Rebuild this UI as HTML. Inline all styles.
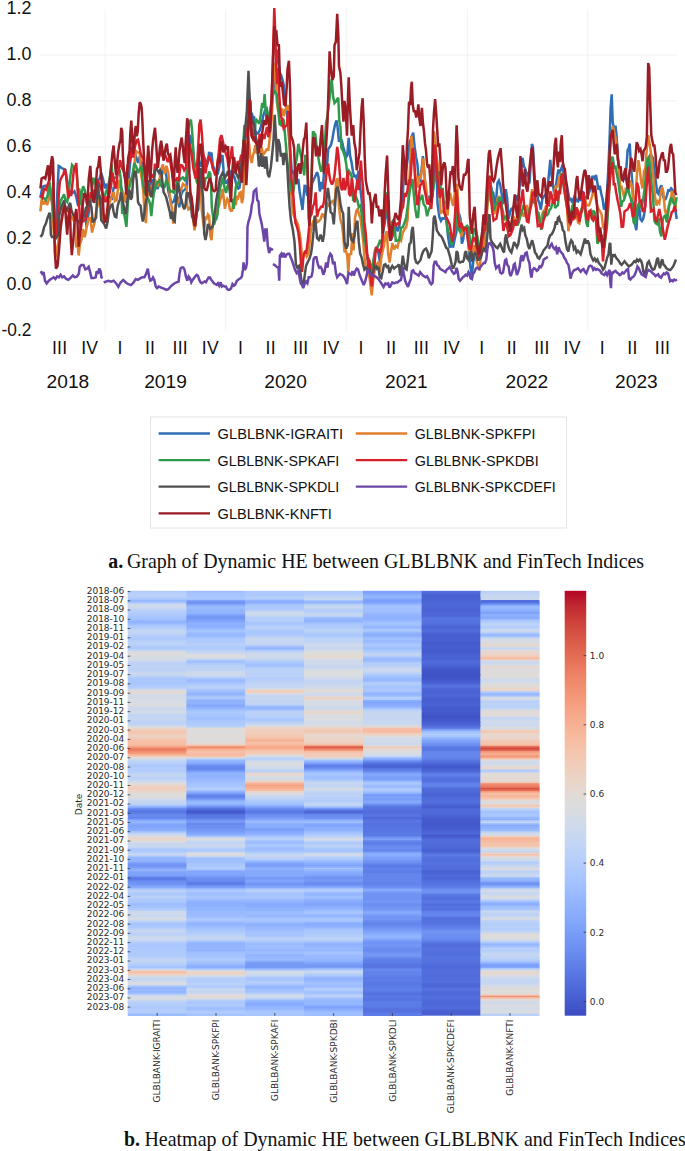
<!DOCTYPE html><html><head><meta charset="utf-8"><title>Dynamic HE</title>
<style>html,body{margin:0;padding:0;background:#fff}svg{display:block}.ax{font-family:"Liberation Sans",sans-serif;font-size:18px;fill:#111}.lg{font-family:"Liberation Sans",sans-serif;font-size:15.3px;fill:#111}.dv{font-family:"DejaVu Sans","Liberation Sans",sans-serif;font-size:9px;fill:#2a2a2a}.cap{font-family:"Liberation Serif",serif;font-size:19.9px;fill:#111}</style></head><body>
<svg width="685" height="1151" viewBox="0 0 685 1151">
<rect width="685" height="1151" fill="#fff"/>
<g stroke="#f1f1f1" stroke-width="0.9" fill="none">
<path d="M40.2 55.1H677.5"/>
<path d="M40.2 101.0H677.5"/>
<path d="M40.2 146.9H677.5"/>
<path d="M40.2 192.8H677.5"/>
<path d="M40.2 238.7H677.5"/>
<path d="M40.2 284.6H677.5"/>
<path d="M105.2 9.2V330.5"/>
<path d="M225.8 9.2V330.5"/>
<path d="M346.4 9.2V330.5"/>
<path d="M467.4 9.2V330.5"/>
<path d="M587.8 9.2V330.5"/>
</g>
<text class="ax" x="31.4" y="14.2" text-anchor="end" style="font-size:18.6px" textLength="24.9" lengthAdjust="spacingAndGlyphs">1.2</text>
<text class="ax" x="31.4" y="60.1" text-anchor="end" style="font-size:18.6px" textLength="24.9" lengthAdjust="spacingAndGlyphs">1.0</text>
<text class="ax" x="31.4" y="106.0" text-anchor="end" style="font-size:18.6px" textLength="24.9" lengthAdjust="spacingAndGlyphs">0.8</text>
<text class="ax" x="31.4" y="151.9" text-anchor="end" style="font-size:18.6px" textLength="24.9" lengthAdjust="spacingAndGlyphs">0.6</text>
<text class="ax" x="31.4" y="197.8" text-anchor="end" style="font-size:18.6px" textLength="24.9" lengthAdjust="spacingAndGlyphs">0.4</text>
<text class="ax" x="31.4" y="243.7" text-anchor="end" style="font-size:18.6px" textLength="24.9" lengthAdjust="spacingAndGlyphs">0.2</text>
<text class="ax" x="31.4" y="289.6" text-anchor="end" style="font-size:18.6px" textLength="24.9" lengthAdjust="spacingAndGlyphs">0.0</text>
<text class="ax" x="31.4" y="335.5" text-anchor="end" style="font-size:18.6px" textLength="29.8" lengthAdjust="spacingAndGlyphs">-0.2</text>
<text class="ax" x="59.7" y="354.2" text-anchor="middle" style="font-size:17.6px;letter-spacing:0.25px">III</text>
<text class="ax" x="89.8" y="354.2" text-anchor="middle" style="font-size:17.6px;letter-spacing:0.25px">IV</text>
<text class="ax" x="120.0" y="354.2" text-anchor="middle" style="font-size:17.6px;letter-spacing:0.25px">I</text>
<text class="ax" x="150.1" y="354.2" text-anchor="middle" style="font-size:17.6px;letter-spacing:0.25px">II</text>
<text class="ax" x="180.3" y="354.2" text-anchor="middle" style="font-size:17.6px;letter-spacing:0.25px">III</text>
<text class="ax" x="210.4" y="354.2" text-anchor="middle" style="font-size:17.6px;letter-spacing:0.25px">IV</text>
<text class="ax" x="240.5" y="354.2" text-anchor="middle" style="font-size:17.6px;letter-spacing:0.25px">I</text>
<text class="ax" x="270.7" y="354.2" text-anchor="middle" style="font-size:17.6px;letter-spacing:0.25px">II</text>
<text class="ax" x="300.8" y="354.2" text-anchor="middle" style="font-size:17.6px;letter-spacing:0.25px">III</text>
<text class="ax" x="331.0" y="354.2" text-anchor="middle" style="font-size:17.6px;letter-spacing:0.25px">IV</text>
<text class="ax" x="361.1" y="354.2" text-anchor="middle" style="font-size:17.6px;letter-spacing:0.25px">I</text>
<text class="ax" x="391.2" y="354.2" text-anchor="middle" style="font-size:17.6px;letter-spacing:0.25px">II</text>
<text class="ax" x="421.4" y="354.2" text-anchor="middle" style="font-size:17.6px;letter-spacing:0.25px">III</text>
<text class="ax" x="451.5" y="354.2" text-anchor="middle" style="font-size:17.6px;letter-spacing:0.25px">IV</text>
<text class="ax" x="481.7" y="354.2" text-anchor="middle" style="font-size:17.6px;letter-spacing:0.25px">I</text>
<text class="ax" x="511.8" y="354.2" text-anchor="middle" style="font-size:17.6px;letter-spacing:0.25px">II</text>
<text class="ax" x="541.9" y="354.2" text-anchor="middle" style="font-size:17.6px;letter-spacing:0.25px">III</text>
<text class="ax" x="572.1" y="354.2" text-anchor="middle" style="font-size:17.6px;letter-spacing:0.25px">IV</text>
<text class="ax" x="602.2" y="354.2" text-anchor="middle" style="font-size:17.6px;letter-spacing:0.25px">I</text>
<text class="ax" x="632.4" y="354.2" text-anchor="middle" style="font-size:17.6px;letter-spacing:0.25px">II</text>
<text class="ax" x="662.5" y="354.2" text-anchor="middle" style="font-size:17.6px;letter-spacing:0.25px">III</text>
<text class="ax" x="67.9" y="388.2" text-anchor="middle" style="font-size:18.6px" textLength="42.6" lengthAdjust="spacingAndGlyphs">2018</text>
<text class="ax" x="165.5" y="388.2" text-anchor="middle" style="font-size:18.6px" textLength="42.6" lengthAdjust="spacingAndGlyphs">2019</text>
<text class="ax" x="285.6" y="388.2" text-anchor="middle" style="font-size:18.6px" textLength="42.6" lengthAdjust="spacingAndGlyphs">2020</text>
<text class="ax" x="406.3" y="388.2" text-anchor="middle" style="font-size:18.6px" textLength="42.6" lengthAdjust="spacingAndGlyphs">2021</text>
<text class="ax" x="526.9" y="388.2" text-anchor="middle" style="font-size:18.6px" textLength="42.6" lengthAdjust="spacingAndGlyphs">2022</text>
<text class="ax" x="636.4" y="388.2" text-anchor="middle" style="font-size:18.6px" textLength="42.6" lengthAdjust="spacingAndGlyphs">2023</text>
<path d="M40.4 197.9 42.3 187.1 44.1 186.0 45.9 185.8 47.7 186.2 49.6 190.8 51.4 198.1 53.2 210.3 55.0 225.2 56.2 221.6 57.5 189.1 58.7 166.0 59.9 166.6 61.7 168.2 63.5 168.8 65.4 169.8 66.6 177.7 67.8 183.8 69.0 194.0 70.8 191.4 72.7 192.9 74.5 191.2 76.3 197.0 78.1 206.1 79.9 202.8 81.8 203.8 83.6 214.0 85.4 216.1 86.6 227.7 88.5 214.0 90.3 200.9 92.1 201.0 93.9 191.1 95.8 192.3 97.6 180.2 99.4 179.2 101.2 172.9 103.0 179.0 104.9 188.4 106.7 183.8 108.5 195.5 110.3 197.6 112.0 198.5 113.6 187.8 115.5 187.6 117.3 182.4 119.1 183.6 120.9 186.3 122.8 193.0 124.6 198.1 126.4 202.4 128.2 183.2 130.1 163.4 131.9 149.2 133.1 144.3 134.3 151.4 136.1 156.6 138.0 162.9 139.8 156.6 141.6 166.5 142.8 162.1 144.7 167.6 146.5 179.8 148.3 189.7 150.1 186.3 151.9 180.1 153.8 181.7 155.6 184.5 157.4 189.0 159.2 184.2 161.1 179.4 162.9 169.6 164.7 169.5 166.5 176.8 168.4 191.5 170.2 199.0 172.0 202.9 173.8 201.6 175.7 194.2 177.5 197.1 179.3 207.4 181.1 194.7 182.9 191.0 184.8 189.7 186.6 186.9 187.2 171.3 188.4 157.3 189.6 145.4 190.9 137.0 192.1 138.2 193.3 153.0 194.5 165.1 195.7 164.4 196.9 167.9 198.2 163.8 199.4 163.1 200.6 167.0 201.8 160.8 203.0 155.0 204.2 157.1 205.5 160.8 206.7 166.7 207.9 161.9 209.1 152.0 210.3 154.8 211.5 152.5 212.7 164.7 214.0 168.5 215.2 175.2 216.4 171.7 217.6 174.6 218.8 168.9 220.0 163.7 221.3 157.5 222.5 155.0 223.7 173.5 224.9 182.7 226.1 182.7 227.3 180.9 228.6 185.1 229.8 176.7 231.0 170.6 232.2 174.7 233.4 175.7 234.6 177.6 235.8 182.4 237.1 186.5 238.3 188.5 239.5 187.8 240.7 178.6 241.9 168.8 243.1 157.4 244.4 144.8 245.6 141.9 246.8 133.5 248.0 126.6 249.2 127.0 250.4 118.2 251.7 112.9 252.9 118.0 254.1 117.5 255.3 130.5 256.5 133.8 257.7 133.4 258.9 131.8 259.7 130.7 261.5 124.4 263.2 115.9 265.0 110.5 266.7 108.7 268.4 121.7 270.2 113.2 271.9 103.7 273.6 88.8 275.4 72.5 276.4 56.9 277.5 49.6 278.5 62.9 279.9 72.8 281.3 75.7 282.3 79.1 283.7 84.6 285.1 102.4 286.5 107.1 287.9 123.0 289.3 142.1 290.7 156.3 291.9 173.7 293.2 170.5 294.5 183.8 295.8 177.7 297.1 183.1 298.3 178.8 299.7 192.1 301.1 200.8 302.5 210.0 303.5 197.4 304.6 185.8 305.6 185.9 307.0 194.8 308.7 195.2 310.5 194.1 312.2 183.4 314.0 179.0 315.4 175.9 317.1 172.2 318.5 177.1 319.9 191.5 321.3 181.9 322.7 189.2 324.0 172.9 325.8 161.4 327.0 166.1 328.2 149.1 329.6 147.3 331.0 144.7 332.4 139.0 333.8 130.4 335.2 124.2 336.6 120.3 337.6 127.4 339.0 141.8 340.4 138.5 341.8 140.5 343.2 146.7 344.5 151.6 345.9 157.2 347.3 155.2 348.7 137.8 350.1 155.9 351.5 162.1 352.9 171.3 354.3 177.2 355.7 174.9 357.1 180.4 358.5 170.6 359.5 175.7 360.5 189.6 361.9 202.9 363.3 219.0 364.7 231.7 366.1 249.9 367.8 258.4 369.7 268.0 371.5 269.2 373.2 261.7 375.0 253.1 376.7 247.5 378.4 252.8 380.2 263.6 381.9 243.9 383.6 228.9 385.4 219.1 387.1 209.8 388.9 224.5 390.6 240.5 392.3 237.0 394.1 229.4 395.8 225.4 397.5 231.2 399.3 226.5 401.0 207.8 402.8 195.6 404.1 166.1 405.5 173.3 406.9 164.6 408.3 154.0 409.7 141.9 411.4 138.0 413.2 132.7 414.6 146.5 416.0 156.7 417.4 163.8 418.7 179.4 420.1 181.9 421.5 170.5 422.9 156.1 424.3 172.0 425.7 192.1 427.1 200.8 428.5 195.6 429.9 204.8 431.3 201.2 432.7 193.2 434.0 176.1 435.4 150.0 436.5 165.1 437.5 203.2 439.3 216.8 441.0 220.8 442.4 218.2 443.8 218.6 445.2 217.8 446.6 221.4 447.9 235.5 449.7 246.9 451.4 246.2 453.2 246.6 454.9 237.9 456.3 232.9 457.7 214.8 459.1 214.1 460.5 218.5 461.8 243.7 463.2 239.4 464.6 226.7 466.0 231.7 467.4 234.3 468.8 247.5 470.5 267.6 471.9 275.2 473.3 261.6 474.7 254.8 476.1 245.1 477.5 243.1 479.4 248.4 480.8 247.1 482.2 235.2 483.6 232.8 485.0 226.5 486.3 215.2 487.7 196.4 489.1 178.6 490.5 183.7 491.9 190.8 493.3 193.0 494.7 203.7 496.1 200.7 497.5 183.0 498.9 180.6 500.2 184.7 501.6 193.6 503.0 204.1 504.4 194.3 505.8 189.3 507.2 198.7 508.6 218.7 510.0 212.6 511.4 208.7 512.8 208.2 514.1 205.6 515.5 201.0 516.9 195.3 518.3 200.7 519.7 184.6 521.1 168.9 522.5 157.8 523.9 166.2 525.3 169.1 526.7 174.7 528.1 173.1 529.4 183.5 530.8 163.8 531.9 144.0 532.9 146.5 534.0 165.1 535.4 187.5 536.7 189.5 538.1 200.1 539.5 203.5 540.9 209.6 542.3 199.2 543.7 196.5 545.1 195.1 546.5 197.3 547.9 184.8 549.3 170.2 550.3 159.9 551.3 173.7 552.7 182.7 554.1 193.7 555.5 188.5 556.9 179.0 558.3 169.7 559.7 172.3 561.1 169.3 562.5 164.5 563.9 176.2 565.2 182.4 566.6 186.0 568.0 191.7 569.4 199.7 570.8 199.0 572.2 202.7 573.6 198.6 575.0 194.7 575.2 197.9 576.6 200.9 578.0 201.4 579.3 195.1 580.7 201.1 582.1 191.6 583.5 192.8 584.9 199.1 586.3 197.7 587.7 196.2 589.1 192.0 590.5 188.8 591.9 176.8 593.2 176.6 594.6 178.6 596.0 175.0 597.1 181.2 598.5 189.9 599.8 185.8 601.2 193.5 602.6 199.3 604.0 209.4 605.4 207.5 606.8 195.6 608.2 172.1 609.6 139.1 610.6 108.4 611.7 94.4 612.7 122.0 614.1 129.1 615.5 125.7 616.5 134.8 617.9 158.5 619.3 171.2 620.7 175.0 622.1 180.8 623.5 178.1 624.9 179.8 626.3 168.6 627.7 149.8 628.7 148.4 629.7 143.6 630.8 163.1 632.2 180.9 633.6 205.7 635.0 223.9 636.3 230.2 637.7 212.6 639.1 206.1 640.5 219.2 641.9 221.0 643.3 218.6 644.7 211.2 646.1 181.4 647.5 169.8 648.9 157.4 650.2 155.1 651.6 155.7 653.0 158.2 654.4 170.7 655.8 181.5 657.2 192.5 658.6 194.1 660.0 188.0 661.4 185.3 662.8 195.0 664.2 199.2 665.5 199.2 666.9 195.6 668.3 190.3 669.7 190.6 671.1 188.3 672.5 189.9 673.9 198.4 675.3 208.7 676.7 219.0" fill="none" stroke="#2f6db5" stroke-width="2.5" stroke-linejoin="miter" stroke-miterlimit="2.5" stroke-linecap="butt"/>
<path d="M40.4 211.4 41.6 199.4 43.5 204.4 45.3 200.7 47.1 205.1 48.9 199.3 50.2 191.3 51.4 190.4 53.2 225.6 55.0 246.4 56.2 257.4 57.5 247.2 58.9 237.7 60.5 224.3 62.3 217.9 64.1 202.5 66.0 214.3 67.8 222.0 69.6 215.1 71.4 216.6 72.7 218.7 74.5 222.2 76.3 247.5 77.5 242.4 78.7 255.5 79.9 244.4 81.5 239.7 83.0 229.0 84.8 237.3 86.6 227.6 88.5 218.3 90.3 218.1 92.1 232.5 93.3 227.1 94.5 223.2 96.4 209.4 98.2 204.1 100.0 195.4 101.8 208.3 103.7 222.5 105.5 216.9 107.3 213.0 109.1 204.2 110.9 198.7 112.4 195.6 113.6 191.9 114.9 201.1 116.7 200.0 118.5 183.3 119.7 179.8 120.9 190.2 122.2 193.3 123.4 193.2 125.2 201.6 127.0 193.0 128.8 179.7 130.7 179.0 132.5 178.4 134.3 167.3 135.5 150.6 137.0 152.2 138.2 152.5 139.7 153.4 141.0 174.2 142.2 181.4 143.4 193.1 144.7 215.3 145.9 223.1 147.1 202.0 148.3 187.4 149.5 196.0 151.3 187.2 153.2 189.4 155.0 179.4 156.8 184.5 158.0 186.3 159.8 177.2 161.1 169.5 162.9 164.4 164.7 173.8 166.5 165.9 168.4 173.1 169.6 193.1 170.8 203.6 172.0 208.1 173.2 223.7 174.4 217.3 175.7 204.8 177.5 203.5 179.3 200.3 181.1 189.7 182.9 183.9 184.8 185.5 186.6 186.6 187.2 205.9 188.4 209.5 189.6 209.0 190.9 206.1 192.1 208.0 193.3 221.2 194.5 230.3 195.7 222.5 196.9 204.3 198.2 198.2 199.4 187.0 200.6 185.6 201.8 210.6 203.0 221.1 204.2 228.6 205.5 216.7 206.7 218.1 207.9 214.4 209.1 216.0 210.3 235.4 211.5 240.2 212.7 226.0 214.0 218.5 215.2 217.5 216.4 217.2 217.6 207.6 218.8 206.5 220.0 200.7 221.3 196.9 222.5 188.8 223.7 197.3 224.9 208.8 226.1 202.3 227.3 198.9 228.6 201.2 229.8 209.0 231.0 210.9 232.2 210.6 233.4 202.5 234.6 198.2 235.8 205.2 237.1 195.9 238.3 197.7 239.5 192.9 240.7 192.1 241.9 203.2 243.1 197.6 244.4 170.6 245.6 152.1 246.8 144.6 248.0 137.4 249.2 144.6 250.4 158.1 251.7 163.0 252.9 155.9 254.1 151.6 255.3 145.2 256.5 153.2 257.7 151.5 258.9 148.4 259.7 152.8 261.5 146.9 263.2 154.7 265.0 152.2 266.7 149.5 268.4 149.8 270.2 133.9 271.9 116.7 273.6 73.6 275.4 62.7 276.8 101.5 278.2 111.7 279.6 103.5 280.9 115.8 282.3 108.4 283.7 116.1 285.1 110.6 286.5 106.9 287.9 105.2 289.3 123.4 290.3 170.9 291.4 196.1 292.8 212.1 294.5 217.8 296.2 220.6 298.0 224.5 299.0 230.0 300.4 237.8 301.8 253.6 303.2 257.4 304.9 251.7 306.7 256.6 308.4 253.6 309.4 245.6 310.8 230.6 312.2 224.1 313.6 220.6 315.4 216.9 317.1 222.4 318.8 221.4 320.6 219.2 322.3 213.5 324.0 216.8 325.8 213.2 327.5 204.0 329.3 205.9 331.0 202.3 332.7 201.0 334.5 205.6 336.2 180.7 337.6 178.3 339.0 206.9 340.4 219.0 341.8 223.9 343.2 234.6 344.5 252.2 345.9 250.5 347.3 256.1 348.4 272.2 349.4 254.1 351.2 254.0 352.2 233.0 353.6 250.5 355.0 218.1 356.4 210.7 357.8 209.2 359.1 214.8 360.5 218.3 361.9 230.5 363.3 241.6 364.7 260.0 366.1 268.0 367.8 274.5 369.4 276.7 370.8 288.2 371.8 295.3 373.2 279.9 375.0 268.8 376.7 264.7 378.4 262.0 379.8 272.2 381.2 258.8 382.6 251.3 384.0 245.6 385.4 235.5 386.8 231.0 388.2 254.0 389.6 262.6 390.9 252.9 392.3 243.0 394.1 249.4 395.8 246.0 397.5 247.4 399.3 238.9 401.0 240.8 402.8 232.6 404.5 229.2 406.2 227.1 407.6 219.6 409.0 189.6 410.4 158.1 411.4 135.7 412.5 146.2 413.9 156.0 415.3 174.1 416.7 186.6 418.1 186.6 419.4 177.0 420.8 177.5 422.2 165.9 423.3 158.3 424.7 178.6 426.0 185.7 427.4 199.2 428.8 200.9 430.2 201.9 431.6 195.5 433.0 163.3 434.0 131.3 435.4 142.5 436.5 156.1 437.9 165.9 439.3 182.8 440.6 213.6 442.0 211.3 443.4 211.6 444.8 200.8 446.2 209.8 447.6 215.4 449.0 195.7 450.4 194.5 451.8 201.0 453.2 205.8 454.5 195.7 455.9 185.0 457.3 184.9 458.4 211.6 459.8 224.8 461.2 236.7 462.5 232.8 463.9 226.8 465.3 228.9 466.7 234.3 468.1 237.7 469.5 252.0 470.9 250.2 472.3 253.7 473.7 245.3 475.1 248.5 476.4 260.0 477.8 264.6 479.4 270.5 480.8 256.7 482.2 245.4 483.6 247.9 485.0 239.0 486.3 224.0 487.7 200.9 489.1 187.2 490.5 201.0 491.9 203.1 493.3 209.3 494.7 212.9 496.1 211.6 497.5 198.7 498.9 196.9 500.2 197.6 501.6 208.0 503.0 211.9 504.4 219.6 505.8 218.7 507.2 221.1 508.6 222.2 510.0 224.6 511.4 225.2 512.8 220.5 514.1 217.5 515.5 219.5 516.9 218.9 518.3 223.4 519.7 214.9 521.1 210.6 522.5 213.2 523.9 216.8 525.3 210.9 526.7 205.0 528.1 217.5 529.4 209.6 530.8 198.4 532.2 189.1 533.6 196.9 535.0 201.0 536.4 209.4 537.8 219.0 539.2 221.3 540.6 220.5 542.0 215.1 543.3 211.4 544.7 209.9 546.1 205.9 547.5 205.6 548.9 200.4 550.3 195.8 551.7 195.7 553.1 195.4 554.5 192.1 555.9 185.8 557.2 187.7 558.6 180.2 560.0 176.2 561.4 173.1 562.8 177.2 564.2 187.6 565.6 197.5 567.0 207.0 568.4 231.3 569.8 219.9 571.2 215.2 572.5 218.4 573.9 217.4 575.1 219.1 576.2 208.6 578.0 222.6 579.3 223.4 580.7 216.3 582.1 206.7 583.5 208.5 584.9 197.1 586.3 205.3 587.7 205.5 589.1 205.3 590.5 201.2 591.9 196.8 593.2 192.1 594.6 192.2 596.0 199.8 597.4 206.6 598.8 209.3 600.2 211.5 601.6 214.5 603.0 226.5 604.4 229.5 605.8 223.9 607.1 210.9 608.5 183.6 609.9 153.0 611.3 135.2 612.7 126.1 614.1 131.7 615.5 137.7 616.5 145.6 617.6 153.0 619.0 173.6 620.4 189.2 621.7 187.5 623.1 193.2 624.5 198.4 625.9 187.7 627.3 192.0 628.7 188.9 630.1 180.3 631.5 184.8 632.9 195.5 634.3 202.0 635.7 194.8 637.0 173.5 638.4 160.2 639.8 169.4 641.2 182.6 642.6 188.4 644.0 171.2 645.4 168.4 646.8 148.6 648.2 135.1 649.6 143.8 650.9 152.5 652.3 166.2 653.7 180.5 655.1 196.9 656.5 205.5 657.9 201.6 659.3 203.3 660.7 193.4 662.1 186.8 663.5 192.6 664.8 209.7 666.2 214.6 667.6 210.7 669.0 204.9 670.4 203.8 671.8 190.9 673.2 195.7 674.6 198.1 676.0 207.8" fill="none" stroke="#e07f2c" stroke-width="2.5" stroke-linejoin="miter" stroke-miterlimit="2.5" stroke-linecap="butt"/>
<path d="M40.4 197.0 42.3 197.5 44.1 198.4 45.9 200.0 47.7 195.3 49.6 182.0 50.8 191.8 52.0 200.1 53.8 218.9 55.6 236.8 56.8 226.3 58.7 211.2 60.5 200.9 62.3 197.7 64.1 194.2 65.4 200.2 67.2 202.0 69.0 190.0 70.6 174.5 72.0 164.8 73.9 167.0 75.7 166.4 76.9 175.7 78.1 190.6 79.3 188.5 80.6 205.2 81.8 192.3 83.2 186.3 84.8 190.0 86.0 197.6 87.8 207.5 89.7 203.3 91.5 194.4 93.3 177.8 95.1 181.5 97.0 196.3 98.8 197.8 100.6 198.2 102.4 204.1 104.3 198.6 106.1 191.3 107.9 188.8 109.7 178.3 111.6 164.4 112.4 175.1 114.3 178.1 116.1 177.6 117.9 172.8 119.7 171.2 120.9 180.2 122.2 212.8 124.0 213.3 125.2 219.5 126.4 226.9 127.6 207.5 128.8 189.4 130.7 181.4 132.5 174.9 134.3 163.1 136.1 166.4 138.0 172.9 139.8 168.9 141.6 166.2 142.8 182.9 144.7 192.5 146.5 195.8 148.3 199.0 150.1 203.7 151.3 216.2 152.6 202.9 153.8 193.6 155.6 186.0 157.4 182.2 159.2 180.8 161.1 185.6 162.9 187.9 164.7 186.9 166.5 179.4 168.4 186.7 170.2 191.7 172.0 191.2 173.8 192.6 175.7 187.2 177.5 179.2 179.3 181.0 181.1 178.5 182.9 177.5 184.8 180.2 186.6 175.8 187.2 133.3 188.4 127.1 189.6 121.5 190.9 119.7 192.1 130.5 193.3 150.3 194.5 169.7 195.7 176.8 196.9 182.2 198.2 184.0 199.4 173.4 200.6 172.4 201.8 169.3 203.0 178.8 204.2 187.3 205.5 178.4 206.7 177.9 207.9 176.9 209.1 171.6 210.3 173.6 211.0 183.2 211.8 207.0 212.7 214.2 214.0 224.7 215.2 220.6 216.4 218.8 217.6 213.7 218.8 197.9 220.0 187.7 221.3 183.8 222.5 177.4 223.7 183.1 224.9 189.7 226.1 192.8 227.3 186.5 228.6 184.1 229.8 191.6 231.0 201.0 232.2 199.2 233.7 208.8 234.6 199.7 235.8 187.0 237.1 183.5 238.3 183.8 239.5 176.7 240.7 173.3 241.9 168.0 243.1 147.6 244.4 126.0 245.1 125.6 246.1 136.5 247.3 134.0 248.5 129.0 249.7 120.1 250.9 123.7 252.1 133.3 253.4 130.9 254.6 132.8 255.8 118.9 257.0 120.4 258.2 122.2 259.4 123.9 260.8 114.5 262.2 102.9 263.6 107.9 264.6 94.1 265.6 108.8 267.0 121.4 268.8 116.5 270.5 107.8 272.3 98.5 274.0 90.0 275.4 92.1 276.8 94.6 278.2 109.9 279.6 124.2 280.9 125.3 282.3 118.3 283.7 120.3 284.8 132.4 285.8 143.3 286.8 155.8 287.9 167.1 288.9 180.2 290.0 179.5 291.0 188.4 292.4 194.4 293.8 189.3 295.2 165.4 296.9 158.3 298.3 143.9 299.4 148.5 300.4 153.6 301.4 157.7 302.8 165.3 304.2 175.4 305.3 154.8 306.7 158.7 308.4 189.7 309.8 188.6 310.8 200.7 311.9 168.9 312.9 132.3 313.6 132.1 315.4 134.6 316.7 147.8 318.1 156.3 319.5 164.2 320.6 169.7 321.6 171.6 322.7 166.1 324.0 148.7 325.1 139.4 326.1 123.4 327.5 115.4 329.3 101.1 330.6 88.1 331.7 79.1 333.1 96.6 334.5 103.1 335.9 101.6 337.2 99.0 338.3 97.8 339.3 121.0 340.4 126.6 341.4 148.0 343.2 151.4 344.9 156.6 346.3 164.7 347.7 177.4 349.1 171.3 350.5 173.2 351.8 177.1 353.2 200.9 354.6 197.7 356.0 196.8 357.4 200.4 358.8 207.1 360.5 205.4 361.6 213.5 363.0 226.3 364.4 240.7 365.8 245.1 367.5 258.6 368.6 258.5 369.7 262.6 371.5 269.5 373.2 262.8 375.0 250.0 376.7 248.4 378.4 245.2 380.2 239.9 381.9 243.5 383.6 225.5 385.4 210.2 386.4 192.3 387.8 214.3 389.2 230.1 390.6 233.7 392.3 221.7 394.1 219.2 395.8 240.8 397.5 240.5 399.3 240.0 401.0 227.7 402.8 227.2 404.5 222.8 406.2 217.7 408.0 203.8 409.7 191.7 411.4 182.1 412.5 179.0 413.9 195.3 415.3 208.9 416.7 217.0 418.1 216.8 419.4 200.5 420.8 198.8 422.2 194.8 423.6 204.1 425.4 206.5 427.1 216.3 428.8 209.8 430.6 205.3 432.3 195.5 434.0 183.9 435.8 175.2 437.5 172.2 439.3 172.8 441.0 190.5 442.7 188.1 444.5 213.0 446.2 218.4 447.9 232.2 449.7 234.0 451.4 244.7 453.2 236.7 454.9 231.9 456.6 208.7 458.4 229.0 460.1 231.6 461.8 228.7 463.6 228.1 465.3 227.7 467.1 225.9 468.8 227.7 470.5 247.6 472.3 241.4 474.0 229.4 475.8 229.0 477.5 237.5 479.4 249.5 480.8 246.2 482.2 236.8 483.6 233.4 485.0 228.8 486.3 218.3 487.7 191.9 489.1 175.5 490.2 179.6 491.2 190.3 492.6 200.9 494.0 210.5 495.4 205.2 496.8 203.9 498.2 200.8 499.6 197.1 500.9 200.6 502.3 209.3 503.7 219.0 505.1 217.2 506.5 216.0 507.9 222.8 509.3 226.6 510.7 231.6 512.1 227.7 513.5 221.0 514.8 221.4 516.2 220.6 517.6 225.5 519.0 221.3 520.4 216.0 521.8 211.7 523.2 206.5 524.6 207.1 526.0 215.4 527.4 215.5 528.7 215.4 530.1 207.8 531.5 202.3 532.9 198.7 534.3 202.7 535.7 202.6 537.1 211.8 538.5 212.9 539.9 221.5 541.3 229.8 542.7 222.2 544.0 211.1 545.4 214.9 546.8 215.3 548.2 213.9 549.6 209.6 551.0 208.3 552.4 203.2 553.8 198.4 555.2 208.1 556.6 206.3 557.9 205.1 559.3 192.2 560.7 184.6 561.8 173.2 562.8 178.5 564.2 189.8 565.6 198.3 567.0 206.3 568.4 206.4 569.8 216.8 571.2 211.9 572.5 205.4 573.9 202.8 575.1 211.5 576.2 211.3 578.0 213.8 579.3 218.4 580.7 211.1 582.1 207.8 583.5 206.9 584.9 209.3 586.3 222.4 587.7 226.8 589.1 212.0 590.5 212.3 591.9 218.5 593.2 210.4 594.6 212.3 596.0 220.5 597.4 243.6 598.8 241.1 600.2 240.8 601.6 235.1 603.0 244.5 604.4 247.9 605.8 235.2 607.1 225.1 608.5 201.6 609.9 178.4 611.3 158.5 612.7 156.8 614.1 167.3 615.5 166.7 616.9 174.2 618.3 181.9 619.7 191.7 621.1 207.0 622.4 201.5 623.8 200.5 625.2 195.8 626.6 191.7 628.0 185.7 629.4 194.7 630.8 198.3 632.2 206.7 633.6 222.2 635.0 224.2 636.3 215.0 637.7 205.5 639.1 203.4 640.5 206.6 641.9 205.0 643.3 198.5 644.7 188.1 646.1 173.3 647.5 158.6 648.9 157.3 650.2 167.5 651.6 185.3 653.0 196.3 654.4 221.0 655.8 223.4 657.2 224.3 658.6 217.9 660.0 231.7 661.4 236.3 662.8 219.3 664.2 216.3 665.5 215.5 666.9 222.4 668.3 212.1 669.7 202.1 671.1 197.5 672.5 201.3 673.9 203.6 675.3 204.7 676.7 197.3" fill="none" stroke="#2f9a4c" stroke-width="2.5" stroke-linejoin="miter" stroke-miterlimit="2.5" stroke-linecap="butt"/>
<path d="M40.4 195.2 42.3 197.7 44.1 188.8 45.9 189.9 47.7 184.5 49.6 179.1 51.1 169.8 52.3 158.5 53.2 179.9 54.4 216.7 56.2 237.4 57.5 219.3 58.7 195.6 59.9 181.3 61.7 177.0 63.5 174.3 64.7 168.7 66.0 174.5 67.2 187.6 68.4 198.2 69.9 190.7 71.1 196.0 72.7 181.5 73.9 169.1 75.1 168.0 76.3 163.1 77.1 178.3 78.1 199.4 79.3 207.9 80.6 230.1 81.8 219.1 83.6 221.1 85.4 219.6 87.2 212.3 89.1 199.8 90.9 192.3 92.7 197.8 94.5 198.7 96.4 188.3 98.2 180.6 100.0 186.2 101.8 191.2 103.7 197.5 105.5 202.1 107.3 197.1 109.1 195.1 110.9 186.6 112.4 172.7 113.6 179.2 114.9 186.6 116.1 188.2 117.5 174.4 118.8 170.1 120.0 160.1 121.2 164.9 122.4 168.8 124.0 171.8 125.8 180.4 127.6 165.4 129.5 161.8 131.3 147.1 133.1 157.6 134.9 146.7 136.7 140.4 138.0 139.7 139.2 145.6 140.4 152.4 141.9 156.6 143.3 158.0 144.8 175.9 146.2 177.6 147.4 160.2 148.4 151.2 149.6 165.4 151.1 178.0 152.6 174.2 153.8 177.5 155.0 163.7 156.4 170.7 157.9 160.7 159.4 155.6 160.8 150.1 162.3 155.1 164.1 153.4 165.9 156.5 167.8 162.1 169.6 157.1 171.4 168.6 173.2 180.2 175.0 180.8 176.9 178.5 178.7 180.9 180.5 165.0 182.3 165.5 184.2 170.3 186.0 167.5 187.2 139.9 188.4 143.6 189.6 144.4 190.9 150.5 192.1 158.0 193.3 168.0 194.5 173.6 195.7 178.7 196.9 169.1 198.2 146.3 199.4 124.2 200.6 119.5 201.8 132.8 203.0 150.8 204.2 159.6 205.5 173.3 206.7 165.3 207.9 158.8 209.1 156.9 210.3 160.1 211.5 162.3 212.7 168.3 214.0 171.5 215.2 174.2 216.4 173.2 217.6 161.7 218.8 152.3 220.0 138.9 221.3 135.2 222.5 139.6 223.7 145.7 224.9 150.1 226.1 154.5 227.3 157.8 228.6 167.1 229.8 161.4 231.0 154.2 232.0 146.3 232.9 159.0 234.1 157.1 235.4 168.5 236.6 167.5 237.8 160.9 239.0 164.1 240.2 159.8 241.2 154.8 242.2 162.9 243.1 150.2 244.4 136.8 245.6 136.3 246.8 130.1 248.0 122.8 249.2 111.7 250.4 112.1 251.7 136.2 252.9 133.2 254.1 140.3 255.3 141.9 256.5 142.9 257.7 144.6 258.9 139.8 259.7 133.7 261.1 145.1 262.9 134.4 264.3 139.0 265.6 132.9 267.0 127.0 268.4 137.2 270.2 127.4 271.6 96.7 272.6 70.1 273.6 33.2 274.3 8.1 275.0 26.3 276.1 63.2 277.1 84.1 278.2 67.7 279.2 94.1 280.6 114.9 282.0 119.9 283.7 128.5 285.5 126.2 286.8 125.3 288.2 111.2 289.3 115.2 290.3 155.0 291.4 178.8 292.8 187.3 294.1 206.4 295.5 223.1 296.9 226.5 298.3 232.3 299.7 243.3 301.1 264.9 302.1 271.9 303.5 255.6 304.9 251.9 306.3 252.5 307.7 242.0 308.7 231.5 310.1 216.6 311.5 214.3 312.9 206.5 314.3 203.4 315.7 192.3 317.1 216.8 318.5 211.0 319.9 208.7 321.3 206.6 322.7 206.8 324.0 201.9 325.4 183.4 326.8 171.1 328.2 163.5 329.3 175.1 330.6 181.4 332.0 184.6 333.4 181.3 334.5 175.5 335.9 161.4 337.2 146.9 338.3 154.4 339.3 166.6 340.7 186.6 342.1 190.4 343.5 178.0 344.9 190.2 346.3 184.5 347.7 170.9 349.1 193.9 350.5 196.2 351.8 178.4 353.2 189.2 354.6 202.4 356.0 189.8 357.4 179.9 358.8 190.2 359.8 173.9 360.9 160.5 361.9 175.3 363.0 187.3 364.4 221.9 365.8 233.7 367.1 252.9 368.5 268.5 369.4 259.7 370.4 276.4 371.8 286.3 373.2 272.0 374.6 263.0 376.0 246.8 377.4 249.7 378.8 249.8 380.2 252.2 381.6 247.6 382.9 231.1 384.3 223.0 385.4 209.3 386.4 194.8 387.5 201.1 388.5 216.8 389.6 236.6 390.6 240.7 392.0 236.1 393.4 224.9 394.8 222.6 396.2 225.1 397.5 223.7 398.9 224.5 400.3 217.4 401.7 209.9 403.1 207.0 404.5 192.9 405.9 196.8 407.3 191.0 408.7 181.6 409.7 182.8 410.8 174.4 411.8 159.1 412.8 148.0 413.9 155.4 414.9 175.4 416.0 191.5 417.4 205.2 418.7 198.3 420.1 185.6 421.5 183.6 422.9 180.2 424.3 188.5 425.7 195.0 427.1 203.3 428.5 203.7 429.9 198.2 431.3 209.0 432.7 189.7 434.0 152.9 435.1 144.7 436.1 157.9 437.2 174.3 438.6 189.6 439.9 197.7 441.3 189.0 442.7 194.6 444.1 211.9 445.5 215.4 446.9 218.5 448.3 221.3 449.7 224.6 451.1 234.2 452.5 241.9 453.9 231.8 455.2 212.1 456.3 189.7 457.3 198.7 458.4 219.0 459.8 228.1 461.2 222.8 462.5 226.5 463.9 230.1 465.3 228.5 466.7 228.4 468.1 241.4 469.5 248.4 470.9 249.2 472.3 242.0 473.7 238.0 475.1 238.7 476.4 245.2 477.8 252.3 479.4 259.5 480.8 249.5 482.2 242.1 483.6 231.1 485.0 229.1 486.3 213.4 487.7 188.5 488.8 181.8 489.8 176.0 490.9 196.6 492.3 211.9 493.6 220.4 495.0 219.3 496.4 218.7 497.8 210.9 499.2 203.6 500.6 201.3 502.0 214.8 503.4 231.0 504.8 224.1 506.2 222.9 507.5 228.7 508.9 236.2 510.3 235.2 511.7 232.0 513.1 228.5 514.5 219.9 515.9 225.4 517.3 222.6 518.7 215.9 520.1 207.2 521.4 198.4 522.8 189.4 524.2 206.6 525.6 212.8 527.0 221.5 528.4 222.2 529.8 211.2 531.2 205.5 532.6 192.8 533.6 192.8 535.0 195.4 536.4 211.7 537.8 226.2 539.2 225.8 540.6 224.7 542.0 228.5 543.3 220.9 544.7 217.1 546.1 211.4 547.5 203.8 548.9 204.8 550.3 191.4 551.7 196.3 553.1 202.4 554.5 203.1 555.9 189.5 557.2 200.8 558.6 190.8 560.0 194.1 561.4 176.8 562.5 173.7 563.5 183.3 564.9 191.6 566.3 202.6 567.7 212.5 569.1 221.7 570.5 223.9 571.8 219.6 573.2 219.3 574.6 217.6 575.2 216.8 576.6 207.3 578.0 211.3 579.3 221.7 580.7 214.1 582.1 210.0 583.5 191.9 584.9 203.0 586.3 216.5 587.7 220.5 589.1 211.6 590.5 210.4 591.9 218.7 593.2 220.4 594.6 216.0 596.0 219.7 597.4 233.1 598.8 241.2 600.2 232.2 601.6 235.6 603.0 261.4 604.4 243.2 605.8 233.8 607.1 213.2 608.5 198.6 609.9 179.4 611.3 168.0 612.7 162.3 613.8 185.4 614.8 182.9 616.2 192.6 617.6 200.3 619.0 206.6 620.4 213.8 621.7 226.9 623.1 226.7 624.5 211.5 625.9 210.5 627.3 209.7 628.7 207.3 630.1 203.2 631.5 208.4 632.9 217.3 634.3 214.3 635.7 200.3 637.0 182.6 638.4 186.9 639.8 202.8 641.2 201.2 642.6 210.9 644.0 210.6 645.4 206.4 646.8 183.5 648.2 166.8 649.6 184.7 650.9 211.5 652.3 210.8 653.7 209.1 655.1 218.7 656.5 222.2 657.9 215.3 659.3 209.1 660.7 216.3 662.1 224.3 663.5 232.7 664.8 239.7 666.2 233.8 667.6 226.9 669.0 221.4 670.4 217.7 671.8 212.1 673.2 211.2 674.6 206.0 676.0 211.7" fill="none" stroke="#d6202a" stroke-width="2.5" stroke-linejoin="miter" stroke-miterlimit="2.5" stroke-linecap="butt"/>
<path d="M40.4 237.0 42.3 234.6 44.1 227.3 45.9 223.6 47.7 217.5 49.6 212.7 50.2 215.1 50.9 234.6 52.0 237.0 53.8 237.0 56.2 238.2 58.1 234.6 59.3 215.1 61.1 207.8 62.9 202.9 64.1 200.5 65.4 207.8 67.2 210.2 69.0 205.4 70.2 202.9 71.4 210.2 73.3 215.1 74.5 217.5 76.9 220.0 79.3 222.4 81.8 220.0 84.2 215.1 86.0 207.8 87.8 205.4 89.7 200.5 91.5 207.8 92.7 222.4 94.5 220.0 96.1 217.5 97.0 198.1 97.8 183.5 98.8 193.2 100.0 198.1 101.2 220.0 103.0 222.4 104.6 224.8 106.1 228.5 107.5 222.4 109.1 210.2 110.9 205.4 112.4 204.4 113.6 211.7 114.9 216.6 116.3 217.2 117.5 206.9 118.8 202.0 120.0 199.6 120.9 192.3 122.2 197.1 123.4 204.4 124.6 211.7 125.8 214.1 127.0 204.4 128.2 194.7 129.5 189.8 130.7 199.6 131.9 197.1 133.1 180.1 134.3 172.8 135.5 171.0 136.7 180.1 138.0 202.0 139.2 204.4 140.6 205.6 141.9 216.6 142.8 221.4 144.3 214.1 145.5 204.4 146.7 197.1 147.9 180.1 149.1 187.4 150.4 194.7 151.6 197.1 152.8 187.4 154.0 180.1 155.2 170.4 156.4 169.2 157.7 170.4 158.9 172.8 160.1 170.4 161.3 172.8 162.5 182.5 163.7 192.3 165.0 194.7 166.2 197.1 167.4 202.0 168.6 206.9 169.8 211.7 171.0 219.0 172.2 211.7 173.5 220.2 174.7 221.4 175.9 204.4 177.1 187.4 178.3 182.5 179.5 192.3 180.8 197.1 182.0 202.0 183.2 206.9 184.4 209.3 185.6 204.4 186.8 192.3 187.2 197.3 188.4 192.4 189.6 197.3 190.9 204.6 192.1 216.7 193.3 219.1 194.5 225.2 195.7 221.6 196.9 211.9 198.2 209.4 199.4 185.1 200.6 168.1 201.8 185.1 203.0 197.3 204.2 233.7 205.5 239.9 206.7 233.7 207.9 224.0 209.1 226.4 210.3 228.9 211.5 227.7 212.7 226.4 214.0 219.1 215.2 209.4 216.4 199.7 217.6 192.4 218.8 185.1 220.0 177.8 221.3 175.4 222.5 172.9 223.7 175.4 224.9 177.8 226.1 175.4 227.3 172.9 228.6 175.4 229.8 177.8 231.0 179.0 232.2 177.8 233.4 172.9 234.6 170.5 235.8 172.9 237.1 175.4 238.3 177.8 239.5 175.4 240.7 168.1 241.9 160.8 243.1 148.6 244.4 136.5 245.6 124.3 246.8 112.2 247.8 87.8 248.5 70.8 249.2 87.8 250.4 112.2 251.7 124.3 252.9 121.9 254.1 124.3 255.3 134.0 256.5 141.3 257.7 151.1 258.9 166.3 259.7 165.2 261.1 153.0 262.3 166.9 263.6 156.5 265.0 168.7 266.3 156.5 267.7 173.9 269.1 177.4 270.9 166.9 272.3 153.0 273.6 139.1 274.7 114.8 276.1 139.1 277.1 161.7 278.2 139.1 279.6 144.3 280.9 156.5 282.3 153.0 283.4 165.2 284.4 153.0 285.8 154.8 287.2 165.2 288.6 191.3 289.6 206.9 291.0 220.8 292.8 229.5 294.5 241.7 295.9 264.2 297.3 267.7 299.0 266.0 300.4 272.9 301.8 283.4 303.2 286.8 304.6 276.4 306.0 266.0 307.5 262.5 309.3 259.0 311.0 253.8 312.2 245.1 313.6 231.2 314.7 215.6 315.7 224.3 317.1 238.2 318.8 239.9 320.6 234.7 322.7 241.7 324.0 234.7 325.4 217.3 326.5 198.2 327.9 187.8 329.3 198.2 330.6 212.1 332.4 213.8 333.8 224.3 335.2 203.4 336.2 189.5 337.6 186.9 339.0 193.0 340.4 203.4 341.8 210.4 343.2 213.8 344.5 241.7 346.3 248.6 347.7 245.1 348.7 206.9 350.1 233.0 351.5 239.9 353.2 241.7 354.6 234.7 356.0 224.3 357.4 220.8 358.8 241.7 360.2 253.8 361.6 257.3 363.0 264.2 364.4 269.5 366.1 267.7 367.5 269.5 369.7 270.3 371.5 273.8 372.9 272.1 374.3 268.6 375.6 265.1 377.0 268.6 378.4 266.9 379.8 277.3 381.2 278.2 382.6 272.1 384.0 265.1 385.4 264.3 386.8 266.9 388.2 266.0 389.6 273.0 390.9 268.6 392.3 266.0 394.1 268.6 395.8 266.9 397.5 266.0 398.9 264.3 400.3 275.6 401.7 265.1 402.8 255.6 403.8 261.7 405.2 268.6 406.6 269.5 408.0 258.2 409.4 244.3 410.8 242.5 411.8 230.4 412.8 226.9 413.9 240.8 414.9 258.2 416.3 262.5 417.7 263.4 419.1 261.7 420.5 259.9 421.9 254.7 423.3 251.2 424.7 249.5 426.0 248.6 427.4 251.2 428.8 258.2 430.2 254.7 431.6 251.2 432.7 237.3 433.7 218.2 434.7 215.6 435.8 221.7 436.8 230.4 437.9 232.1 439.3 234.7 440.6 235.6 442.0 237.3 443.4 240.8 444.8 244.3 446.2 247.8 447.6 248.6 449.0 253.0 450.4 258.2 451.8 265.1 453.2 268.6 454.5 265.1 455.6 261.7 456.6 251.2 457.7 253.0 458.7 261.7 460.1 262.5 461.5 261.7 462.9 261.7 463.9 259.9 465.0 253.0 466.0 251.2 467.1 258.2 468.5 259.9 469.8 254.7 471.2 251.2 472.3 261.7 473.7 254.7 475.1 253.0 476.4 254.7 477.8 259.9 479.4 259.5 480.8 257.7 482.2 252.5 483.6 249.0 485.0 250.8 486.3 245.6 487.7 231.7 488.8 216.0 489.5 214.3 490.5 238.6 491.9 242.1 493.3 243.8 494.7 245.6 496.1 247.3 497.5 248.2 498.9 245.6 500.2 243.8 501.6 247.3 503.0 250.8 504.1 252.5 505.1 238.6 506.2 234.3 507.2 242.1 508.6 247.3 510.0 250.8 511.4 252.5 512.8 247.3 514.1 242.1 515.5 244.7 516.9 247.3 518.3 243.8 519.7 235.1 520.8 228.2 521.8 224.7 522.8 229.9 524.2 228.2 525.3 235.1 526.7 238.6 528.1 245.6 529.4 249.0 530.8 243.8 532.2 240.3 533.6 245.6 535.0 252.5 536.4 254.2 537.8 257.7 539.2 258.6 540.6 256.0 542.0 254.2 543.3 250.8 544.7 249.0 546.1 247.3 547.5 245.6 548.9 238.6 550.3 235.1 551.7 234.3 553.1 231.7 554.5 228.2 555.9 221.2 556.9 224.7 557.9 217.8 559.0 216.9 560.0 221.2 561.4 223.0 562.8 229.9 564.2 231.7 565.6 242.1 567.0 249.0 568.4 251.6 569.8 243.8 571.2 240.3 572.5 242.1 573.9 249.0 575.2 247.3 576.6 252.5 578.0 250.8 579.3 252.5 580.7 254.3 582.1 249.1 583.5 243.8 584.9 238.6 586.3 243.8 587.7 240.4 589.1 243.8 590.5 254.3 591.9 257.8 593.2 260.4 594.6 258.6 596.0 261.2 597.4 259.5 598.8 263.0 600.2 264.7 601.6 266.4 603.0 269.9 604.4 268.2 605.8 263.0 607.1 257.8 608.5 254.3 609.6 243.8 610.3 243.0 611.3 264.7 612.4 254.3 613.4 256.0 614.8 255.1 616.2 257.8 617.6 259.5 619.0 261.2 620.4 263.8 621.7 264.7 623.1 263.0 624.5 261.2 625.9 263.0 627.3 264.7 628.7 266.4 630.1 265.6 631.5 264.7 632.9 263.0 634.3 261.2 635.7 262.1 637.0 259.5 638.4 261.2 639.8 259.5 641.2 261.2 642.3 264.7 643.3 271.7 644.7 274.3 646.1 269.9 647.5 263.0 648.9 261.2 650.2 264.7 651.6 268.2 653.0 269.9 654.4 269.0 655.8 264.7 656.9 259.5 657.9 257.8 658.9 264.7 660.0 268.2 661.4 261.2 662.4 259.5 663.5 264.7 664.8 265.6 666.2 268.2 667.6 269.0 669.0 269.9 670.4 269.9 671.8 268.2 673.2 266.4 674.6 263.0 676.0 259.5" fill="none" stroke="#505052" stroke-width="2.5" stroke-linejoin="miter" stroke-miterlimit="2.5" stroke-linecap="butt"/>
<path d="M40.6 271.2 42.3 273.8 43.6 272.1 45.0 280.7 46.7 283.4 48.8 280.7 51.0 279.0 53.6 277.3 55.4 279.0 57.1 276.4 58.9 277.3 60.6 274.7 62.3 277.3 64.1 276.4 66.2 279.0 68.4 279.9 71.0 277.3 72.8 275.5 74.8 277.3 77.1 276.4 78.8 273.8 79.7 266.8 81.4 265.1 83.5 265.1 85.3 269.4 87.0 268.6 88.7 266.8 90.1 272.1 91.5 278.1 93.6 278.1 95.7 277.3 96.7 271.2 98.1 273.8 99.2 268.6 100.6 271.2 101.4 277.3 102.7 278.1M103.7 282.5 105.8 281.6 108.4 280.7 111.0 281.6 113.6 280.7 116.2 283.4 118.3 286.8 120.6 282.5 123.2 279.9 125.8 282.5 128.4 284.2 131.0 285.1 133.6 282.5 135.7 279.0 137.9 279.9 140.5 278.1 142.3 277.3 144.4 277.3 146.1 273.8 147.8 268.6 149.2 277.3 150.3 280.7 151.7 279.9 153.0 277.4 154.3 279.9 155.7 286.5 157.0 288.2 158.7 286.5 160.6 287.3 162.6 288.2 164.6 289.0 166.6 289.8 168.6 289.0 170.6 286.5 172.6 284.8 174.6 283.2 176.6 282.3 178.6 281.5 179.6 273.2 180.6 268.2 181.9 267.4 183.3 267.4 184.6 269.9 185.9 276.5 187.3 280.7 188.6 276.5 189.9 278.2 191.3 282.3 192.6 279.9 193.9 278.2 195.3 276.5 196.6 274.9 197.9 275.7 199.3 279.9 200.6 282.3 201.9 283.2 203.3 282.3 204.6 281.5 205.9 282.3 207.2 279.9 208.6 277.4 209.9 277.4 211.2 279.9 212.6 281.5 213.9 283.2 215.2 284.0 216.6 284.8 217.9 283.2 219.2 285.7 220.6 282.3 221.9 286.5 223.2 285.7 224.6 286.5 225.9 286.5 227.2 289.0 228.5 289.8 229.9 289.5 231.2 288.2 232.5 284.0 233.9 285.7 235.2 284.8 236.5 281.5 237.9 279.9 239.2 279.0 240.5 278.2 241.9 276.5 242.9 269.9 243.5 262.4 244.5 269.9 245.9 268.2 246.9 263.2 247.5 226.6 248.5 221.6 249.5 218.3 250.8 213.3 251.8 205.0 252.8 201.6 253.8 191.6 255.2 190.0 256.2 189.2 257.2 200.0 258.5 201.6 259.4 213.8 260.6 219.1 261.8 224.3 263.2 233.0 264.3 241.7 265.3 229.5 266.7 229.5 267.7 245.1 269.1 253.0 270.5 248.6 271.9 249.5 272.9 248.6M272.9 264.2 274.7 265.1 276.8 266.9 278.5 267.7 279.2 280.8 279.9 255.6 281.3 253.8 282.3 257.3 283.7 253.0 285.1 257.3 286.5 254.7 287.9 253.8 289.3 253.8 290.7 257.3 292.1 260.8 293.8 266.0 295.2 270.3 296.6 272.9 298.0 271.2 299.4 276.4 300.8 283.4 302.1 285.1 303.2 288.2 304.6 284.2 306.0 281.6 307.4 283.4 308.7 277.3 310.1 277.3 311.5 276.4 312.6 271.2 313.6 259.0 315.0 257.3 316.4 257.3 317.8 264.2 319.2 267.7 320.6 266.9 322.0 269.5 323.3 274.7 324.7 271.2 326.1 262.5 327.5 267.7 328.9 257.3 330.3 253.8 331.7 255.6 333.1 264.2 334.5 261.6 335.9 272.9 337.2 277.3 338.6 275.5 340.0 273.8 341.4 274.7 342.8 275.5 344.2 277.3 345.6 279.9 347.0 284.2 348.4 272.9 349.8 273.8 351.2 274.7 352.5 271.2 353.9 275.5 355.3 271.2 356.7 268.6 358.1 269.5 359.5 274.7 360.9 278.2 362.3 281.6 363.7 285.1 365.1 281.6 366.4 276.4 367.8 269.5 369.7 273.0 371.5 275.6 373.2 274.7 375.0 276.4 376.7 277.3 378.4 279.0 380.2 281.6 381.9 284.2 383.6 286.9 385.4 283.4 386.8 284.2 388.2 283.4 389.6 287.7 390.9 285.1 392.3 282.5 394.1 283.4 395.8 282.5 397.5 282.5 399.3 280.8 401.0 279.9 402.1 273.8 402.8 266.9 403.8 273.8 405.2 280.8 406.6 284.2 408.0 286.9 409.4 282.5 410.8 279.0 411.8 271.2 413.2 270.3 414.6 273.0 416.0 273.8 417.4 274.7 418.7 275.6 420.1 272.1 421.5 273.8 422.9 275.6 424.3 276.4 425.7 277.3 427.1 276.4 428.5 279.0 429.9 282.5 431.3 284.2 432.7 282.5 433.7 265.1 434.7 261.7 436.1 261.7 437.2 265.1 438.6 266.0 439.9 268.6 441.3 269.5 442.7 270.3 444.1 271.2 445.5 272.1 446.9 269.5 448.3 268.6 449.7 266.9 451.1 269.5 452.5 272.1 453.9 273.8 455.2 273.0 456.6 267.7 457.7 272.1 458.7 279.0 460.1 280.8 461.5 279.0 462.9 277.3 464.3 276.4 465.7 274.7 467.1 275.6 468.5 272.1 469.5 273.8 470.5 278.2 471.9 279.0 473.0 273.8 474.4 272.1 475.8 268.6 477.1 267.7 478.5 268.6 479.4 269.0 480.8 266.4 482.2 264.7 483.6 262.9 485.0 262.9 486.3 259.5 487.4 249.0 488.4 243.8 489.8 243.0 491.2 244.7 492.6 247.3 493.6 250.8 494.7 262.9 496.1 268.2 497.5 266.4 498.9 265.5 500.2 272.5 501.6 273.4 503.0 272.5 504.1 266.4 505.1 260.3 506.2 259.5 507.2 264.7 508.6 266.4 509.6 273.4 510.7 276.0 511.7 273.4 512.8 269.9 513.8 264.7 514.8 263.8 515.9 269.9 516.9 275.1 518.3 271.6 519.7 266.4 520.8 257.7 521.8 255.1 522.8 261.2 523.9 257.7 525.3 253.4 526.7 252.5 528.1 259.5 529.4 262.9 530.5 273.4 531.5 277.7 532.6 269.9 534.0 268.2 535.4 269.0 536.7 270.8 538.1 269.9 539.5 266.4 540.9 267.3 542.3 264.7 543.7 259.5 545.1 258.6 546.5 257.7 547.9 256.9M548.9 249.0 550.3 245.6 551.7 243.8 553.1 247.3 554.5 249.0 555.9 247.3 557.2 254.2 558.6 247.3 560.0 250.8 561.4 252.5 562.8 254.2 564.2 257.7 565.6 259.5 567.0 262.9 568.4 264.7 569.4 269.9 570.5 278.6 571.5 275.1 572.9 271.6 574.3 269.9 575.2 269.9 576.6 269.0 578.0 268.2 579.3 269.9 580.7 271.7 582.1 269.9 583.5 269.0 584.9 271.7 586.3 273.4 587.7 269.9 589.1 266.4 590.5 265.6 591.9 266.4 593.2 269.9 594.6 268.2 596.0 269.9 597.4 269.0 598.8 269.9 600.2 270.8 601.6 273.4 603.0 274.3 604.4 275.1 605.8 272.5 607.1 275.1 608.5 271.7 609.6 269.9 610.3 282.1 611.0 288.2 611.7 271.7 612.7 273.4 614.1 271.7 615.5 270.8 616.9 272.5 618.3 273.4 619.7 275.1 621.1 274.3 622.4 272.5 623.8 273.4 625.2 271.7 626.6 269.9 628.0 269.0 629.0 278.6 630.4 279.5 631.8 277.7 633.2 276.9 634.6 275.1 636.0 271.7 637.4 266.4 638.8 268.2 640.2 271.7 641.6 274.3 642.9 275.1 644.3 276.0 645.7 276.9 647.1 271.7 648.5 269.9 649.9 270.8 651.3 271.7 652.7 273.4 654.1 274.3 655.5 276.0 656.9 275.1 658.2 274.3 659.6 276.9 661.0 277.7 662.4 275.1 663.8 273.4 665.2 274.3 666.6 272.5 668.0 273.4 669.0 276.9 670.1 281.2 671.5 280.3 672.8 281.2 674.2 279.5 675.6 280.3 677.0 279.5" fill="none" stroke="#6b46a8" stroke-width="2.5" stroke-linejoin="miter" stroke-miterlimit="2.5" stroke-linecap="butt"/>
<path d="M40.4 188.4 41.6 178.6 43.5 177.4 45.3 178.6 46.5 172.6 48.0 165.3 49.2 181.1 50.6 166.5 52.1 156.1 53.1 161.6 53.8 202.9 54.8 251.6 56.0 268.6 57.5 266.2 58.9 251.6 60.5 229.7 62.3 215.1 63.8 207.8 65.0 205.4 66.2 222.4 67.2 234.6 68.4 217.5 69.9 207.8 70.8 239.4 71.8 255.2 73.3 239.4 75.1 215.1 76.3 209.0 77.5 222.4 78.7 246.7 79.9 234.6 81.2 224.8 82.4 207.8 84.2 193.2 86.0 195.7 87.2 205.4 88.8 178.6 90.3 165.9 91.5 185.9 92.7 198.1 94.2 202.9 95.8 185.9 97.0 168.9 98.2 166.5 99.5 156.1 101.0 173.8 102.4 190.8 103.7 215.1 104.9 222.4 106.3 220.0 107.9 202.9 109.7 181.1 110.9 168.9 112.4 153.4 113.6 145.5 114.9 163.1 116.1 175.2 117.3 160.7 118.3 150.9 119.5 143.6 120.5 140.0 121.2 127.8 122.2 131.5 122.9 155.8 124.0 172.8 125.2 180.1 126.4 194.7 127.3 172.8 128.2 158.2 129.5 150.9 130.4 131.5 131.3 120.5 132.1 136.3 133.1 153.4 134.1 143.6 135.0 131.5 135.8 126.0 136.7 136.3 137.7 131.5 138.7 113.2 139.7 102.3 140.6 103.5 141.6 107.2 142.3 119.3 143.3 143.6 144.3 163.1 145.3 180.1 146.2 195.9 147.2 167.9 148.2 145.5 149.1 163.1 150.1 182.5 151.1 167.9 152.1 150.9 153.0 141.2 154.0 133.9 155.0 127.8 156.0 141.2 156.9 155.8 157.9 167.9 158.9 158.2 159.8 148.5 161.1 140.6 162.3 148.5 163.5 160.7 164.7 153.4 165.9 146.1 166.9 143.6 167.9 153.4 169.1 155.8 170.3 154.6 171.5 163.1 172.7 177.7 173.7 189.8 174.7 163.1 175.7 147.3 176.6 163.1 177.6 172.8 178.6 163.1 179.5 150.9 180.5 143.6 181.7 137.6 182.7 146.1 183.7 155.8 184.7 163.1 185.6 143.6 186.6 129.0 187.2 118.2 188.4 124.3 189.4 172.9 190.4 192.4 191.6 197.3 192.8 207.0 194.0 221.6 195.2 226.4 196.5 209.4 197.7 192.4 198.9 160.8 200.3 143.8 201.6 146.2 202.8 168.1 204.0 187.5 205.5 190.0 206.9 190.0 208.4 182.7 209.8 177.8 211.3 182.7 212.7 190.0 214.2 191.2 215.7 190.0 217.1 168.1 218.3 158.4 219.6 163.2 220.8 141.3 222.0 143.8 223.2 152.3 224.4 148.6 225.6 146.2 226.9 148.6 228.1 146.2 228.8 168.1 229.8 187.5 231.0 202.1 232.2 172.9 233.4 157.1 234.6 165.7 235.8 172.9 237.1 165.7 238.3 163.2 239.5 172.9 240.7 175.4 241.9 182.7 242.9 160.8 243.9 140.1 245.1 143.8 246.3 185.1 247.5 163.2 248.5 124.3 249.2 100.0 250.4 101.2 251.7 136.5 252.9 138.9 254.1 136.5 255.3 141.3 256.5 143.8 257.7 141.3 258.9 153.5 259.4 139.0 260.8 147.7 262.3 132.1 264.1 119.9 265.8 125.1 267.0 114.7 268.4 121.7 269.8 132.1 271.0 113.0 271.9 93.8 273.3 52.1 274.3 26.1 275.4 33.0 276.4 32.2 277.5 45.2 278.9 45.2 279.6 69.5 280.6 86.9 281.6 81.7 282.7 90.4 284.1 104.3 285.5 106.0 286.7 86.9 287.5 69.5 288.9 60.8 290.0 86.9 291.0 135.6 292.8 140.9 294.1 147.8 295.2 173.9 296.2 184.3 297.6 166.9 299.0 163.4 300.4 173.9 301.4 165.2 302.8 149.5 303.9 139.1 304.9 137.4 306.3 122.6 307.4 156.5 308.1 193.0 308.7 217.3 309.4 226.0 310.1 213.8 311.2 193.0 312.2 156.5 313.3 137.3 314.7 139.0 316.0 156.4 317.1 146.0 318.1 151.2 319.5 156.4 320.6 139.0 322.0 125.1 323.0 147.7 324.0 173.8 325.4 156.4 326.5 139.0 327.5 121.7 328.6 86.9 329.6 51.3 331.0 69.5 332.4 79.9 333.8 76.5 334.5 45.2 335.9 41.7 337.2 13.9 338.3 34.8 339.0 66.0 340.4 73.0 341.4 86.9 342.5 107.8 343.5 121.7 344.5 100.8 345.8 111.2 347.0 135.6 348.0 97.3 348.7 77.3 349.8 104.3 350.8 121.7 351.8 135.6 353.2 125.1 354.3 142.5 355.7 149.5 356.7 170.3 358.1 161.6 359.5 152.9 360.5 130.3 361.6 107.8 362.6 98.2 363.7 121.7 364.7 156.4 365.8 180.7 367.1 187.7 368.5 194.6 369.4 192.1 370.8 202.5 371.8 223.4 373.2 204.2 374.6 197.3 375.6 193.8 376.7 207.7 378.1 206.0 379.5 216.4 380.5 212.9 381.6 209.5 382.6 233.8 383.6 216.4 384.7 192.1 385.7 173.0 387.1 155.6 388.2 190.3 389.2 216.4 390.2 240.7 391.3 233.8 392.7 225.1 394.1 219.9 395.5 212.9 396.8 216.4 398.2 219.9 399.6 214.7 401.0 199.0 402.1 164.3 402.8 145.2 403.8 157.3 404.8 167.8 405.9 185.1 406.9 146.9 408.0 129.5 409.0 101.7 410.1 105.2 411.1 87.8 411.8 81.7 412.8 105.2 413.9 112.1 414.9 110.4 416.3 117.4 417.4 112.1 418.4 104.3 419.4 119.1 420.5 126.0 421.9 107.8 422.9 122.6 424.0 131.3 425.0 143.4 426.0 150.4 427.1 164.3 428.1 167.8 429.2 164.3 430.2 178.2 431.3 202.5 432.3 164.3 433.0 129.5 434.0 112.1 435.1 99.1 436.1 112.1 437.2 129.5 438.2 146.9 439.3 143.4 440.3 157.3 441.3 185.1 442.4 171.2 443.4 164.3 444.5 162.5 445.5 167.8 446.6 195.6 447.6 209.5 448.6 199.0 449.7 181.7 450.7 171.2 451.8 174.7 452.8 166.0 453.9 181.7 454.9 192.1 455.9 146.9 456.6 125.2 457.7 146.9 458.4 178.2 459.4 185.1 460.8 188.6 461.8 190.3 462.9 181.7 463.9 174.7 465.3 174.7 466.7 171.2 467.8 160.8 468.5 159.1 469.1 181.7 469.8 216.4 470.9 226.8 471.9 233.8 473.0 216.4 474.0 209.5 474.7 206.9 475.8 226.8 476.8 242.5 478.2 251.2 479.4 254.2 480.8 242.1 482.2 231.7 483.6 214.3 485.0 224.7 486.3 196.9 487.7 170.8 488.8 153.4 489.8 150.0 490.9 162.1 492.3 179.5 493.6 181.3 495.0 177.8 496.4 167.4 497.8 158.7 499.2 153.4 500.6 148.2 501.6 162.1 502.3 170.0 503.0 183.0 504.1 193.4 505.1 200.4 506.2 207.3 507.5 217.8 508.9 223.0 510.3 231.7 511.7 221.2 512.8 214.3 513.8 203.8 514.8 194.3 515.9 207.3 517.3 217.8 518.3 207.3 519.4 179.5 520.4 156.1 521.4 167.4 522.8 186.5 523.9 179.5 524.9 169.1 526.0 186.5 527.4 191.7 528.4 183.0 529.4 169.1 530.5 158.7 531.5 149.1 532.6 147.4 533.6 167.4 534.7 186.5 535.7 196.9 536.7 183.0 537.4 180.4 538.5 193.4 539.9 195.2 541.3 196.9 542.3 191.7 543.3 179.5 544.4 177.8 545.4 186.5 546.5 203.8 547.5 193.4 548.6 184.7 549.6 181.3 550.6 186.5 551.7 183.0 552.7 179.5 553.8 162.1 554.8 144.8 555.9 137.8 556.9 158.7 557.9 167.4 559.0 151.7 560.0 162.1 560.7 144.8 561.8 135.2 562.8 162.1 563.9 167.4 564.9 169.1 565.9 179.5 567.0 186.5 568.0 200.4 569.1 214.3 570.1 223.0 571.2 214.3 572.2 210.8 573.2 217.8 574.3 207.3 575.2 194.2 576.6 178.6 577.3 176.0 578.3 189.0 579.7 199.5 581.1 192.5 582.5 182.1 583.5 175.1 584.6 169.9 585.6 171.7 586.6 182.1 587.7 199.5 588.7 175.1 589.8 189.0 590.8 182.1 591.9 178.6 592.9 192.5 593.9 189.0 595.0 185.6 596.0 194.2 597.1 206.4 598.1 223.8 599.2 232.5 600.2 227.3 601.6 241.2 603.0 248.1 604.4 237.7 605.8 216.8 607.1 192.5 608.5 180.3 609.6 154.3 610.6 136.9 611.7 133.4 612.7 129.9 613.8 143.8 614.8 154.3 615.8 147.3 616.9 143.8 617.9 159.5 619.3 168.2 620.7 166.4 621.7 178.6 623.1 180.3 624.5 171.7 625.6 168.2 626.6 182.1 628.0 189.0 629.0 175.1 630.1 168.2 631.1 157.8 632.2 161.2 633.2 168.2 634.3 171.7 635.3 159.5 636.7 142.1 638.1 145.6 639.1 150.8 640.5 149.1 641.6 154.3 642.6 161.2 643.6 150.8 644.7 149.1 645.7 147.3 646.8 136.9 647.5 102.1 648.2 63.0 649.2 67.4 650.2 103.9 651.3 135.2 652.3 140.4 653.4 145.6 654.4 145.6 655.5 154.3 656.5 168.2 657.5 178.6 658.6 171.7 659.6 161.2 660.7 157.8 661.7 154.3 662.8 152.5 663.8 161.2 664.8 159.5 665.9 171.7 666.9 171.7 668.0 168.2 669.0 157.8 670.1 147.3 671.1 143.8 672.1 152.5 673.2 154.3 674.2 171.7 675.3 192.5 676.3 195.1" fill="none" stroke="#9a1c25" stroke-width="2.5" stroke-linejoin="miter" stroke-miterlimit="2.5" stroke-linecap="butt"/>
<rect x="150.5" y="417" width="416" height="111" fill="#fff" stroke="#e4e4e4" stroke-width="1"/>
<path d="M158.6 433.5h51.4" stroke="#2f6db5" stroke-width="2.3"/>
<text class="lg" x="217.6" y="439.0" textLength="125.5" lengthAdjust="spacingAndGlyphs">GLBLBNK-IGRAITI</text>
<path d="M355.8 433.5h51.4" stroke="#e07f2c" stroke-width="2.3"/>
<text class="lg" x="414.8" y="439.0" textLength="120.6" lengthAdjust="spacingAndGlyphs">GLBLBNK-SPKFPI</text>
<path d="M158.6 460.1h51.4" stroke="#2f9a4c" stroke-width="2.3"/>
<text class="lg" x="217.6" y="465.6" textLength="121.7" lengthAdjust="spacingAndGlyphs">GLBLBNK-SPKAFI</text>
<path d="M355.8 460.1h51.4" stroke="#d6202a" stroke-width="2.3"/>
<text class="lg" x="414.8" y="465.6" textLength="123.9" lengthAdjust="spacingAndGlyphs">GLBLBNK-SPKDBI</text>
<path d="M158.6 486.7h51.4" stroke="#505052" stroke-width="2.3"/>
<text class="lg" x="217.6" y="492.2" textLength="121.7" lengthAdjust="spacingAndGlyphs">GLBLBNK-SPKDLI</text>
<path d="M355.8 486.7h51.4" stroke="#6b46a8" stroke-width="2.3"/>
<text class="lg" x="414.8" y="492.2" textLength="140.8" lengthAdjust="spacingAndGlyphs">GLBLBNK-SPKCDEFI</text>
<path d="M158.6 513.3h51.4" stroke="#9a1c25" stroke-width="2.3"/>
<text class="lg" x="217.6" y="518.8" textLength="114.2" lengthAdjust="spacingAndGlyphs">GLBLBNK-KNFTI</text>
<text class="cap" x="108.2" y="567.5" font-weight="bold">a.</text>
<text class="cap" x="126.9" y="567.5" textLength="517.2" lengthAdjust="spacingAndGlyphs">Graph of Dynamic HE between GLBLBNK and FinTech Indices</text>
<g>
<rect x="127.8" y="590.80" width="59.1" height="3.39" fill="#afcafc"/>
<rect x="127.8" y="592.34" width="59.1" height="3.39" fill="#b7cff9"/>
<rect x="127.8" y="593.88" width="59.1" height="4.93" fill="#bad0f8"/>
<rect x="127.8" y="596.96" width="59.1" height="3.39" fill="#b3cdfb"/>
<rect x="127.8" y="598.50" width="59.1" height="3.39" fill="#a7c5fe"/>
<rect x="127.8" y="600.04" width="59.1" height="3.39" fill="#98b9ff"/>
<rect x="127.8" y="601.58" width="59.1" height="3.39" fill="#a2c1ff"/>
<rect x="127.8" y="603.12" width="59.1" height="3.39" fill="#c6d6f1"/>
<rect x="127.8" y="604.66" width="59.1" height="3.39" fill="#cedaeb"/>
<rect x="127.8" y="606.19" width="59.1" height="3.39" fill="#cdd9ec"/>
<rect x="127.8" y="607.73" width="59.1" height="3.39" fill="#c7d7f0"/>
<rect x="127.8" y="609.27" width="59.1" height="3.39" fill="#bcd2f7"/>
<rect x="127.8" y="610.81" width="59.1" height="3.39" fill="#b5cdfa"/>
<rect x="127.8" y="612.35" width="59.1" height="3.39" fill="#b2ccfb"/>
<rect x="127.8" y="613.89" width="59.1" height="3.39" fill="#b1cbfc"/>
<rect x="127.8" y="615.43" width="59.1" height="3.39" fill="#a9c6fd"/>
<rect x="127.8" y="616.97" width="59.1" height="3.39" fill="#a6c4fe"/>
<rect x="127.8" y="618.51" width="59.1" height="3.39" fill="#a2c1ff"/>
<rect x="127.8" y="620.05" width="59.1" height="3.39" fill="#97b8ff"/>
<rect x="127.8" y="621.59" width="59.1" height="3.39" fill="#8fb1fe"/>
<rect x="127.8" y="623.13" width="59.1" height="3.39" fill="#9bbcff"/>
<rect x="127.8" y="624.67" width="59.1" height="3.39" fill="#a9c6fd"/>
<rect x="127.8" y="626.21" width="59.1" height="3.39" fill="#b1cbfc"/>
<rect x="127.8" y="627.75" width="59.1" height="3.39" fill="#b6cefa"/>
<rect x="127.8" y="629.29" width="59.1" height="3.39" fill="#c0d4f5"/>
<rect x="127.8" y="630.83" width="59.1" height="3.39" fill="#c5d6f2"/>
<rect x="127.8" y="632.37" width="59.1" height="3.39" fill="#c3d5f4"/>
<rect x="127.8" y="633.91" width="59.1" height="3.39" fill="#bad0f8"/>
<rect x="127.8" y="635.45" width="59.1" height="3.39" fill="#b6cefa"/>
<rect x="127.8" y="636.98" width="59.1" height="3.39" fill="#afcafc"/>
<rect x="127.8" y="638.52" width="59.1" height="3.39" fill="#aec9fc"/>
<rect x="127.8" y="640.06" width="59.1" height="3.39" fill="#b7cff9"/>
<rect x="127.8" y="641.60" width="59.1" height="4.93" fill="#bcd2f7"/>
<rect x="127.8" y="644.68" width="59.1" height="3.39" fill="#b9d0f9"/>
<rect x="127.8" y="646.22" width="59.1" height="3.39" fill="#afcafc"/>
<rect x="127.8" y="647.76" width="59.1" height="3.39" fill="#aec9fc"/>
<rect x="127.8" y="649.30" width="59.1" height="3.39" fill="#bfd3f6"/>
<rect x="127.8" y="650.84" width="59.1" height="3.39" fill="#d5dbe5"/>
<rect x="127.8" y="652.38" width="59.1" height="3.39" fill="#e0dbd8"/>
<rect x="127.8" y="653.92" width="59.1" height="3.39" fill="#dcdddd"/>
<rect x="127.8" y="655.46" width="59.1" height="4.93" fill="#d7dce3"/>
<rect x="127.8" y="658.54" width="59.1" height="3.39" fill="#d3dbe7"/>
<rect x="127.8" y="660.08" width="59.1" height="3.39" fill="#cdd9ec"/>
<rect x="127.8" y="661.62" width="59.1" height="3.39" fill="#c1d4f4"/>
<rect x="127.8" y="663.16" width="59.1" height="3.39" fill="#bbd1f8"/>
<rect x="127.8" y="664.70" width="59.1" height="3.39" fill="#bed2f6"/>
<rect x="127.8" y="666.24" width="59.1" height="3.39" fill="#bfd3f6"/>
<rect x="127.8" y="667.77" width="59.1" height="3.39" fill="#bcd2f7"/>
<rect x="127.8" y="669.31" width="59.1" height="3.39" fill="#bbd1f8"/>
<rect x="127.8" y="670.85" width="59.1" height="3.39" fill="#c1d4f4"/>
<rect x="127.8" y="672.39" width="59.1" height="3.39" fill="#cad8ef"/>
<rect x="127.8" y="673.93" width="59.1" height="3.39" fill="#c9d7f0"/>
<rect x="127.8" y="675.47" width="59.1" height="3.39" fill="#bcd2f7"/>
<rect x="127.8" y="677.01" width="59.1" height="3.39" fill="#aec9fc"/>
<rect x="127.8" y="678.55" width="59.1" height="3.39" fill="#a9c6fd"/>
<rect x="127.8" y="680.09" width="59.1" height="4.93" fill="#abc8fd"/>
<rect x="127.8" y="683.17" width="59.1" height="3.39" fill="#a7c5fe"/>
<rect x="127.8" y="684.71" width="59.1" height="3.39" fill="#afcafc"/>
<rect x="127.8" y="686.25" width="59.1" height="3.39" fill="#b5cdfa"/>
<rect x="127.8" y="687.79" width="59.1" height="3.39" fill="#bed2f6"/>
<rect x="127.8" y="689.33" width="59.1" height="3.39" fill="#d6dce4"/>
<rect x="127.8" y="690.87" width="59.1" height="3.39" fill="#e5d8d1"/>
<rect x="127.8" y="692.41" width="59.1" height="3.39" fill="#dfdbd9"/>
<rect x="127.8" y="693.95" width="59.1" height="3.39" fill="#d4dbe6"/>
<rect x="127.8" y="695.49" width="59.1" height="3.39" fill="#d1dae9"/>
<rect x="127.8" y="697.02" width="59.1" height="3.39" fill="#d3dbe7"/>
<rect x="127.8" y="698.56" width="59.1" height="3.39" fill="#d6dce4"/>
<rect x="127.8" y="700.10" width="59.1" height="3.39" fill="#d7dce3"/>
<rect x="127.8" y="701.64" width="59.1" height="3.39" fill="#d4dbe6"/>
<rect x="127.8" y="703.18" width="59.1" height="3.39" fill="#dbdcde"/>
<rect x="127.8" y="704.72" width="59.1" height="3.39" fill="#dadce0"/>
<rect x="127.8" y="706.26" width="59.1" height="3.39" fill="#d1dae9"/>
<rect x="127.8" y="707.80" width="59.1" height="3.39" fill="#cbd8ee"/>
<rect x="127.8" y="709.34" width="59.1" height="3.39" fill="#cdd9ec"/>
<rect x="127.8" y="710.88" width="59.1" height="3.39" fill="#d4dbe6"/>
<rect x="127.8" y="712.42" width="59.1" height="3.39" fill="#cfdaea"/>
<rect x="127.8" y="713.96" width="59.1" height="3.39" fill="#c3d5f4"/>
<rect x="127.8" y="715.50" width="59.1" height="3.39" fill="#c0d4f5"/>
<rect x="127.8" y="717.04" width="59.1" height="3.39" fill="#c5d6f2"/>
<rect x="127.8" y="718.58" width="59.1" height="3.39" fill="#c6d6f1"/>
<rect x="127.8" y="720.12" width="59.1" height="3.39" fill="#c3d5f4"/>
<rect x="127.8" y="721.66" width="59.1" height="4.93" fill="#bcd2f7"/>
<rect x="127.8" y="724.74" width="59.1" height="3.39" fill="#cbd8ee"/>
<rect x="127.8" y="726.28" width="59.1" height="3.39" fill="#dedcdb"/>
<rect x="127.8" y="727.81" width="59.1" height="3.39" fill="#ead5c9"/>
<rect x="127.8" y="729.35" width="59.1" height="3.39" fill="#f1cdba"/>
<rect x="127.8" y="730.89" width="59.1" height="3.39" fill="#f4c5ad"/>
<rect x="127.8" y="732.43" width="59.1" height="3.39" fill="#f3c7b1"/>
<rect x="127.8" y="733.97" width="59.1" height="3.39" fill="#efcebd"/>
<rect x="127.8" y="735.51" width="59.1" height="3.39" fill="#edd1c2"/>
<rect x="127.8" y="737.05" width="59.1" height="3.39" fill="#f0cdbb"/>
<rect x="127.8" y="738.59" width="59.1" height="3.39" fill="#f3c7b1"/>
<rect x="127.8" y="740.13" width="59.1" height="3.39" fill="#f6bfa6"/>
<rect x="127.8" y="741.67" width="59.1" height="3.39" fill="#f6bea4"/>
<rect x="127.8" y="743.21" width="59.1" height="3.39" fill="#f5c0a7"/>
<rect x="127.8" y="744.75" width="59.1" height="3.39" fill="#f7b599"/>
<rect x="127.8" y="746.29" width="59.1" height="3.39" fill="#f59d7e"/>
<rect x="127.8" y="747.83" width="59.1" height="3.39" fill="#ec7f63"/>
<rect x="127.8" y="749.37" width="59.1" height="3.39" fill="#eb7d62"/>
<rect x="127.8" y="750.91" width="59.1" height="3.39" fill="#f18d6f"/>
<rect x="127.8" y="752.45" width="59.1" height="3.39" fill="#f59d7e"/>
<rect x="127.8" y="753.99" width="59.1" height="3.39" fill="#f7b194"/>
<rect x="127.8" y="755.53" width="59.1" height="3.39" fill="#f2cab5"/>
<rect x="127.8" y="757.07" width="59.1" height="3.39" fill="#e0dbd8"/>
<rect x="127.8" y="758.60" width="59.1" height="3.39" fill="#ccd9ed"/>
<rect x="127.8" y="760.14" width="59.1" height="3.39" fill="#c0d4f5"/>
<rect x="127.8" y="761.68" width="59.1" height="3.39" fill="#bed2f6"/>
<rect x="127.8" y="763.22" width="59.1" height="3.39" fill="#b5cdfa"/>
<rect x="127.8" y="764.76" width="59.1" height="3.39" fill="#aac7fd"/>
<rect x="127.8" y="766.30" width="59.1" height="3.39" fill="#b1cbfc"/>
<rect x="127.8" y="767.84" width="59.1" height="3.39" fill="#b5cdfa"/>
<rect x="127.8" y="769.38" width="59.1" height="3.39" fill="#b2ccfb"/>
<rect x="127.8" y="770.92" width="59.1" height="3.39" fill="#b6cefa"/>
<rect x="127.8" y="772.46" width="59.1" height="3.39" fill="#bfd3f6"/>
<rect x="127.8" y="774.00" width="59.1" height="3.39" fill="#c5d6f2"/>
<rect x="127.8" y="775.54" width="59.1" height="3.39" fill="#c4d5f3"/>
<rect x="127.8" y="777.08" width="59.1" height="3.39" fill="#bad0f8"/>
<rect x="127.8" y="778.62" width="59.1" height="3.39" fill="#bcd2f7"/>
<rect x="127.8" y="780.16" width="59.1" height="3.39" fill="#cbd8ee"/>
<rect x="127.8" y="781.70" width="59.1" height="3.39" fill="#d4dbe6"/>
<rect x="127.8" y="783.24" width="59.1" height="3.39" fill="#e0dbd8"/>
<rect x="127.8" y="784.78" width="59.1" height="3.39" fill="#e8d6cc"/>
<rect x="127.8" y="786.32" width="59.1" height="3.39" fill="#efcebd"/>
<rect x="127.8" y="787.86" width="59.1" height="3.39" fill="#f1ccb8"/>
<rect x="127.8" y="789.39" width="59.1" height="3.39" fill="#ebd3c6"/>
<rect x="127.8" y="790.93" width="59.1" height="3.39" fill="#e8d6cc"/>
<rect x="127.8" y="792.47" width="59.1" height="3.39" fill="#e2dad5"/>
<rect x="127.8" y="794.01" width="59.1" height="3.39" fill="#dddcdc"/>
<rect x="127.8" y="795.55" width="59.1" height="3.39" fill="#dfdbd9"/>
<rect x="127.8" y="797.09" width="59.1" height="3.39" fill="#d9dce1"/>
<rect x="127.8" y="798.63" width="59.1" height="3.39" fill="#cedaeb"/>
<rect x="127.8" y="800.17" width="59.1" height="3.39" fill="#c6d6f1"/>
<rect x="127.8" y="801.71" width="59.1" height="3.39" fill="#c4d5f3"/>
<rect x="127.8" y="803.25" width="59.1" height="3.39" fill="#c0d4f5"/>
<rect x="127.8" y="804.79" width="59.1" height="3.39" fill="#a9c6fd"/>
<rect x="127.8" y="806.33" width="59.1" height="3.39" fill="#89acfd"/>
<rect x="127.8" y="807.87" width="59.1" height="3.39" fill="#6c8ff1"/>
<rect x="127.8" y="809.41" width="59.1" height="3.39" fill="#5e7de7"/>
<rect x="127.8" y="810.95" width="59.1" height="3.39" fill="#5977e3"/>
<rect x="127.8" y="812.49" width="59.1" height="3.39" fill="#5f7fe8"/>
<rect x="127.8" y="814.03" width="59.1" height="4.93" fill="#688aef"/>
<rect x="127.8" y="817.11" width="59.1" height="3.39" fill="#6485ec"/>
<rect x="127.8" y="818.64" width="59.1" height="3.39" fill="#799cf8"/>
<rect x="127.8" y="820.18" width="59.1" height="3.39" fill="#8db0fe"/>
<rect x="127.8" y="821.72" width="59.1" height="3.39" fill="#96b7ff"/>
<rect x="127.8" y="823.26" width="59.1" height="3.39" fill="#86a9fc"/>
<rect x="127.8" y="824.80" width="59.1" height="3.39" fill="#7ea1fa"/>
<rect x="127.8" y="826.34" width="59.1" height="3.39" fill="#84a7fc"/>
<rect x="127.8" y="827.88" width="59.1" height="3.39" fill="#86a9fc"/>
<rect x="127.8" y="829.42" width="59.1" height="3.39" fill="#8caffe"/>
<rect x="127.8" y="830.96" width="59.1" height="3.39" fill="#a2c1ff"/>
<rect x="127.8" y="832.50" width="59.1" height="3.39" fill="#bcd2f7"/>
<rect x="127.8" y="834.04" width="59.1" height="3.39" fill="#cbd8ee"/>
<rect x="127.8" y="835.58" width="59.1" height="3.39" fill="#dadce0"/>
<rect x="127.8" y="837.12" width="59.1" height="3.39" fill="#e7d7ce"/>
<rect x="127.8" y="838.66" width="59.1" height="3.39" fill="#ead5c9"/>
<rect x="127.8" y="840.20" width="59.1" height="3.39" fill="#e0dbd8"/>
<rect x="127.8" y="841.74" width="59.1" height="3.39" fill="#d2dbe8"/>
<rect x="127.8" y="843.28" width="59.1" height="3.39" fill="#c6d6f1"/>
<rect x="127.8" y="844.82" width="59.1" height="3.39" fill="#ccd9ed"/>
<rect x="127.8" y="846.36" width="59.1" height="3.39" fill="#c6d6f1"/>
<rect x="127.8" y="847.90" width="59.1" height="3.39" fill="#b2ccfb"/>
<rect x="127.8" y="849.43" width="59.1" height="3.39" fill="#abc8fd"/>
<rect x="127.8" y="850.97" width="59.1" height="3.39" fill="#adc9fd"/>
<rect x="127.8" y="852.51" width="59.1" height="3.39" fill="#c0d4f5"/>
<rect x="127.8" y="854.05" width="59.1" height="3.39" fill="#ccd9ed"/>
<rect x="127.8" y="855.59" width="59.1" height="3.39" fill="#a9c6fd"/>
<rect x="127.8" y="857.13" width="59.1" height="3.39" fill="#94b6ff"/>
<rect x="127.8" y="858.67" width="59.1" height="3.39" fill="#93b5fe"/>
<rect x="127.8" y="860.21" width="59.1" height="3.39" fill="#92b4fe"/>
<rect x="127.8" y="861.75" width="59.1" height="3.39" fill="#84a7fc"/>
<rect x="127.8" y="863.29" width="59.1" height="3.39" fill="#7396f5"/>
<rect x="127.8" y="864.83" width="59.1" height="3.39" fill="#7295f4"/>
<rect x="127.8" y="866.37" width="59.1" height="3.39" fill="#799cf8"/>
<rect x="127.8" y="867.91" width="59.1" height="3.39" fill="#86a9fc"/>
<rect x="127.8" y="869.45" width="59.1" height="3.39" fill="#92b4fe"/>
<rect x="127.8" y="870.99" width="59.1" height="3.39" fill="#84a7fc"/>
<rect x="127.8" y="872.53" width="59.1" height="3.39" fill="#7ea1fa"/>
<rect x="127.8" y="874.07" width="59.1" height="3.39" fill="#80a3fa"/>
<rect x="127.8" y="875.61" width="59.1" height="3.39" fill="#7295f4"/>
<rect x="127.8" y="877.15" width="59.1" height="3.39" fill="#5d7ce6"/>
<rect x="127.8" y="878.69" width="59.1" height="3.39" fill="#5b7ae5"/>
<rect x="127.8" y="880.22" width="59.1" height="3.39" fill="#688aef"/>
<rect x="127.8" y="881.76" width="59.1" height="3.39" fill="#7093f3"/>
<rect x="127.8" y="883.30" width="59.1" height="3.39" fill="#7295f4"/>
<rect x="127.8" y="884.84" width="59.1" height="3.39" fill="#7b9ff9"/>
<rect x="127.8" y="886.38" width="59.1" height="3.39" fill="#88abfd"/>
<rect x="127.8" y="887.92" width="59.1" height="3.39" fill="#9fbfff"/>
<rect x="127.8" y="889.46" width="59.1" height="3.39" fill="#bad0f8"/>
<rect x="127.8" y="891.00" width="59.1" height="3.39" fill="#b9d0f9"/>
<rect x="127.8" y="892.54" width="59.1" height="3.39" fill="#afcafc"/>
<rect x="127.8" y="894.08" width="59.1" height="3.39" fill="#aec9fc"/>
<rect x="127.8" y="895.62" width="59.1" height="3.39" fill="#bbd1f8"/>
<rect x="127.8" y="897.16" width="59.1" height="3.39" fill="#b7cff9"/>
<rect x="127.8" y="898.70" width="59.1" height="3.39" fill="#adc9fd"/>
<rect x="127.8" y="900.24" width="59.1" height="3.39" fill="#afcafc"/>
<rect x="127.8" y="901.78" width="59.1" height="3.39" fill="#a6c4fe"/>
<rect x="127.8" y="903.32" width="59.1" height="3.39" fill="#9dbdff"/>
<rect x="127.8" y="904.86" width="59.1" height="3.39" fill="#9fbfff"/>
<rect x="127.8" y="906.40" width="59.1" height="3.39" fill="#a6c4fe"/>
<rect x="127.8" y="907.94" width="59.1" height="3.39" fill="#aec9fc"/>
<rect x="127.8" y="909.48" width="59.1" height="3.39" fill="#b9d0f9"/>
<rect x="127.8" y="911.01" width="59.1" height="3.39" fill="#cbd8ee"/>
<rect x="127.8" y="912.55" width="59.1" height="3.39" fill="#cfdaea"/>
<rect x="127.8" y="914.09" width="59.1" height="3.39" fill="#cbd8ee"/>
<rect x="127.8" y="915.63" width="59.1" height="3.39" fill="#c9d7f0"/>
<rect x="127.8" y="917.17" width="59.1" height="3.39" fill="#d2dbe8"/>
<rect x="127.8" y="918.71" width="59.1" height="3.39" fill="#d8dce2"/>
<rect x="127.8" y="920.25" width="59.1" height="3.39" fill="#c0d4f5"/>
<rect x="127.8" y="921.79" width="59.1" height="3.39" fill="#afcafc"/>
<rect x="127.8" y="923.33" width="59.1" height="3.39" fill="#a7c5fe"/>
<rect x="127.8" y="924.87" width="59.1" height="3.39" fill="#aac7fd"/>
<rect x="127.8" y="926.41" width="59.1" height="3.39" fill="#aec9fc"/>
<rect x="127.8" y="927.95" width="59.1" height="3.39" fill="#b6cefa"/>
<rect x="127.8" y="929.49" width="59.1" height="3.39" fill="#c6d6f1"/>
<rect x="127.8" y="931.03" width="59.1" height="3.39" fill="#c5d6f2"/>
<rect x="127.8" y="932.57" width="59.1" height="3.39" fill="#bad0f8"/>
<rect x="127.8" y="934.11" width="59.1" height="3.39" fill="#bed2f6"/>
<rect x="127.8" y="935.65" width="59.1" height="3.39" fill="#cad8ef"/>
<rect x="127.8" y="937.19" width="59.1" height="3.39" fill="#ccd9ed"/>
<rect x="127.8" y="938.73" width="59.1" height="3.39" fill="#cad8ef"/>
<rect x="127.8" y="940.26" width="59.1" height="3.39" fill="#c0d4f5"/>
<rect x="127.8" y="941.80" width="59.1" height="3.39" fill="#b5cdfa"/>
<rect x="127.8" y="943.34" width="59.1" height="3.39" fill="#abc8fd"/>
<rect x="127.8" y="944.88" width="59.1" height="3.39" fill="#a9c6fd"/>
<rect x="127.8" y="946.42" width="59.1" height="3.39" fill="#adc9fd"/>
<rect x="127.8" y="947.96" width="59.1" height="3.39" fill="#abc8fd"/>
<rect x="127.8" y="949.50" width="59.1" height="3.39" fill="#aec9fc"/>
<rect x="127.8" y="951.04" width="59.1" height="4.93" fill="#afcafc"/>
<rect x="127.8" y="954.12" width="59.1" height="3.39" fill="#aec9fc"/>
<rect x="127.8" y="955.66" width="59.1" height="3.39" fill="#b2ccfb"/>
<rect x="127.8" y="957.20" width="59.1" height="3.39" fill="#bbd1f8"/>
<rect x="127.8" y="958.74" width="59.1" height="4.93" fill="#c4d5f3"/>
<rect x="127.8" y="961.82" width="59.1" height="3.39" fill="#bcd2f7"/>
<rect x="127.8" y="963.36" width="59.1" height="3.39" fill="#b7cff9"/>
<rect x="127.8" y="964.90" width="59.1" height="3.39" fill="#adc9fd"/>
<rect x="127.8" y="966.44" width="59.1" height="3.39" fill="#a5c3fe"/>
<rect x="127.8" y="967.98" width="59.1" height="3.39" fill="#bad0f8"/>
<rect x="127.8" y="969.52" width="59.1" height="3.39" fill="#e4d9d2"/>
<rect x="127.8" y="971.05" width="59.1" height="3.39" fill="#f6bda2"/>
<rect x="127.8" y="972.59" width="59.1" height="3.39" fill="#f2c9b4"/>
<rect x="127.8" y="974.13" width="59.1" height="3.39" fill="#ead4c8"/>
<rect x="127.8" y="975.67" width="59.1" height="3.39" fill="#d6dce4"/>
<rect x="127.8" y="977.21" width="59.1" height="3.39" fill="#c7d7f0"/>
<rect x="127.8" y="978.75" width="59.1" height="3.39" fill="#c4d5f3"/>
<rect x="127.8" y="980.29" width="59.1" height="3.39" fill="#cbd8ee"/>
<rect x="127.8" y="981.83" width="59.1" height="3.39" fill="#dbdcde"/>
<rect x="127.8" y="983.37" width="59.1" height="3.39" fill="#d9dce1"/>
<rect x="127.8" y="984.91" width="59.1" height="3.39" fill="#bbd1f8"/>
<rect x="127.8" y="986.45" width="59.1" height="3.39" fill="#98b9ff"/>
<rect x="127.8" y="987.99" width="59.1" height="3.39" fill="#93b5fe"/>
<rect x="127.8" y="989.53" width="59.1" height="3.39" fill="#9abbff"/>
<rect x="127.8" y="991.07" width="59.1" height="3.39" fill="#94b6ff"/>
<rect x="127.8" y="992.61" width="59.1" height="3.39" fill="#9ebeff"/>
<rect x="127.8" y="994.15" width="59.1" height="3.39" fill="#bfd3f6"/>
<rect x="127.8" y="995.69" width="59.1" height="3.39" fill="#d4dbe6"/>
<rect x="127.8" y="997.23" width="59.1" height="3.39" fill="#d9dce1"/>
<rect x="127.8" y="998.77" width="59.1" height="3.39" fill="#d4dbe6"/>
<rect x="127.8" y="1000.31" width="59.1" height="3.39" fill="#c3d5f4"/>
<rect x="127.8" y="1001.84" width="59.1" height="4.93" fill="#b6cefa"/>
<rect x="127.8" y="1004.92" width="59.1" height="3.39" fill="#b2ccfb"/>
<rect x="127.8" y="1006.46" width="59.1" height="3.39" fill="#adc9fd"/>
<rect x="127.8" y="1008.00" width="59.1" height="3.39" fill="#b1cbfc"/>
<rect x="127.8" y="1009.54" width="59.1" height="4.93" fill="#b5cdfa"/>
<rect x="127.8" y="1012.62" width="59.1" height="3.39" fill="#a9c6fd"/>
<rect x="127.8" y="1014.16" width="59.1" height="1.54" fill="#98b9ff"/>
<rect x="186.6" y="590.80" width="59.1" height="3.39" fill="#9ebeff"/>
<rect x="186.6" y="592.34" width="59.1" height="3.39" fill="#a6c4fe"/>
<rect x="186.6" y="593.88" width="59.1" height="4.93" fill="#a7c5fe"/>
<rect x="186.6" y="596.96" width="59.1" height="3.39" fill="#adc9fd"/>
<rect x="186.6" y="598.50" width="59.1" height="3.39" fill="#a3c2fe"/>
<rect x="186.6" y="600.04" width="59.1" height="3.39" fill="#80a3fa"/>
<rect x="186.6" y="601.58" width="59.1" height="3.39" fill="#6c8ff1"/>
<rect x="186.6" y="603.12" width="59.1" height="3.39" fill="#7a9df8"/>
<rect x="186.6" y="604.66" width="59.1" height="3.39" fill="#8db0fe"/>
<rect x="186.6" y="606.19" width="59.1" height="3.39" fill="#9bbcff"/>
<rect x="186.6" y="607.73" width="59.1" height="3.39" fill="#9abbff"/>
<rect x="186.6" y="609.27" width="59.1" height="3.39" fill="#93b5fe"/>
<rect x="186.6" y="610.81" width="59.1" height="3.39" fill="#94b6ff"/>
<rect x="186.6" y="612.35" width="59.1" height="3.39" fill="#92b4fe"/>
<rect x="186.6" y="613.89" width="59.1" height="3.39" fill="#85a8fc"/>
<rect x="186.6" y="615.43" width="59.1" height="3.39" fill="#7699f6"/>
<rect x="186.6" y="616.97" width="59.1" height="3.39" fill="#7295f4"/>
<rect x="186.6" y="618.51" width="59.1" height="3.39" fill="#7a9df8"/>
<rect x="186.6" y="620.05" width="59.1" height="3.39" fill="#80a3fa"/>
<rect x="186.6" y="621.59" width="59.1" height="3.39" fill="#88abfd"/>
<rect x="186.6" y="623.13" width="59.1" height="3.39" fill="#90b2fe"/>
<rect x="186.6" y="624.67" width="59.1" height="4.93" fill="#8caffe"/>
<rect x="186.6" y="627.75" width="59.1" height="3.39" fill="#98b9ff"/>
<rect x="186.6" y="629.29" width="59.1" height="3.39" fill="#a3c2fe"/>
<rect x="186.6" y="630.83" width="59.1" height="3.39" fill="#a7c5fe"/>
<rect x="186.6" y="632.37" width="59.1" height="3.39" fill="#9abbff"/>
<rect x="186.6" y="633.91" width="59.1" height="3.39" fill="#96b7ff"/>
<rect x="186.6" y="635.45" width="59.1" height="3.39" fill="#9bbcff"/>
<rect x="186.6" y="636.98" width="59.1" height="3.39" fill="#a6c4fe"/>
<rect x="186.6" y="638.52" width="59.1" height="4.93" fill="#adc9fd"/>
<rect x="186.6" y="641.60" width="59.1" height="3.39" fill="#aec9fc"/>
<rect x="186.6" y="643.14" width="59.1" height="3.39" fill="#bad0f8"/>
<rect x="186.6" y="644.68" width="59.1" height="3.39" fill="#b6cefa"/>
<rect x="186.6" y="646.22" width="59.1" height="3.39" fill="#b1cbfc"/>
<rect x="186.6" y="647.76" width="59.1" height="3.39" fill="#afcafc"/>
<rect x="186.6" y="649.30" width="59.1" height="3.39" fill="#bbd1f8"/>
<rect x="186.6" y="650.84" width="59.1" height="3.39" fill="#c1d4f4"/>
<rect x="186.6" y="652.38" width="59.1" height="3.39" fill="#c9d7f0"/>
<rect x="186.6" y="653.92" width="59.1" height="3.39" fill="#d7dce3"/>
<rect x="186.6" y="655.46" width="59.1" height="3.39" fill="#dcdddd"/>
<rect x="186.6" y="657.00" width="59.1" height="3.39" fill="#d7dce3"/>
<rect x="186.6" y="658.54" width="59.1" height="3.39" fill="#c0d4f5"/>
<rect x="186.6" y="660.08" width="59.1" height="3.39" fill="#a5c3fe"/>
<rect x="186.6" y="661.62" width="59.1" height="3.39" fill="#a2c1ff"/>
<rect x="186.6" y="663.16" width="59.1" height="3.39" fill="#b1cbfc"/>
<rect x="186.6" y="664.70" width="59.1" height="3.39" fill="#b9d0f9"/>
<rect x="186.6" y="666.24" width="59.1" height="3.39" fill="#bbd1f8"/>
<rect x="186.6" y="667.77" width="59.1" height="3.39" fill="#bed2f6"/>
<rect x="186.6" y="669.31" width="59.1" height="3.39" fill="#bfd3f6"/>
<rect x="186.6" y="670.85" width="59.1" height="3.39" fill="#c9d7f0"/>
<rect x="186.6" y="672.39" width="59.1" height="3.39" fill="#cfdaea"/>
<rect x="186.6" y="673.93" width="59.1" height="3.39" fill="#ccd9ed"/>
<rect x="186.6" y="675.47" width="59.1" height="3.39" fill="#c7d7f0"/>
<rect x="186.6" y="677.01" width="59.1" height="3.39" fill="#b2ccfb"/>
<rect x="186.6" y="678.55" width="59.1" height="3.39" fill="#9fbfff"/>
<rect x="186.6" y="680.09" width="59.1" height="3.39" fill="#9abbff"/>
<rect x="186.6" y="681.63" width="59.1" height="3.39" fill="#a3c2fe"/>
<rect x="186.6" y="683.17" width="59.1" height="3.39" fill="#abc8fd"/>
<rect x="186.6" y="684.71" width="59.1" height="3.39" fill="#b6cefa"/>
<rect x="186.6" y="686.25" width="59.1" height="3.39" fill="#bbd1f8"/>
<rect x="186.6" y="687.79" width="59.1" height="3.39" fill="#b6cefa"/>
<rect x="186.6" y="689.33" width="59.1" height="3.39" fill="#a5c3fe"/>
<rect x="186.6" y="690.87" width="59.1" height="3.39" fill="#9fbfff"/>
<rect x="186.6" y="692.41" width="59.1" height="3.39" fill="#94b6ff"/>
<rect x="186.6" y="693.95" width="59.1" height="3.39" fill="#92b4fe"/>
<rect x="186.6" y="695.49" width="59.1" height="3.39" fill="#a6c4fe"/>
<rect x="186.6" y="697.02" width="59.1" height="3.39" fill="#b1cbfc"/>
<rect x="186.6" y="698.56" width="59.1" height="3.39" fill="#9dbdff"/>
<rect x="186.6" y="700.10" width="59.1" height="3.39" fill="#8fb1fe"/>
<rect x="186.6" y="701.64" width="59.1" height="3.39" fill="#93b5fe"/>
<rect x="186.6" y="703.18" width="59.1" height="3.39" fill="#90b2fe"/>
<rect x="186.6" y="704.72" width="59.1" height="3.39" fill="#82a6fb"/>
<rect x="186.6" y="706.26" width="59.1" height="3.39" fill="#8db0fe"/>
<rect x="186.6" y="707.80" width="59.1" height="3.39" fill="#96b7ff"/>
<rect x="186.6" y="709.34" width="59.1" height="3.39" fill="#a1c0ff"/>
<rect x="186.6" y="710.88" width="59.1" height="3.39" fill="#abc8fd"/>
<rect x="186.6" y="712.42" width="59.1" height="3.39" fill="#aec9fc"/>
<rect x="186.6" y="713.96" width="59.1" height="3.39" fill="#a6c4fe"/>
<rect x="186.6" y="715.50" width="59.1" height="3.39" fill="#a7c5fe"/>
<rect x="186.6" y="717.04" width="59.1" height="4.93" fill="#a1c0ff"/>
<rect x="186.6" y="720.12" width="59.1" height="3.39" fill="#aac7fd"/>
<rect x="186.6" y="721.66" width="59.1" height="3.39" fill="#aec9fc"/>
<rect x="186.6" y="723.20" width="59.1" height="4.93" fill="#afcafc"/>
<rect x="186.6" y="726.28" width="59.1" height="3.39" fill="#c3d5f4"/>
<rect x="186.6" y="727.81" width="59.1" height="3.39" fill="#dddcdc"/>
<rect x="186.6" y="729.35" width="59.1" height="3.39" fill="#e4d9d2"/>
<rect x="186.6" y="730.89" width="59.1" height="4.93" fill="#dbdcde"/>
<rect x="186.6" y="733.97" width="59.1" height="3.39" fill="#e1dad6"/>
<rect x="186.6" y="735.51" width="59.1" height="3.39" fill="#dfdbd9"/>
<rect x="186.6" y="737.05" width="59.1" height="6.47" fill="#dedcdb"/>
<rect x="186.6" y="741.67" width="59.1" height="3.39" fill="#e0dbd8"/>
<rect x="186.6" y="743.21" width="59.1" height="3.39" fill="#e9d5cb"/>
<rect x="186.6" y="744.75" width="59.1" height="3.39" fill="#f5c1a9"/>
<rect x="186.6" y="746.29" width="59.1" height="3.39" fill="#ef886b"/>
<rect x="186.6" y="747.83" width="59.1" height="3.39" fill="#f5a081"/>
<rect x="186.6" y="749.37" width="59.1" height="3.39" fill="#f7b89c"/>
<rect x="186.6" y="750.91" width="59.1" height="3.39" fill="#f5c0a7"/>
<rect x="186.6" y="752.45" width="59.1" height="3.39" fill="#f6bfa6"/>
<rect x="186.6" y="753.99" width="59.1" height="3.39" fill="#f7bca1"/>
<rect x="186.6" y="755.53" width="59.1" height="3.39" fill="#f5c2aa"/>
<rect x="186.6" y="757.07" width="59.1" height="3.39" fill="#d7dce3"/>
<rect x="186.6" y="758.60" width="59.1" height="3.39" fill="#a9c6fd"/>
<rect x="186.6" y="760.14" width="59.1" height="3.39" fill="#94b6ff"/>
<rect x="186.6" y="761.68" width="59.1" height="3.39" fill="#8db0fe"/>
<rect x="186.6" y="763.22" width="59.1" height="3.39" fill="#80a3fa"/>
<rect x="186.6" y="764.76" width="59.1" height="3.39" fill="#6c8ff1"/>
<rect x="186.6" y="766.30" width="59.1" height="4.93" fill="#6687ed"/>
<rect x="186.6" y="769.38" width="59.1" height="3.39" fill="#6e90f2"/>
<rect x="186.6" y="770.92" width="59.1" height="3.39" fill="#81a4fb"/>
<rect x="186.6" y="772.46" width="59.1" height="3.39" fill="#8fb1fe"/>
<rect x="186.6" y="774.00" width="59.1" height="3.39" fill="#93b5fe"/>
<rect x="186.6" y="775.54" width="59.1" height="3.39" fill="#90b2fe"/>
<rect x="186.6" y="777.08" width="59.1" height="3.39" fill="#93b5fe"/>
<rect x="186.6" y="778.62" width="59.1" height="3.39" fill="#97b8ff"/>
<rect x="186.6" y="780.16" width="59.1" height="3.39" fill="#9abbff"/>
<rect x="186.6" y="781.70" width="59.1" height="3.39" fill="#a1c0ff"/>
<rect x="186.6" y="783.24" width="59.1" height="3.39" fill="#a3c2fe"/>
<rect x="186.6" y="784.78" width="59.1" height="3.39" fill="#a6c4fe"/>
<rect x="186.6" y="786.32" width="59.1" height="3.39" fill="#aac7fd"/>
<rect x="186.6" y="787.86" width="59.1" height="3.39" fill="#b7cff9"/>
<rect x="186.6" y="789.39" width="59.1" height="3.39" fill="#a9c6fd"/>
<rect x="186.6" y="790.93" width="59.1" height="3.39" fill="#92b4fe"/>
<rect x="186.6" y="792.47" width="59.1" height="3.39" fill="#7da0f9"/>
<rect x="186.6" y="794.01" width="59.1" height="3.39" fill="#6b8df0"/>
<rect x="186.6" y="795.55" width="59.1" height="3.39" fill="#5f7fe8"/>
<rect x="186.6" y="797.09" width="59.1" height="3.39" fill="#688aef"/>
<rect x="186.6" y="798.63" width="59.1" height="3.39" fill="#7b9ff9"/>
<rect x="186.6" y="800.17" width="59.1" height="3.39" fill="#8fb1fe"/>
<rect x="186.6" y="801.71" width="59.1" height="3.39" fill="#9abbff"/>
<rect x="186.6" y="803.25" width="59.1" height="3.39" fill="#94b6ff"/>
<rect x="186.6" y="804.79" width="59.1" height="3.39" fill="#84a7fc"/>
<rect x="186.6" y="806.33" width="59.1" height="3.39" fill="#6a8bef"/>
<rect x="186.6" y="807.87" width="59.1" height="3.39" fill="#5875e1"/>
<rect x="186.6" y="809.41" width="59.1" height="3.39" fill="#4c66d6"/>
<rect x="186.6" y="810.95" width="59.1" height="3.39" fill="#4358cb"/>
<rect x="186.6" y="812.49" width="59.1" height="3.39" fill="#4a63d3"/>
<rect x="186.6" y="814.03" width="59.1" height="3.39" fill="#5673e0"/>
<rect x="186.6" y="815.57" width="59.1" height="3.39" fill="#5a78e4"/>
<rect x="186.6" y="817.11" width="59.1" height="3.39" fill="#5b7ae5"/>
<rect x="186.6" y="818.64" width="59.1" height="3.39" fill="#6a8bef"/>
<rect x="186.6" y="820.18" width="59.1" height="3.39" fill="#779af7"/>
<rect x="186.6" y="821.72" width="59.1" height="3.39" fill="#7597f6"/>
<rect x="186.6" y="823.26" width="59.1" height="3.39" fill="#6687ed"/>
<rect x="186.6" y="824.80" width="59.1" height="3.39" fill="#6c8ff1"/>
<rect x="186.6" y="826.34" width="59.1" height="3.39" fill="#6e90f2"/>
<rect x="186.6" y="827.88" width="59.1" height="3.39" fill="#7093f3"/>
<rect x="186.6" y="829.42" width="59.1" height="3.39" fill="#7699f6"/>
<rect x="186.6" y="830.96" width="59.1" height="3.39" fill="#7a9df8"/>
<rect x="186.6" y="832.50" width="59.1" height="3.39" fill="#82a6fb"/>
<rect x="186.6" y="834.04" width="59.1" height="3.39" fill="#8badfd"/>
<rect x="186.6" y="835.58" width="59.1" height="3.39" fill="#a5c3fe"/>
<rect x="186.6" y="837.12" width="59.1" height="3.39" fill="#d1dae9"/>
<rect x="186.6" y="838.66" width="59.1" height="3.39" fill="#dcdddd"/>
<rect x="186.6" y="840.20" width="59.1" height="3.39" fill="#cdd9ec"/>
<rect x="186.6" y="841.74" width="59.1" height="3.39" fill="#bfd3f6"/>
<rect x="186.6" y="843.28" width="59.1" height="3.39" fill="#c5d6f2"/>
<rect x="186.6" y="844.82" width="59.1" height="3.39" fill="#ccd9ed"/>
<rect x="186.6" y="846.36" width="59.1" height="3.39" fill="#c6d6f1"/>
<rect x="186.6" y="847.90" width="59.1" height="3.39" fill="#b7cff9"/>
<rect x="186.6" y="849.43" width="59.1" height="3.39" fill="#abc8fd"/>
<rect x="186.6" y="850.97" width="59.1" height="3.39" fill="#b7cff9"/>
<rect x="186.6" y="852.51" width="59.1" height="3.39" fill="#d9dce1"/>
<rect x="186.6" y="854.05" width="59.1" height="3.39" fill="#dedcdb"/>
<rect x="186.6" y="855.59" width="59.1" height="3.39" fill="#cad8ef"/>
<rect x="186.6" y="857.13" width="59.1" height="3.39" fill="#a7c5fe"/>
<rect x="186.6" y="858.67" width="59.1" height="3.39" fill="#9ebeff"/>
<rect x="186.6" y="860.21" width="59.1" height="3.39" fill="#a2c1ff"/>
<rect x="186.6" y="861.75" width="59.1" height="3.39" fill="#9fbfff"/>
<rect x="186.6" y="863.29" width="59.1" height="4.93" fill="#aac7fd"/>
<rect x="186.6" y="866.37" width="59.1" height="3.39" fill="#afcafc"/>
<rect x="186.6" y="867.91" width="59.1" height="3.39" fill="#b2ccfb"/>
<rect x="186.6" y="869.45" width="59.1" height="3.39" fill="#97b8ff"/>
<rect x="186.6" y="870.99" width="59.1" height="3.39" fill="#82a6fb"/>
<rect x="186.6" y="872.53" width="59.1" height="3.39" fill="#84a7fc"/>
<rect x="186.6" y="874.07" width="59.1" height="3.39" fill="#82a6fb"/>
<rect x="186.6" y="875.61" width="59.1" height="3.39" fill="#799cf8"/>
<rect x="186.6" y="877.15" width="59.1" height="3.39" fill="#6e90f2"/>
<rect x="186.6" y="878.69" width="59.1" height="3.39" fill="#6b8df0"/>
<rect x="186.6" y="880.22" width="59.1" height="3.39" fill="#6a8bef"/>
<rect x="186.6" y="881.76" width="59.1" height="3.39" fill="#5e7de7"/>
<rect x="186.6" y="883.30" width="59.1" height="3.39" fill="#5d7ce6"/>
<rect x="186.6" y="884.84" width="59.1" height="3.39" fill="#6c8ff1"/>
<rect x="186.6" y="886.38" width="59.1" height="3.39" fill="#7a9df8"/>
<rect x="186.6" y="887.92" width="59.1" height="3.39" fill="#94b6ff"/>
<rect x="186.6" y="889.46" width="59.1" height="3.39" fill="#aec9fc"/>
<rect x="186.6" y="891.00" width="59.1" height="3.39" fill="#a9c6fd"/>
<rect x="186.6" y="892.54" width="59.1" height="4.93" fill="#9fbfff"/>
<rect x="186.6" y="895.62" width="59.1" height="3.39" fill="#a9c6fd"/>
<rect x="186.6" y="897.16" width="59.1" height="3.39" fill="#a7c5fe"/>
<rect x="186.6" y="898.70" width="59.1" height="3.39" fill="#9dbdff"/>
<rect x="186.6" y="900.24" width="59.1" height="3.39" fill="#93b5fe"/>
<rect x="186.6" y="901.78" width="59.1" height="3.39" fill="#8fb1fe"/>
<rect x="186.6" y="903.32" width="59.1" height="3.39" fill="#8db0fe"/>
<rect x="186.6" y="904.86" width="59.1" height="3.39" fill="#8fb1fe"/>
<rect x="186.6" y="906.40" width="59.1" height="4.93" fill="#93b5fe"/>
<rect x="186.6" y="909.48" width="59.1" height="3.39" fill="#94b6ff"/>
<rect x="186.6" y="911.01" width="59.1" height="3.39" fill="#9abbff"/>
<rect x="186.6" y="912.55" width="59.1" height="3.39" fill="#98b9ff"/>
<rect x="186.6" y="914.09" width="59.1" height="3.39" fill="#9dbdff"/>
<rect x="186.6" y="915.63" width="59.1" height="3.39" fill="#9bbcff"/>
<rect x="186.6" y="917.17" width="59.1" height="3.39" fill="#a7c5fe"/>
<rect x="186.6" y="918.71" width="59.1" height="3.39" fill="#aec9fc"/>
<rect x="186.6" y="920.25" width="59.1" height="3.39" fill="#a6c4fe"/>
<rect x="186.6" y="921.79" width="59.1" height="3.39" fill="#97b8ff"/>
<rect x="186.6" y="923.33" width="59.1" height="3.39" fill="#92b4fe"/>
<rect x="186.6" y="924.87" width="59.1" height="3.39" fill="#97b8ff"/>
<rect x="186.6" y="926.41" width="59.1" height="3.39" fill="#9ebeff"/>
<rect x="186.6" y="927.95" width="59.1" height="3.39" fill="#a3c2fe"/>
<rect x="186.6" y="929.49" width="59.1" height="3.39" fill="#aac7fd"/>
<rect x="186.6" y="931.03" width="59.1" height="3.39" fill="#aec9fc"/>
<rect x="186.6" y="932.57" width="59.1" height="3.39" fill="#b2ccfb"/>
<rect x="186.6" y="934.11" width="59.1" height="3.39" fill="#bad0f8"/>
<rect x="186.6" y="935.65" width="59.1" height="3.39" fill="#c0d4f5"/>
<rect x="186.6" y="937.19" width="59.1" height="3.39" fill="#c5d6f2"/>
<rect x="186.6" y="938.73" width="59.1" height="3.39" fill="#c0d4f5"/>
<rect x="186.6" y="940.26" width="59.1" height="3.39" fill="#aec9fc"/>
<rect x="186.6" y="941.80" width="59.1" height="3.39" fill="#97b8ff"/>
<rect x="186.6" y="943.34" width="59.1" height="4.93" fill="#93b5fe"/>
<rect x="186.6" y="946.42" width="59.1" height="3.39" fill="#94b6ff"/>
<rect x="186.6" y="947.96" width="59.1" height="3.39" fill="#96b7ff"/>
<rect x="186.6" y="949.50" width="59.1" height="3.39" fill="#92b4fe"/>
<rect x="186.6" y="951.04" width="59.1" height="3.39" fill="#9bbcff"/>
<rect x="186.6" y="952.58" width="59.1" height="3.39" fill="#a2c1ff"/>
<rect x="186.6" y="954.12" width="59.1" height="3.39" fill="#a3c2fe"/>
<rect x="186.6" y="955.66" width="59.1" height="3.39" fill="#a5c3fe"/>
<rect x="186.6" y="957.20" width="59.1" height="3.39" fill="#aac7fd"/>
<rect x="186.6" y="958.74" width="59.1" height="3.39" fill="#b1cbfc"/>
<rect x="186.6" y="960.28" width="59.1" height="3.39" fill="#adc9fd"/>
<rect x="186.6" y="961.82" width="59.1" height="3.39" fill="#a2c1ff"/>
<rect x="186.6" y="963.36" width="59.1" height="3.39" fill="#9bbcff"/>
<rect x="186.6" y="964.90" width="59.1" height="3.39" fill="#90b2fe"/>
<rect x="186.6" y="966.44" width="59.1" height="3.39" fill="#8caffe"/>
<rect x="186.6" y="967.98" width="59.1" height="3.39" fill="#a1c0ff"/>
<rect x="186.6" y="969.52" width="59.1" height="3.39" fill="#cdd9ec"/>
<rect x="186.6" y="971.05" width="59.1" height="3.39" fill="#e9d5cb"/>
<rect x="186.6" y="972.59" width="59.1" height="3.39" fill="#edd2c3"/>
<rect x="186.6" y="974.13" width="59.1" height="3.39" fill="#e3d9d3"/>
<rect x="186.6" y="975.67" width="59.1" height="3.39" fill="#cfdaea"/>
<rect x="186.6" y="977.21" width="59.1" height="3.39" fill="#bbd1f8"/>
<rect x="186.6" y="978.75" width="59.1" height="3.39" fill="#b3cdfb"/>
<rect x="186.6" y="980.29" width="59.1" height="3.39" fill="#b5cdfa"/>
<rect x="186.6" y="981.83" width="59.1" height="3.39" fill="#b7cff9"/>
<rect x="186.6" y="983.37" width="59.1" height="3.39" fill="#bcd2f7"/>
<rect x="186.6" y="984.91" width="59.1" height="3.39" fill="#b5cdfa"/>
<rect x="186.6" y="986.45" width="59.1" height="3.39" fill="#b2ccfb"/>
<rect x="186.6" y="987.99" width="59.1" height="3.39" fill="#c5d6f2"/>
<rect x="186.6" y="989.53" width="59.1" height="3.39" fill="#cbd8ee"/>
<rect x="186.6" y="991.07" width="59.1" height="3.39" fill="#c3d5f4"/>
<rect x="186.6" y="992.61" width="59.1" height="3.39" fill="#cbd8ee"/>
<rect x="186.6" y="994.15" width="59.1" height="3.39" fill="#dbdcde"/>
<rect x="186.6" y="995.69" width="59.1" height="3.39" fill="#e5d8d1"/>
<rect x="186.6" y="997.23" width="59.1" height="3.39" fill="#dcdddd"/>
<rect x="186.6" y="998.77" width="59.1" height="3.39" fill="#c6d6f1"/>
<rect x="186.6" y="1000.31" width="59.1" height="3.39" fill="#afcafc"/>
<rect x="186.6" y="1001.84" width="59.1" height="3.39" fill="#a9c6fd"/>
<rect x="186.6" y="1003.38" width="59.1" height="3.39" fill="#aec9fc"/>
<rect x="186.6" y="1004.92" width="59.1" height="3.39" fill="#b1cbfc"/>
<rect x="186.6" y="1006.46" width="59.1" height="3.39" fill="#a2c1ff"/>
<rect x="186.6" y="1008.00" width="59.1" height="3.39" fill="#9ebeff"/>
<rect x="186.6" y="1009.54" width="59.1" height="3.39" fill="#a6c4fe"/>
<rect x="186.6" y="1011.08" width="59.1" height="3.39" fill="#b1cbfc"/>
<rect x="186.6" y="1012.62" width="59.1" height="3.39" fill="#adc9fd"/>
<rect x="186.6" y="1014.16" width="59.1" height="1.54" fill="#a3c2fe"/>
<rect x="245.4" y="590.80" width="59.1" height="4.93" fill="#adc9fd"/>
<rect x="245.4" y="593.88" width="59.1" height="3.39" fill="#abc8fd"/>
<rect x="245.4" y="595.42" width="59.1" height="3.39" fill="#b1cbfc"/>
<rect x="245.4" y="596.96" width="59.1" height="3.39" fill="#b9d0f9"/>
<rect x="245.4" y="598.50" width="59.1" height="3.39" fill="#aac7fd"/>
<rect x="245.4" y="600.04" width="59.1" height="3.39" fill="#92b4fe"/>
<rect x="245.4" y="601.58" width="59.1" height="3.39" fill="#8badfd"/>
<rect x="245.4" y="603.12" width="59.1" height="3.39" fill="#9bbcff"/>
<rect x="245.4" y="604.66" width="59.1" height="3.39" fill="#a9c6fd"/>
<rect x="245.4" y="606.19" width="59.1" height="3.39" fill="#adc9fd"/>
<rect x="245.4" y="607.73" width="59.1" height="3.39" fill="#abc8fd"/>
<rect x="245.4" y="609.27" width="59.1" height="3.39" fill="#b2ccfb"/>
<rect x="245.4" y="610.81" width="59.1" height="3.39" fill="#c4d5f3"/>
<rect x="245.4" y="612.35" width="59.1" height="3.39" fill="#cedaeb"/>
<rect x="245.4" y="613.89" width="59.1" height="3.39" fill="#cdd9ec"/>
<rect x="245.4" y="615.43" width="59.1" height="3.39" fill="#c1d4f4"/>
<rect x="245.4" y="616.97" width="59.1" height="3.39" fill="#b6cefa"/>
<rect x="245.4" y="618.51" width="59.1" height="4.93" fill="#b5cdfa"/>
<rect x="245.4" y="621.59" width="59.1" height="3.39" fill="#abc8fd"/>
<rect x="245.4" y="623.13" width="59.1" height="3.39" fill="#a6c4fe"/>
<rect x="245.4" y="624.67" width="59.1" height="3.39" fill="#b1cbfc"/>
<rect x="245.4" y="626.21" width="59.1" height="3.39" fill="#bed2f6"/>
<rect x="245.4" y="627.75" width="59.1" height="3.39" fill="#b9d0f9"/>
<rect x="245.4" y="629.29" width="59.1" height="3.39" fill="#afcafc"/>
<rect x="245.4" y="630.83" width="59.1" height="3.39" fill="#abc8fd"/>
<rect x="245.4" y="632.37" width="59.1" height="3.39" fill="#a9c6fd"/>
<rect x="245.4" y="633.91" width="59.1" height="3.39" fill="#afcafc"/>
<rect x="245.4" y="635.45" width="59.1" height="3.39" fill="#b7cff9"/>
<rect x="245.4" y="636.98" width="59.1" height="3.39" fill="#c3d5f4"/>
<rect x="245.4" y="638.52" width="59.1" height="3.39" fill="#c9d7f0"/>
<rect x="245.4" y="640.06" width="59.1" height="3.39" fill="#c5d6f2"/>
<rect x="245.4" y="641.60" width="59.1" height="4.93" fill="#c6d6f1"/>
<rect x="245.4" y="644.68" width="59.1" height="3.39" fill="#b6cefa"/>
<rect x="245.4" y="646.22" width="59.1" height="3.39" fill="#9dbdff"/>
<rect x="245.4" y="647.76" width="59.1" height="3.39" fill="#94b6ff"/>
<rect x="245.4" y="649.30" width="59.1" height="3.39" fill="#a9c6fd"/>
<rect x="245.4" y="650.84" width="59.1" height="3.39" fill="#bed2f6"/>
<rect x="245.4" y="652.38" width="59.1" height="3.39" fill="#c9d7f0"/>
<rect x="245.4" y="653.92" width="59.1" height="3.39" fill="#cfdaea"/>
<rect x="245.4" y="655.46" width="59.1" height="3.39" fill="#cdd9ec"/>
<rect x="245.4" y="657.00" width="59.1" height="3.39" fill="#ccd9ed"/>
<rect x="245.4" y="658.54" width="59.1" height="3.39" fill="#c6d6f1"/>
<rect x="245.4" y="660.08" width="59.1" height="3.39" fill="#b7cff9"/>
<rect x="245.4" y="661.62" width="59.1" height="3.39" fill="#aec9fc"/>
<rect x="245.4" y="663.16" width="59.1" height="3.39" fill="#a6c4fe"/>
<rect x="245.4" y="664.70" width="59.1" height="3.39" fill="#9ebeff"/>
<rect x="245.4" y="666.24" width="59.1" height="3.39" fill="#aec9fc"/>
<rect x="245.4" y="667.77" width="59.1" height="3.39" fill="#bad0f8"/>
<rect x="245.4" y="669.31" width="59.1" height="3.39" fill="#bfd3f6"/>
<rect x="245.4" y="670.85" width="59.1" height="3.39" fill="#bcd2f7"/>
<rect x="245.4" y="672.39" width="59.1" height="3.39" fill="#bad0f8"/>
<rect x="245.4" y="673.93" width="59.1" height="3.39" fill="#bbd1f8"/>
<rect x="245.4" y="675.47" width="59.1" height="3.39" fill="#bcd2f7"/>
<rect x="245.4" y="677.01" width="59.1" height="3.39" fill="#b6cefa"/>
<rect x="245.4" y="678.55" width="59.1" height="3.39" fill="#b5cdfa"/>
<rect x="245.4" y="680.09" width="59.1" height="3.39" fill="#b7cff9"/>
<rect x="245.4" y="681.63" width="59.1" height="3.39" fill="#bed2f6"/>
<rect x="245.4" y="683.17" width="59.1" height="3.39" fill="#c0d4f5"/>
<rect x="245.4" y="684.71" width="59.1" height="3.39" fill="#c3d5f4"/>
<rect x="245.4" y="686.25" width="59.1" height="3.39" fill="#c4d5f3"/>
<rect x="245.4" y="687.79" width="59.1" height="3.39" fill="#cdd9ec"/>
<rect x="245.4" y="689.33" width="59.1" height="3.39" fill="#ecd3c5"/>
<rect x="245.4" y="690.87" width="59.1" height="3.39" fill="#f1ccb8"/>
<rect x="245.4" y="692.41" width="59.1" height="3.39" fill="#e3d9d3"/>
<rect x="245.4" y="693.95" width="59.1" height="3.39" fill="#ccd9ed"/>
<rect x="245.4" y="695.49" width="59.1" height="3.39" fill="#c1d4f4"/>
<rect x="245.4" y="697.02" width="59.1" height="4.93" fill="#c7d7f0"/>
<rect x="245.4" y="700.10" width="59.1" height="3.39" fill="#c0d4f5"/>
<rect x="245.4" y="701.64" width="59.1" height="4.93" fill="#c4d5f3"/>
<rect x="245.4" y="704.72" width="59.1" height="3.39" fill="#aec9fc"/>
<rect x="245.4" y="706.26" width="59.1" height="4.93" fill="#94b6ff"/>
<rect x="245.4" y="709.34" width="59.1" height="3.39" fill="#a6c4fe"/>
<rect x="245.4" y="710.88" width="59.1" height="3.39" fill="#b9d0f9"/>
<rect x="245.4" y="712.42" width="59.1" height="3.39" fill="#bed2f6"/>
<rect x="245.4" y="713.96" width="59.1" height="4.93" fill="#b9d0f9"/>
<rect x="245.4" y="717.04" width="59.1" height="3.39" fill="#b2ccfb"/>
<rect x="245.4" y="718.58" width="59.1" height="3.39" fill="#abc8fd"/>
<rect x="245.4" y="720.12" width="59.1" height="3.39" fill="#aec9fc"/>
<rect x="245.4" y="721.66" width="59.1" height="3.39" fill="#bbd1f8"/>
<rect x="245.4" y="723.20" width="59.1" height="3.39" fill="#c4d5f3"/>
<rect x="245.4" y="724.74" width="59.1" height="3.39" fill="#d2dbe8"/>
<rect x="245.4" y="726.28" width="59.1" height="3.39" fill="#e7d7ce"/>
<rect x="245.4" y="727.81" width="59.1" height="3.39" fill="#ecd3c5"/>
<rect x="245.4" y="729.35" width="59.1" height="3.39" fill="#efcebd"/>
<rect x="245.4" y="730.89" width="59.1" height="3.39" fill="#f1ccb8"/>
<rect x="245.4" y="732.43" width="59.1" height="3.39" fill="#f0cdbb"/>
<rect x="245.4" y="733.97" width="59.1" height="3.39" fill="#f2cab5"/>
<rect x="245.4" y="735.51" width="59.1" height="3.39" fill="#f3c8b2"/>
<rect x="245.4" y="737.05" width="59.1" height="3.39" fill="#f5c4ac"/>
<rect x="245.4" y="738.59" width="59.1" height="3.39" fill="#f7b79b"/>
<rect x="245.4" y="740.13" width="59.1" height="3.39" fill="#f7b194"/>
<rect x="245.4" y="741.67" width="59.1" height="3.39" fill="#f5c1a9"/>
<rect x="245.4" y="743.21" width="59.1" height="3.39" fill="#f6bfa6"/>
<rect x="245.4" y="744.75" width="59.1" height="3.39" fill="#f7b396"/>
<rect x="245.4" y="746.29" width="59.1" height="3.39" fill="#f7a889"/>
<rect x="245.4" y="747.83" width="59.1" height="3.39" fill="#f7ac8e"/>
<rect x="245.4" y="749.37" width="59.1" height="3.39" fill="#f6bea4"/>
<rect x="245.4" y="750.91" width="59.1" height="3.39" fill="#f3c8b2"/>
<rect x="245.4" y="752.45" width="59.1" height="3.39" fill="#f2cab5"/>
<rect x="245.4" y="753.99" width="59.1" height="3.39" fill="#e8d6cc"/>
<rect x="245.4" y="755.53" width="59.1" height="3.39" fill="#d3dbe7"/>
<rect x="245.4" y="757.07" width="59.1" height="3.39" fill="#c1d4f4"/>
<rect x="245.4" y="758.60" width="59.1" height="3.39" fill="#b9d0f9"/>
<rect x="245.4" y="760.14" width="59.1" height="3.39" fill="#c7d7f0"/>
<rect x="245.4" y="761.68" width="59.1" height="3.39" fill="#d8dce2"/>
<rect x="245.4" y="763.22" width="59.1" height="3.39" fill="#dedcdb"/>
<rect x="245.4" y="764.76" width="59.1" height="3.39" fill="#d6dce4"/>
<rect x="245.4" y="766.30" width="59.1" height="3.39" fill="#cedaeb"/>
<rect x="245.4" y="767.84" width="59.1" height="3.39" fill="#d1dae9"/>
<rect x="245.4" y="769.38" width="59.1" height="3.39" fill="#bbd1f8"/>
<rect x="245.4" y="770.92" width="59.1" height="3.39" fill="#bcd2f7"/>
<rect x="245.4" y="772.46" width="59.1" height="3.39" fill="#e4d9d2"/>
<rect x="245.4" y="774.00" width="59.1" height="3.39" fill="#e9d5cb"/>
<rect x="245.4" y="775.54" width="59.1" height="3.39" fill="#dcdddd"/>
<rect x="245.4" y="777.08" width="59.1" height="3.39" fill="#d2dbe8"/>
<rect x="245.4" y="778.62" width="59.1" height="3.39" fill="#d4dbe6"/>
<rect x="245.4" y="780.16" width="59.1" height="3.39" fill="#e6d7cf"/>
<rect x="245.4" y="781.70" width="59.1" height="3.39" fill="#f4c5ad"/>
<rect x="245.4" y="783.24" width="59.1" height="3.39" fill="#f7b093"/>
<rect x="245.4" y="784.78" width="59.1" height="3.39" fill="#f5a081"/>
<rect x="245.4" y="786.32" width="59.1" height="3.39" fill="#f7ad90"/>
<rect x="245.4" y="787.86" width="59.1" height="3.39" fill="#f7b396"/>
<rect x="245.4" y="789.39" width="59.1" height="3.39" fill="#f6bea4"/>
<rect x="245.4" y="790.93" width="59.1" height="3.39" fill="#ebd3c6"/>
<rect x="245.4" y="792.47" width="59.1" height="3.39" fill="#dedcdb"/>
<rect x="245.4" y="794.01" width="59.1" height="3.39" fill="#d4dbe6"/>
<rect x="245.4" y="795.55" width="59.1" height="3.39" fill="#c9d7f0"/>
<rect x="245.4" y="797.09" width="59.1" height="3.39" fill="#c5d6f2"/>
<rect x="245.4" y="798.63" width="59.1" height="3.39" fill="#b9d0f9"/>
<rect x="245.4" y="800.17" width="59.1" height="3.39" fill="#aec9fc"/>
<rect x="245.4" y="801.71" width="59.1" height="3.39" fill="#a9c6fd"/>
<rect x="245.4" y="803.25" width="59.1" height="3.39" fill="#a2c1ff"/>
<rect x="245.4" y="804.79" width="59.1" height="3.39" fill="#94b6ff"/>
<rect x="245.4" y="806.33" width="59.1" height="3.39" fill="#7da0f9"/>
<rect x="245.4" y="807.87" width="59.1" height="3.39" fill="#6c8ff1"/>
<rect x="245.4" y="809.41" width="59.1" height="3.39" fill="#6180e9"/>
<rect x="245.4" y="810.95" width="59.1" height="3.39" fill="#5a78e4"/>
<rect x="245.4" y="812.49" width="59.1" height="3.39" fill="#5f7fe8"/>
<rect x="245.4" y="814.03" width="59.1" height="3.39" fill="#6b8df0"/>
<rect x="245.4" y="815.57" width="59.1" height="3.39" fill="#7093f3"/>
<rect x="245.4" y="817.11" width="59.1" height="3.39" fill="#779af7"/>
<rect x="245.4" y="818.64" width="59.1" height="3.39" fill="#81a4fb"/>
<rect x="245.4" y="820.18" width="59.1" height="3.39" fill="#96b7ff"/>
<rect x="245.4" y="821.72" width="59.1" height="3.39" fill="#9bbcff"/>
<rect x="245.4" y="823.26" width="59.1" height="6.47" fill="#8badfd"/>
<rect x="245.4" y="827.88" width="59.1" height="3.39" fill="#7b9ff9"/>
<rect x="245.4" y="829.42" width="59.1" height="3.39" fill="#7a9df8"/>
<rect x="245.4" y="830.96" width="59.1" height="3.39" fill="#85a8fc"/>
<rect x="245.4" y="832.50" width="59.1" height="3.39" fill="#8badfd"/>
<rect x="245.4" y="834.04" width="59.1" height="3.39" fill="#94b6ff"/>
<rect x="245.4" y="835.58" width="59.1" height="3.39" fill="#a6c4fe"/>
<rect x="245.4" y="837.12" width="59.1" height="3.39" fill="#b6cefa"/>
<rect x="245.4" y="838.66" width="59.1" height="3.39" fill="#bad0f8"/>
<rect x="245.4" y="840.20" width="59.1" height="3.39" fill="#a5c3fe"/>
<rect x="245.4" y="841.74" width="59.1" height="3.39" fill="#9bbcff"/>
<rect x="245.4" y="843.28" width="59.1" height="3.39" fill="#a7c5fe"/>
<rect x="245.4" y="844.82" width="59.1" height="3.39" fill="#adc9fd"/>
<rect x="245.4" y="846.36" width="59.1" height="3.39" fill="#a3c2fe"/>
<rect x="245.4" y="847.90" width="59.1" height="3.39" fill="#9dbdff"/>
<rect x="245.4" y="849.43" width="59.1" height="3.39" fill="#9fbfff"/>
<rect x="245.4" y="850.97" width="59.1" height="3.39" fill="#a9c6fd"/>
<rect x="245.4" y="852.51" width="59.1" height="3.39" fill="#b9d0f9"/>
<rect x="245.4" y="854.05" width="59.1" height="3.39" fill="#c5d6f2"/>
<rect x="245.4" y="855.59" width="59.1" height="3.39" fill="#c6d6f1"/>
<rect x="245.4" y="857.13" width="59.1" height="3.39" fill="#bed2f6"/>
<rect x="245.4" y="858.67" width="59.1" height="3.39" fill="#b3cdfb"/>
<rect x="245.4" y="860.21" width="59.1" height="3.39" fill="#9bbcff"/>
<rect x="245.4" y="861.75" width="59.1" height="3.39" fill="#89acfd"/>
<rect x="245.4" y="863.29" width="59.1" height="3.39" fill="#80a3fa"/>
<rect x="245.4" y="864.83" width="59.1" height="3.39" fill="#799cf8"/>
<rect x="245.4" y="866.37" width="59.1" height="3.39" fill="#84a7fc"/>
<rect x="245.4" y="867.91" width="59.1" height="3.39" fill="#94b6ff"/>
<rect x="245.4" y="869.45" width="59.1" height="3.39" fill="#89acfd"/>
<rect x="245.4" y="870.99" width="59.1" height="3.39" fill="#85a8fc"/>
<rect x="245.4" y="872.53" width="59.1" height="3.39" fill="#86a9fc"/>
<rect x="245.4" y="874.07" width="59.1" height="3.39" fill="#88abfd"/>
<rect x="245.4" y="875.61" width="59.1" height="3.39" fill="#84a7fc"/>
<rect x="245.4" y="877.15" width="59.1" height="3.39" fill="#7699f6"/>
<rect x="245.4" y="878.69" width="59.1" height="3.39" fill="#7b9ff9"/>
<rect x="245.4" y="880.22" width="59.1" height="3.39" fill="#82a6fb"/>
<rect x="245.4" y="881.76" width="59.1" height="3.39" fill="#7a9df8"/>
<rect x="245.4" y="883.30" width="59.1" height="3.39" fill="#7295f4"/>
<rect x="245.4" y="884.84" width="59.1" height="3.39" fill="#7a9df8"/>
<rect x="245.4" y="886.38" width="59.1" height="3.39" fill="#86a9fc"/>
<rect x="245.4" y="887.92" width="59.1" height="3.39" fill="#9fbfff"/>
<rect x="245.4" y="889.46" width="59.1" height="3.39" fill="#bbd1f8"/>
<rect x="245.4" y="891.00" width="59.1" height="3.39" fill="#b3cdfb"/>
<rect x="245.4" y="892.54" width="59.1" height="4.93" fill="#a5c3fe"/>
<rect x="245.4" y="895.62" width="59.1" height="3.39" fill="#a9c6fd"/>
<rect x="245.4" y="897.16" width="59.1" height="3.39" fill="#a7c5fe"/>
<rect x="245.4" y="898.70" width="59.1" height="3.39" fill="#9bbcff"/>
<rect x="245.4" y="900.24" width="59.1" height="3.39" fill="#94b6ff"/>
<rect x="245.4" y="901.78" width="59.1" height="3.39" fill="#8fb1fe"/>
<rect x="245.4" y="903.32" width="59.1" height="3.39" fill="#88abfd"/>
<rect x="245.4" y="904.86" width="59.1" height="3.39" fill="#89acfd"/>
<rect x="245.4" y="906.40" width="59.1" height="3.39" fill="#8db0fe"/>
<rect x="245.4" y="907.94" width="59.1" height="3.39" fill="#8fb1fe"/>
<rect x="245.4" y="909.48" width="59.1" height="3.39" fill="#92b4fe"/>
<rect x="245.4" y="911.01" width="59.1" height="3.39" fill="#9abbff"/>
<rect x="245.4" y="912.55" width="59.1" height="3.39" fill="#9ebeff"/>
<rect x="245.4" y="914.09" width="59.1" height="4.93" fill="#98b9ff"/>
<rect x="245.4" y="917.17" width="59.1" height="3.39" fill="#a2c1ff"/>
<rect x="245.4" y="918.71" width="59.1" height="3.39" fill="#a9c6fd"/>
<rect x="245.4" y="920.25" width="59.1" height="3.39" fill="#a6c4fe"/>
<rect x="245.4" y="921.79" width="59.1" height="3.39" fill="#9bbcff"/>
<rect x="245.4" y="923.33" width="59.1" height="3.39" fill="#90b2fe"/>
<rect x="245.4" y="924.87" width="59.1" height="3.39" fill="#8fb1fe"/>
<rect x="245.4" y="926.41" width="59.1" height="3.39" fill="#97b8ff"/>
<rect x="245.4" y="927.95" width="59.1" height="3.39" fill="#98b9ff"/>
<rect x="245.4" y="929.49" width="59.1" height="3.39" fill="#9dbdff"/>
<rect x="245.4" y="931.03" width="59.1" height="3.39" fill="#a3c2fe"/>
<rect x="245.4" y="932.57" width="59.1" height="3.39" fill="#a9c6fd"/>
<rect x="245.4" y="934.11" width="59.1" height="3.39" fill="#a5c3fe"/>
<rect x="245.4" y="935.65" width="59.1" height="3.39" fill="#abc8fd"/>
<rect x="245.4" y="937.19" width="59.1" height="3.39" fill="#bad0f8"/>
<rect x="245.4" y="938.73" width="59.1" height="3.39" fill="#bcd2f7"/>
<rect x="245.4" y="940.26" width="59.1" height="3.39" fill="#afcafc"/>
<rect x="245.4" y="941.80" width="59.1" height="3.39" fill="#a2c1ff"/>
<rect x="245.4" y="943.34" width="59.1" height="3.39" fill="#9abbff"/>
<rect x="245.4" y="944.88" width="59.1" height="4.93" fill="#9fbfff"/>
<rect x="245.4" y="947.96" width="59.1" height="3.39" fill="#9bbcff"/>
<rect x="245.4" y="949.50" width="59.1" height="3.39" fill="#97b8ff"/>
<rect x="245.4" y="951.04" width="59.1" height="3.39" fill="#9dbdff"/>
<rect x="245.4" y="952.58" width="59.1" height="3.39" fill="#9ebeff"/>
<rect x="245.4" y="954.12" width="59.1" height="3.39" fill="#93b5fe"/>
<rect x="245.4" y="955.66" width="59.1" height="3.39" fill="#94b6ff"/>
<rect x="245.4" y="957.20" width="59.1" height="3.39" fill="#98b9ff"/>
<rect x="245.4" y="958.74" width="59.1" height="3.39" fill="#9abbff"/>
<rect x="245.4" y="960.28" width="59.1" height="3.39" fill="#90b2fe"/>
<rect x="245.4" y="961.82" width="59.1" height="3.39" fill="#7a9df8"/>
<rect x="245.4" y="963.36" width="59.1" height="3.39" fill="#779af7"/>
<rect x="245.4" y="964.90" width="59.1" height="3.39" fill="#7699f6"/>
<rect x="245.4" y="966.44" width="59.1" height="3.39" fill="#779af7"/>
<rect x="245.4" y="967.98" width="59.1" height="3.39" fill="#8db0fe"/>
<rect x="245.4" y="969.52" width="59.1" height="3.39" fill="#b6cefa"/>
<rect x="245.4" y="971.05" width="59.1" height="3.39" fill="#d2dbe8"/>
<rect x="245.4" y="972.59" width="59.1" height="3.39" fill="#d1dae9"/>
<rect x="245.4" y="974.13" width="59.1" height="3.39" fill="#cad8ef"/>
<rect x="245.4" y="975.67" width="59.1" height="3.39" fill="#bbd1f8"/>
<rect x="245.4" y="977.21" width="59.1" height="4.93" fill="#a9c6fd"/>
<rect x="245.4" y="980.29" width="59.1" height="3.39" fill="#b1cbfc"/>
<rect x="245.4" y="981.83" width="59.1" height="3.39" fill="#b6cefa"/>
<rect x="245.4" y="983.37" width="59.1" height="3.39" fill="#adc9fd"/>
<rect x="245.4" y="984.91" width="59.1" height="3.39" fill="#9ebeff"/>
<rect x="245.4" y="986.45" width="59.1" height="3.39" fill="#93b5fe"/>
<rect x="245.4" y="987.99" width="59.1" height="3.39" fill="#9bbcff"/>
<rect x="245.4" y="989.53" width="59.1" height="3.39" fill="#a3c2fe"/>
<rect x="245.4" y="991.07" width="59.1" height="3.39" fill="#a6c4fe"/>
<rect x="245.4" y="992.61" width="59.1" height="3.39" fill="#b5cdfa"/>
<rect x="245.4" y="994.15" width="59.1" height="3.39" fill="#cad8ef"/>
<rect x="245.4" y="995.69" width="59.1" height="3.39" fill="#d3dbe7"/>
<rect x="245.4" y="997.23" width="59.1" height="3.39" fill="#c5d6f2"/>
<rect x="245.4" y="998.77" width="59.1" height="3.39" fill="#aac7fd"/>
<rect x="245.4" y="1000.31" width="59.1" height="3.39" fill="#93b5fe"/>
<rect x="245.4" y="1001.84" width="59.1" height="3.39" fill="#8caffe"/>
<rect x="245.4" y="1003.38" width="59.1" height="3.39" fill="#86a9fc"/>
<rect x="245.4" y="1004.92" width="59.1" height="3.39" fill="#8db0fe"/>
<rect x="245.4" y="1006.46" width="59.1" height="4.93" fill="#94b6ff"/>
<rect x="245.4" y="1009.54" width="59.1" height="3.39" fill="#a2c1ff"/>
<rect x="245.4" y="1011.08" width="59.1" height="3.39" fill="#a9c6fd"/>
<rect x="245.4" y="1012.62" width="59.1" height="3.39" fill="#a7c5fe"/>
<rect x="245.4" y="1014.16" width="59.1" height="1.54" fill="#aac7fd"/>
<rect x="304.2" y="590.80" width="59.1" height="3.39" fill="#afcafc"/>
<rect x="304.2" y="592.34" width="59.1" height="3.39" fill="#b1cbfc"/>
<rect x="304.2" y="593.88" width="59.1" height="3.39" fill="#b6cefa"/>
<rect x="304.2" y="595.42" width="59.1" height="3.39" fill="#bbd1f8"/>
<rect x="304.2" y="596.96" width="59.1" height="3.39" fill="#c4d5f3"/>
<rect x="304.2" y="598.50" width="59.1" height="3.39" fill="#c7d7f0"/>
<rect x="304.2" y="600.04" width="59.1" height="3.39" fill="#a3c2fe"/>
<rect x="304.2" y="601.58" width="59.1" height="3.39" fill="#8fb1fe"/>
<rect x="304.2" y="603.12" width="59.1" height="3.39" fill="#abc8fd"/>
<rect x="304.2" y="604.66" width="59.1" height="3.39" fill="#c1d4f4"/>
<rect x="304.2" y="606.19" width="59.1" height="3.39" fill="#c7d7f0"/>
<rect x="304.2" y="607.73" width="59.1" height="3.39" fill="#c4d5f3"/>
<rect x="304.2" y="609.27" width="59.1" height="4.93" fill="#b5cdfa"/>
<rect x="304.2" y="612.35" width="59.1" height="3.39" fill="#c0d4f5"/>
<rect x="304.2" y="613.89" width="59.1" height="3.39" fill="#c9d7f0"/>
<rect x="304.2" y="615.43" width="59.1" height="3.39" fill="#bcd2f7"/>
<rect x="304.2" y="616.97" width="59.1" height="3.39" fill="#9fbfff"/>
<rect x="304.2" y="618.51" width="59.1" height="3.39" fill="#93b5fe"/>
<rect x="304.2" y="620.05" width="59.1" height="3.39" fill="#92b4fe"/>
<rect x="304.2" y="621.59" width="59.1" height="3.39" fill="#9abbff"/>
<rect x="304.2" y="623.13" width="59.1" height="3.39" fill="#a7c5fe"/>
<rect x="304.2" y="624.67" width="59.1" height="3.39" fill="#afcafc"/>
<rect x="304.2" y="626.21" width="59.1" height="3.39" fill="#aec9fc"/>
<rect x="304.2" y="627.75" width="59.1" height="3.39" fill="#b5cdfa"/>
<rect x="304.2" y="629.29" width="59.1" height="3.39" fill="#bcd2f7"/>
<rect x="304.2" y="630.83" width="59.1" height="3.39" fill="#b9d0f9"/>
<rect x="304.2" y="632.37" width="59.1" height="3.39" fill="#b1cbfc"/>
<rect x="304.2" y="633.91" width="59.1" height="3.39" fill="#abc8fd"/>
<rect x="304.2" y="635.45" width="59.1" height="3.39" fill="#aec9fc"/>
<rect x="304.2" y="636.98" width="59.1" height="3.39" fill="#b6cefa"/>
<rect x="304.2" y="638.52" width="59.1" height="3.39" fill="#c0d4f5"/>
<rect x="304.2" y="640.06" width="59.1" height="3.39" fill="#bfd3f6"/>
<rect x="304.2" y="641.60" width="59.1" height="3.39" fill="#c1d4f4"/>
<rect x="304.2" y="643.14" width="59.1" height="3.39" fill="#ccd9ed"/>
<rect x="304.2" y="644.68" width="59.1" height="3.39" fill="#cfdaea"/>
<rect x="304.2" y="646.22" width="59.1" height="3.39" fill="#cbd8ee"/>
<rect x="304.2" y="647.76" width="59.1" height="3.39" fill="#c6d6f1"/>
<rect x="304.2" y="649.30" width="59.1" height="3.39" fill="#d2dbe8"/>
<rect x="304.2" y="650.84" width="59.1" height="3.39" fill="#dadce0"/>
<rect x="304.2" y="652.38" width="59.1" height="3.39" fill="#dcdddd"/>
<rect x="304.2" y="653.92" width="59.1" height="3.39" fill="#e2dad5"/>
<rect x="304.2" y="655.46" width="59.1" height="3.39" fill="#e6d7cf"/>
<rect x="304.2" y="657.00" width="59.1" height="3.39" fill="#e0dbd8"/>
<rect x="304.2" y="658.54" width="59.1" height="3.39" fill="#d8dce2"/>
<rect x="304.2" y="660.08" width="59.1" height="4.93" fill="#cdd9ec"/>
<rect x="304.2" y="663.16" width="59.1" height="3.39" fill="#d3dbe7"/>
<rect x="304.2" y="664.70" width="59.1" height="3.39" fill="#c9d7f0"/>
<rect x="304.2" y="666.24" width="59.1" height="3.39" fill="#c6d6f1"/>
<rect x="304.2" y="667.77" width="59.1" height="3.39" fill="#cedaeb"/>
<rect x="304.2" y="669.31" width="59.1" height="3.39" fill="#d7dce3"/>
<rect x="304.2" y="670.85" width="59.1" height="4.93" fill="#dcdddd"/>
<rect x="304.2" y="673.93" width="59.1" height="3.39" fill="#dadce0"/>
<rect x="304.2" y="675.47" width="59.1" height="3.39" fill="#d6dce4"/>
<rect x="304.2" y="677.01" width="59.1" height="3.39" fill="#d5dbe5"/>
<rect x="304.2" y="678.55" width="59.1" height="3.39" fill="#cad8ef"/>
<rect x="304.2" y="680.09" width="59.1" height="4.93" fill="#c3d5f4"/>
<rect x="304.2" y="683.17" width="59.1" height="3.39" fill="#c6d6f1"/>
<rect x="304.2" y="684.71" width="59.1" height="4.93" fill="#cedaeb"/>
<rect x="304.2" y="687.79" width="59.1" height="3.39" fill="#d3dbe7"/>
<rect x="304.2" y="689.33" width="59.1" height="3.39" fill="#e1dad6"/>
<rect x="304.2" y="690.87" width="59.1" height="3.39" fill="#dedcdb"/>
<rect x="304.2" y="692.41" width="59.1" height="3.39" fill="#d2dbe8"/>
<rect x="304.2" y="693.95" width="59.1" height="3.39" fill="#cbd8ee"/>
<rect x="304.2" y="695.49" width="59.1" height="3.39" fill="#dbdcde"/>
<rect x="304.2" y="697.02" width="59.1" height="3.39" fill="#eed0c0"/>
<rect x="304.2" y="698.56" width="59.1" height="3.39" fill="#e8d6cc"/>
<rect x="304.2" y="700.10" width="59.1" height="3.39" fill="#d7dce3"/>
<rect x="304.2" y="701.64" width="59.1" height="3.39" fill="#d4dbe6"/>
<rect x="304.2" y="703.18" width="59.1" height="3.39" fill="#d7dce3"/>
<rect x="304.2" y="704.72" width="59.1" height="3.39" fill="#d4dbe6"/>
<rect x="304.2" y="706.26" width="59.1" height="4.93" fill="#ccd9ed"/>
<rect x="304.2" y="709.34" width="59.1" height="3.39" fill="#dadce0"/>
<rect x="304.2" y="710.88" width="59.1" height="3.39" fill="#e7d7ce"/>
<rect x="304.2" y="712.42" width="59.1" height="3.39" fill="#e6d7cf"/>
<rect x="304.2" y="713.96" width="59.1" height="3.39" fill="#dedcdb"/>
<rect x="304.2" y="715.50" width="59.1" height="3.39" fill="#d7dce3"/>
<rect x="304.2" y="717.04" width="59.1" height="3.39" fill="#d8dce2"/>
<rect x="304.2" y="718.58" width="59.1" height="3.39" fill="#dcdddd"/>
<rect x="304.2" y="720.12" width="59.1" height="3.39" fill="#d6dce4"/>
<rect x="304.2" y="721.66" width="59.1" height="3.39" fill="#d2dbe8"/>
<rect x="304.2" y="723.20" width="59.1" height="3.39" fill="#d4dbe6"/>
<rect x="304.2" y="724.74" width="59.1" height="3.39" fill="#dadce0"/>
<rect x="304.2" y="726.28" width="59.1" height="3.39" fill="#e5d8d1"/>
<rect x="304.2" y="727.81" width="59.1" height="3.39" fill="#edd1c2"/>
<rect x="304.2" y="729.35" width="59.1" height="4.93" fill="#f3c8b2"/>
<rect x="304.2" y="732.43" width="59.1" height="3.39" fill="#edd1c2"/>
<rect x="304.2" y="733.97" width="59.1" height="3.39" fill="#e7d7ce"/>
<rect x="304.2" y="735.51" width="59.1" height="3.39" fill="#e6d7cf"/>
<rect x="304.2" y="737.05" width="59.1" height="3.39" fill="#ead5c9"/>
<rect x="304.2" y="738.59" width="59.1" height="3.39" fill="#ead4c8"/>
<rect x="304.2" y="740.13" width="59.1" height="3.39" fill="#ebd3c6"/>
<rect x="304.2" y="741.67" width="59.1" height="3.39" fill="#efcfbf"/>
<rect x="304.2" y="743.21" width="59.1" height="3.39" fill="#f2cbb7"/>
<rect x="304.2" y="744.75" width="59.1" height="3.39" fill="#f6a385"/>
<rect x="304.2" y="746.29" width="59.1" height="3.39" fill="#da5a49"/>
<rect x="304.2" y="747.83" width="59.1" height="3.39" fill="#e8765c"/>
<rect x="304.2" y="749.37" width="59.1" height="3.39" fill="#f4987a"/>
<rect x="304.2" y="750.91" width="59.1" height="3.39" fill="#f6bda2"/>
<rect x="304.2" y="752.45" width="59.1" height="4.93" fill="#f2cab5"/>
<rect x="304.2" y="755.53" width="59.1" height="3.39" fill="#f2c9b4"/>
<rect x="304.2" y="757.07" width="59.1" height="3.39" fill="#e1dad6"/>
<rect x="304.2" y="758.60" width="59.1" height="3.39" fill="#bed2f6"/>
<rect x="304.2" y="760.14" width="59.1" height="3.39" fill="#9dbdff"/>
<rect x="304.2" y="761.68" width="59.1" height="3.39" fill="#88abfd"/>
<rect x="304.2" y="763.22" width="59.1" height="3.39" fill="#7597f6"/>
<rect x="304.2" y="764.76" width="59.1" height="3.39" fill="#5e7de7"/>
<rect x="304.2" y="766.30" width="59.1" height="3.39" fill="#6384eb"/>
<rect x="304.2" y="767.84" width="59.1" height="3.39" fill="#6c8ff1"/>
<rect x="304.2" y="769.38" width="59.1" height="3.39" fill="#81a4fb"/>
<rect x="304.2" y="770.92" width="59.1" height="3.39" fill="#96b7ff"/>
<rect x="304.2" y="772.46" width="59.1" height="3.39" fill="#a3c2fe"/>
<rect x="304.2" y="774.00" width="59.1" height="3.39" fill="#aac7fd"/>
<rect x="304.2" y="775.54" width="59.1" height="4.93" fill="#9fbfff"/>
<rect x="304.2" y="778.62" width="59.1" height="3.39" fill="#a5c3fe"/>
<rect x="304.2" y="780.16" width="59.1" height="3.39" fill="#b6cefa"/>
<rect x="304.2" y="781.70" width="59.1" height="3.39" fill="#c7d7f0"/>
<rect x="304.2" y="783.24" width="59.1" height="3.39" fill="#c6d6f1"/>
<rect x="304.2" y="784.78" width="59.1" height="3.39" fill="#c0d4f5"/>
<rect x="304.2" y="786.32" width="59.1" height="3.39" fill="#c7d7f0"/>
<rect x="304.2" y="787.86" width="59.1" height="3.39" fill="#d6dce4"/>
<rect x="304.2" y="789.39" width="59.1" height="3.39" fill="#d3dbe7"/>
<rect x="304.2" y="790.93" width="59.1" height="3.39" fill="#c0d4f5"/>
<rect x="304.2" y="792.47" width="59.1" height="3.39" fill="#bfd3f6"/>
<rect x="304.2" y="794.01" width="59.1" height="3.39" fill="#bed2f6"/>
<rect x="304.2" y="795.55" width="59.1" height="3.39" fill="#c0d4f5"/>
<rect x="304.2" y="797.09" width="59.1" height="3.39" fill="#b6cefa"/>
<rect x="304.2" y="798.63" width="59.1" height="3.39" fill="#b7cff9"/>
<rect x="304.2" y="800.17" width="59.1" height="3.39" fill="#b1cbfc"/>
<rect x="304.2" y="801.71" width="59.1" height="3.39" fill="#bcd2f7"/>
<rect x="304.2" y="803.25" width="59.1" height="3.39" fill="#c3d5f4"/>
<rect x="304.2" y="804.79" width="59.1" height="3.39" fill="#bfd3f6"/>
<rect x="304.2" y="806.33" width="59.1" height="3.39" fill="#9abbff"/>
<rect x="304.2" y="807.87" width="59.1" height="3.39" fill="#7597f6"/>
<rect x="304.2" y="809.41" width="59.1" height="3.39" fill="#5a78e4"/>
<rect x="304.2" y="810.95" width="59.1" height="3.39" fill="#4c66d6"/>
<rect x="304.2" y="812.49" width="59.1" height="3.39" fill="#5572df"/>
<rect x="304.2" y="814.03" width="59.1" height="3.39" fill="#6788ee"/>
<rect x="304.2" y="815.57" width="59.1" height="3.39" fill="#6b8df0"/>
<rect x="304.2" y="817.11" width="59.1" height="3.39" fill="#6e90f2"/>
<rect x="304.2" y="818.64" width="59.1" height="3.39" fill="#80a3fa"/>
<rect x="304.2" y="820.18" width="59.1" height="3.39" fill="#96b7ff"/>
<rect x="304.2" y="821.72" width="59.1" height="3.39" fill="#9fbfff"/>
<rect x="304.2" y="823.26" width="59.1" height="3.39" fill="#85a8fc"/>
<rect x="304.2" y="824.80" width="59.1" height="3.39" fill="#80a3fa"/>
<rect x="304.2" y="826.34" width="59.1" height="3.39" fill="#89acfd"/>
<rect x="304.2" y="827.88" width="59.1" height="3.39" fill="#8caffe"/>
<rect x="304.2" y="829.42" width="59.1" height="3.39" fill="#8fb1fe"/>
<rect x="304.2" y="830.96" width="59.1" height="3.39" fill="#9abbff"/>
<rect x="304.2" y="832.50" width="59.1" height="3.39" fill="#a5c3fe"/>
<rect x="304.2" y="834.04" width="59.1" height="3.39" fill="#afcafc"/>
<rect x="304.2" y="835.58" width="59.1" height="3.39" fill="#bad0f8"/>
<rect x="304.2" y="837.12" width="59.1" height="3.39" fill="#c9d7f0"/>
<rect x="304.2" y="838.66" width="59.1" height="3.39" fill="#d7dce3"/>
<rect x="304.2" y="840.20" width="59.1" height="3.39" fill="#c5d6f2"/>
<rect x="304.2" y="841.74" width="59.1" height="3.39" fill="#adc9fd"/>
<rect x="304.2" y="843.28" width="59.1" height="3.39" fill="#b5cdfa"/>
<rect x="304.2" y="844.82" width="59.1" height="3.39" fill="#bcd2f7"/>
<rect x="304.2" y="846.36" width="59.1" height="3.39" fill="#b7cff9"/>
<rect x="304.2" y="847.90" width="59.1" height="3.39" fill="#abc8fd"/>
<rect x="304.2" y="849.43" width="59.1" height="3.39" fill="#a6c4fe"/>
<rect x="304.2" y="850.97" width="59.1" height="3.39" fill="#aac7fd"/>
<rect x="304.2" y="852.51" width="59.1" height="3.39" fill="#cad8ef"/>
<rect x="304.2" y="854.05" width="59.1" height="3.39" fill="#d4dbe6"/>
<rect x="304.2" y="855.59" width="59.1" height="3.39" fill="#c0d4f5"/>
<rect x="304.2" y="857.13" width="59.1" height="3.39" fill="#b2ccfb"/>
<rect x="304.2" y="858.67" width="59.1" height="3.39" fill="#abc8fd"/>
<rect x="304.2" y="860.21" width="59.1" height="3.39" fill="#9bbcff"/>
<rect x="304.2" y="861.75" width="59.1" height="3.39" fill="#92b4fe"/>
<rect x="304.2" y="863.29" width="59.1" height="3.39" fill="#89acfd"/>
<rect x="304.2" y="864.83" width="59.1" height="3.39" fill="#80a3fa"/>
<rect x="304.2" y="866.37" width="59.1" height="3.39" fill="#8fb1fe"/>
<rect x="304.2" y="867.91" width="59.1" height="3.39" fill="#a5c3fe"/>
<rect x="304.2" y="869.45" width="59.1" height="3.39" fill="#94b6ff"/>
<rect x="304.2" y="870.99" width="59.1" height="3.39" fill="#8caffe"/>
<rect x="304.2" y="872.53" width="59.1" height="3.39" fill="#86a9fc"/>
<rect x="304.2" y="874.07" width="59.1" height="3.39" fill="#84a7fc"/>
<rect x="304.2" y="875.61" width="59.1" height="3.39" fill="#779af7"/>
<rect x="304.2" y="877.15" width="59.1" height="3.39" fill="#7093f3"/>
<rect x="304.2" y="878.69" width="59.1" height="4.93" fill="#7699f6"/>
<rect x="304.2" y="881.76" width="59.1" height="3.39" fill="#6c8ff1"/>
<rect x="304.2" y="883.30" width="59.1" height="3.39" fill="#688aef"/>
<rect x="304.2" y="884.84" width="59.1" height="3.39" fill="#7597f6"/>
<rect x="304.2" y="886.38" width="59.1" height="3.39" fill="#86a9fc"/>
<rect x="304.2" y="887.92" width="59.1" height="3.39" fill="#a2c1ff"/>
<rect x="304.2" y="889.46" width="59.1" height="3.39" fill="#b7cff9"/>
<rect x="304.2" y="891.00" width="59.1" height="3.39" fill="#a9c6fd"/>
<rect x="304.2" y="892.54" width="59.1" height="3.39" fill="#96b7ff"/>
<rect x="304.2" y="894.08" width="59.1" height="3.39" fill="#94b6ff"/>
<rect x="304.2" y="895.62" width="59.1" height="3.39" fill="#9fbfff"/>
<rect x="304.2" y="897.16" width="59.1" height="3.39" fill="#a2c1ff"/>
<rect x="304.2" y="898.70" width="59.1" height="3.39" fill="#90b2fe"/>
<rect x="304.2" y="900.24" width="59.1" height="3.39" fill="#8badfd"/>
<rect x="304.2" y="901.78" width="59.1" height="3.39" fill="#86a9fc"/>
<rect x="304.2" y="903.32" width="59.1" height="3.39" fill="#80a3fa"/>
<rect x="304.2" y="904.86" width="59.1" height="3.39" fill="#85a8fc"/>
<rect x="304.2" y="906.40" width="59.1" height="3.39" fill="#8db0fe"/>
<rect x="304.2" y="907.94" width="59.1" height="3.39" fill="#90b2fe"/>
<rect x="304.2" y="909.48" width="59.1" height="3.39" fill="#9bbcff"/>
<rect x="304.2" y="911.01" width="59.1" height="3.39" fill="#a7c5fe"/>
<rect x="304.2" y="912.55" width="59.1" height="3.39" fill="#a6c4fe"/>
<rect x="304.2" y="914.09" width="59.1" height="3.39" fill="#98b9ff"/>
<rect x="304.2" y="915.63" width="59.1" height="3.39" fill="#93b5fe"/>
<rect x="304.2" y="917.17" width="59.1" height="3.39" fill="#a1c0ff"/>
<rect x="304.2" y="918.71" width="59.1" height="3.39" fill="#aec9fc"/>
<rect x="304.2" y="920.25" width="59.1" height="3.39" fill="#a7c5fe"/>
<rect x="304.2" y="921.79" width="59.1" height="3.39" fill="#92b4fe"/>
<rect x="304.2" y="923.33" width="59.1" height="4.93" fill="#8badfd"/>
<rect x="304.2" y="926.41" width="59.1" height="3.39" fill="#94b6ff"/>
<rect x="304.2" y="927.95" width="59.1" height="3.39" fill="#9fbfff"/>
<rect x="304.2" y="929.49" width="59.1" height="3.39" fill="#a7c5fe"/>
<rect x="304.2" y="931.03" width="59.1" height="3.39" fill="#adc9fd"/>
<rect x="304.2" y="932.57" width="59.1" height="3.39" fill="#aac7fd"/>
<rect x="304.2" y="934.11" width="59.1" height="3.39" fill="#b2ccfb"/>
<rect x="304.2" y="935.65" width="59.1" height="3.39" fill="#b5cdfa"/>
<rect x="304.2" y="937.19" width="59.1" height="3.39" fill="#bbd1f8"/>
<rect x="304.2" y="938.73" width="59.1" height="3.39" fill="#bed2f6"/>
<rect x="304.2" y="940.26" width="59.1" height="3.39" fill="#afcafc"/>
<rect x="304.2" y="941.80" width="59.1" height="3.39" fill="#9dbdff"/>
<rect x="304.2" y="943.34" width="59.1" height="3.39" fill="#90b2fe"/>
<rect x="304.2" y="944.88" width="59.1" height="3.39" fill="#92b4fe"/>
<rect x="304.2" y="946.42" width="59.1" height="3.39" fill="#96b7ff"/>
<rect x="304.2" y="947.96" width="59.1" height="3.39" fill="#9bbcff"/>
<rect x="304.2" y="949.50" width="59.1" height="3.39" fill="#94b6ff"/>
<rect x="304.2" y="951.04" width="59.1" height="3.39" fill="#9ebeff"/>
<rect x="304.2" y="952.58" width="59.1" height="3.39" fill="#a9c6fd"/>
<rect x="304.2" y="954.12" width="59.1" height="3.39" fill="#9bbcff"/>
<rect x="304.2" y="955.66" width="59.1" height="3.39" fill="#97b8ff"/>
<rect x="304.2" y="957.20" width="59.1" height="3.39" fill="#98b9ff"/>
<rect x="304.2" y="958.74" width="59.1" height="3.39" fill="#93b5fe"/>
<rect x="304.2" y="960.28" width="59.1" height="3.39" fill="#8fb1fe"/>
<rect x="304.2" y="961.82" width="59.1" height="3.39" fill="#82a6fb"/>
<rect x="304.2" y="963.36" width="59.1" height="3.39" fill="#7da0f9"/>
<rect x="304.2" y="964.90" width="59.1" height="3.39" fill="#7295f4"/>
<rect x="304.2" y="966.44" width="59.1" height="3.39" fill="#7a9df8"/>
<rect x="304.2" y="967.98" width="59.1" height="3.39" fill="#97b8ff"/>
<rect x="304.2" y="969.52" width="59.1" height="3.39" fill="#b7cff9"/>
<rect x="304.2" y="971.05" width="59.1" height="3.39" fill="#c9d7f0"/>
<rect x="304.2" y="972.59" width="59.1" height="3.39" fill="#bed2f6"/>
<rect x="304.2" y="974.13" width="59.1" height="3.39" fill="#b2ccfb"/>
<rect x="304.2" y="975.67" width="59.1" height="3.39" fill="#a3c2fe"/>
<rect x="304.2" y="977.21" width="59.1" height="3.39" fill="#94b6ff"/>
<rect x="304.2" y="978.75" width="59.1" height="3.39" fill="#8fb1fe"/>
<rect x="304.2" y="980.29" width="59.1" height="3.39" fill="#9abbff"/>
<rect x="304.2" y="981.83" width="59.1" height="3.39" fill="#9fbfff"/>
<rect x="304.2" y="983.37" width="59.1" height="3.39" fill="#a2c1ff"/>
<rect x="304.2" y="984.91" width="59.1" height="3.39" fill="#9bbcff"/>
<rect x="304.2" y="986.45" width="59.1" height="3.39" fill="#a3c2fe"/>
<rect x="304.2" y="987.99" width="59.1" height="3.39" fill="#b6cefa"/>
<rect x="304.2" y="989.53" width="59.1" height="3.39" fill="#aec9fc"/>
<rect x="304.2" y="991.07" width="59.1" height="3.39" fill="#a5c3fe"/>
<rect x="304.2" y="992.61" width="59.1" height="3.39" fill="#a2c1ff"/>
<rect x="304.2" y="994.15" width="59.1" height="3.39" fill="#b5cdfa"/>
<rect x="304.2" y="995.69" width="59.1" height="3.39" fill="#bed2f6"/>
<rect x="304.2" y="997.23" width="59.1" height="3.39" fill="#a5c3fe"/>
<rect x="304.2" y="998.77" width="59.1" height="3.39" fill="#9bbcff"/>
<rect x="304.2" y="1000.31" width="59.1" height="3.39" fill="#94b6ff"/>
<rect x="304.2" y="1001.84" width="59.1" height="4.93" fill="#96b7ff"/>
<rect x="304.2" y="1004.92" width="59.1" height="3.39" fill="#89acfd"/>
<rect x="304.2" y="1006.46" width="59.1" height="3.39" fill="#7ea1fa"/>
<rect x="304.2" y="1008.00" width="59.1" height="3.39" fill="#85a8fc"/>
<rect x="304.2" y="1009.54" width="59.1" height="3.39" fill="#90b2fe"/>
<rect x="304.2" y="1011.08" width="59.1" height="3.39" fill="#9abbff"/>
<rect x="304.2" y="1012.62" width="59.1" height="3.39" fill="#9ebeff"/>
<rect x="304.2" y="1014.16" width="59.1" height="1.54" fill="#9dbdff"/>
<rect x="363.0" y="590.80" width="59.1" height="3.39" fill="#7da0f9"/>
<rect x="363.0" y="592.34" width="59.1" height="3.39" fill="#81a4fb"/>
<rect x="363.0" y="593.88" width="59.1" height="3.39" fill="#89acfd"/>
<rect x="363.0" y="595.42" width="59.1" height="3.39" fill="#92b4fe"/>
<rect x="363.0" y="596.96" width="59.1" height="3.39" fill="#93b5fe"/>
<rect x="363.0" y="598.50" width="59.1" height="3.39" fill="#81a4fb"/>
<rect x="363.0" y="600.04" width="59.1" height="3.39" fill="#7b9ff9"/>
<rect x="363.0" y="601.58" width="59.1" height="3.39" fill="#7ea1fa"/>
<rect x="363.0" y="603.12" width="59.1" height="3.39" fill="#8db0fe"/>
<rect x="363.0" y="604.66" width="59.1" height="3.39" fill="#9ebeff"/>
<rect x="363.0" y="606.19" width="59.1" height="3.39" fill="#a5c3fe"/>
<rect x="363.0" y="607.73" width="59.1" height="4.93" fill="#a1c0ff"/>
<rect x="363.0" y="610.81" width="59.1" height="3.39" fill="#a2c1ff"/>
<rect x="363.0" y="612.35" width="59.1" height="3.39" fill="#9abbff"/>
<rect x="363.0" y="613.89" width="59.1" height="3.39" fill="#94b6ff"/>
<rect x="363.0" y="615.43" width="59.1" height="3.39" fill="#90b2fe"/>
<rect x="363.0" y="616.97" width="59.1" height="3.39" fill="#8fb1fe"/>
<rect x="363.0" y="618.51" width="59.1" height="3.39" fill="#92b4fe"/>
<rect x="363.0" y="620.05" width="59.1" height="3.39" fill="#98b9ff"/>
<rect x="363.0" y="621.59" width="59.1" height="3.39" fill="#a1c0ff"/>
<rect x="363.0" y="623.13" width="59.1" height="3.39" fill="#a5c3fe"/>
<rect x="363.0" y="624.67" width="59.1" height="3.39" fill="#9fbfff"/>
<rect x="363.0" y="626.21" width="59.1" height="3.39" fill="#93b5fe"/>
<rect x="363.0" y="627.75" width="59.1" height="3.39" fill="#9abbff"/>
<rect x="363.0" y="629.29" width="59.1" height="3.39" fill="#afcafc"/>
<rect x="363.0" y="630.83" width="59.1" height="3.39" fill="#a3c2fe"/>
<rect x="363.0" y="632.37" width="59.1" height="3.39" fill="#92b4fe"/>
<rect x="363.0" y="633.91" width="59.1" height="3.39" fill="#8badfd"/>
<rect x="363.0" y="635.45" width="59.1" height="3.39" fill="#90b2fe"/>
<rect x="363.0" y="636.98" width="59.1" height="3.39" fill="#9dbdff"/>
<rect x="363.0" y="638.52" width="59.1" height="3.39" fill="#a1c0ff"/>
<rect x="363.0" y="640.06" width="59.1" height="3.39" fill="#9abbff"/>
<rect x="363.0" y="641.60" width="59.1" height="3.39" fill="#9bbcff"/>
<rect x="363.0" y="643.14" width="59.1" height="3.39" fill="#a7c5fe"/>
<rect x="363.0" y="644.68" width="59.1" height="3.39" fill="#adc9fd"/>
<rect x="363.0" y="646.22" width="59.1" height="3.39" fill="#a3c2fe"/>
<rect x="363.0" y="647.76" width="59.1" height="3.39" fill="#9fbfff"/>
<rect x="363.0" y="649.30" width="59.1" height="3.39" fill="#abc8fd"/>
<rect x="363.0" y="650.84" width="59.1" height="3.39" fill="#afcafc"/>
<rect x="363.0" y="652.38" width="59.1" height="3.39" fill="#bcd2f7"/>
<rect x="363.0" y="653.92" width="59.1" height="3.39" fill="#c4d5f3"/>
<rect x="363.0" y="655.46" width="59.1" height="3.39" fill="#b5cdfa"/>
<rect x="363.0" y="657.00" width="59.1" height="3.39" fill="#a3c2fe"/>
<rect x="363.0" y="658.54" width="59.1" height="3.39" fill="#98b9ff"/>
<rect x="363.0" y="660.08" width="59.1" height="3.39" fill="#9dbdff"/>
<rect x="363.0" y="661.62" width="59.1" height="3.39" fill="#abc8fd"/>
<rect x="363.0" y="663.16" width="59.1" height="3.39" fill="#b6cefa"/>
<rect x="363.0" y="664.70" width="59.1" height="3.39" fill="#b3cdfb"/>
<rect x="363.0" y="666.24" width="59.1" height="3.39" fill="#bfd3f6"/>
<rect x="363.0" y="667.77" width="59.1" height="3.39" fill="#cad8ef"/>
<rect x="363.0" y="669.31" width="59.1" height="3.39" fill="#cbd8ee"/>
<rect x="363.0" y="670.85" width="59.1" height="3.39" fill="#c9d7f0"/>
<rect x="363.0" y="672.39" width="59.1" height="3.39" fill="#bcd2f7"/>
<rect x="363.0" y="673.93" width="59.1" height="3.39" fill="#b1cbfc"/>
<rect x="363.0" y="675.47" width="59.1" height="3.39" fill="#a6c4fe"/>
<rect x="363.0" y="677.01" width="59.1" height="3.39" fill="#9ebeff"/>
<rect x="363.0" y="678.55" width="59.1" height="4.93" fill="#98b9ff"/>
<rect x="363.0" y="681.63" width="59.1" height="3.39" fill="#aec9fc"/>
<rect x="363.0" y="683.17" width="59.1" height="3.39" fill="#b5cdfa"/>
<rect x="363.0" y="684.71" width="59.1" height="3.39" fill="#abc8fd"/>
<rect x="363.0" y="686.25" width="59.1" height="3.39" fill="#a3c2fe"/>
<rect x="363.0" y="687.79" width="59.1" height="3.39" fill="#a9c6fd"/>
<rect x="363.0" y="689.33" width="59.1" height="3.39" fill="#aec9fc"/>
<rect x="363.0" y="690.87" width="59.1" height="3.39" fill="#a5c3fe"/>
<rect x="363.0" y="692.41" width="59.1" height="3.39" fill="#96b7ff"/>
<rect x="363.0" y="693.95" width="59.1" height="3.39" fill="#92b4fe"/>
<rect x="363.0" y="695.49" width="59.1" height="3.39" fill="#a2c1ff"/>
<rect x="363.0" y="697.02" width="59.1" height="3.39" fill="#bbd1f8"/>
<rect x="363.0" y="698.56" width="59.1" height="3.39" fill="#afcafc"/>
<rect x="363.0" y="700.10" width="59.1" height="3.39" fill="#89acfd"/>
<rect x="363.0" y="701.64" width="59.1" height="3.39" fill="#82a6fb"/>
<rect x="363.0" y="703.18" width="59.1" height="3.39" fill="#88abfd"/>
<rect x="363.0" y="704.72" width="59.1" height="3.39" fill="#89acfd"/>
<rect x="363.0" y="706.26" width="59.1" height="3.39" fill="#93b5fe"/>
<rect x="363.0" y="707.80" width="59.1" height="3.39" fill="#a6c4fe"/>
<rect x="363.0" y="709.34" width="59.1" height="3.39" fill="#b9d0f9"/>
<rect x="363.0" y="710.88" width="59.1" height="3.39" fill="#c4d5f3"/>
<rect x="363.0" y="712.42" width="59.1" height="3.39" fill="#c7d7f0"/>
<rect x="363.0" y="713.96" width="59.1" height="3.39" fill="#c6d6f1"/>
<rect x="363.0" y="715.50" width="59.1" height="3.39" fill="#c7d7f0"/>
<rect x="363.0" y="717.04" width="59.1" height="4.93" fill="#c5d6f2"/>
<rect x="363.0" y="720.12" width="59.1" height="3.39" fill="#cad8ef"/>
<rect x="363.0" y="721.66" width="59.1" height="3.39" fill="#c7d7f0"/>
<rect x="363.0" y="723.20" width="59.1" height="3.39" fill="#c9d7f0"/>
<rect x="363.0" y="724.74" width="59.1" height="3.39" fill="#d5dbe5"/>
<rect x="363.0" y="726.28" width="59.1" height="3.39" fill="#e7d7ce"/>
<rect x="363.0" y="727.81" width="59.1" height="3.39" fill="#f5c0a7"/>
<rect x="363.0" y="729.35" width="59.1" height="3.39" fill="#f6bda2"/>
<rect x="363.0" y="730.89" width="59.1" height="3.39" fill="#f7ba9f"/>
<rect x="363.0" y="732.43" width="59.1" height="3.39" fill="#f2cab5"/>
<rect x="363.0" y="733.97" width="59.1" height="3.39" fill="#ecd3c5"/>
<rect x="363.0" y="735.51" width="59.1" height="3.39" fill="#dfdbd9"/>
<rect x="363.0" y="737.05" width="59.1" height="3.39" fill="#d5dbe5"/>
<rect x="363.0" y="738.59" width="59.1" height="4.93" fill="#d1dae9"/>
<rect x="363.0" y="741.67" width="59.1" height="3.39" fill="#cfdaea"/>
<rect x="363.0" y="743.21" width="59.1" height="3.39" fill="#cbd8ee"/>
<rect x="363.0" y="744.75" width="59.1" height="3.39" fill="#d8dce2"/>
<rect x="363.0" y="746.29" width="59.1" height="3.39" fill="#f2cab5"/>
<rect x="363.0" y="747.83" width="59.1" height="3.39" fill="#e8d6cc"/>
<rect x="363.0" y="749.37" width="59.1" height="3.39" fill="#e5d8d1"/>
<rect x="363.0" y="750.91" width="59.1" height="3.39" fill="#dbdcde"/>
<rect x="363.0" y="752.45" width="59.1" height="4.93" fill="#d6dce4"/>
<rect x="363.0" y="755.53" width="59.1" height="3.39" fill="#c3d5f4"/>
<rect x="363.0" y="757.07" width="59.1" height="3.39" fill="#9fbfff"/>
<rect x="363.0" y="758.60" width="59.1" height="3.39" fill="#86a9fc"/>
<rect x="363.0" y="760.14" width="59.1" height="3.39" fill="#7093f3"/>
<rect x="363.0" y="761.68" width="59.1" height="3.39" fill="#5b7ae5"/>
<rect x="363.0" y="763.22" width="59.1" height="3.39" fill="#5470de"/>
<rect x="363.0" y="764.76" width="59.1" height="3.39" fill="#4a63d3"/>
<rect x="363.0" y="766.30" width="59.1" height="3.39" fill="#4b64d5"/>
<rect x="363.0" y="767.84" width="59.1" height="3.39" fill="#5875e1"/>
<rect x="363.0" y="769.38" width="59.1" height="3.39" fill="#5f7fe8"/>
<rect x="363.0" y="770.92" width="59.1" height="3.39" fill="#6a8bef"/>
<rect x="363.0" y="772.46" width="59.1" height="3.39" fill="#7da0f9"/>
<rect x="363.0" y="774.00" width="59.1" height="3.39" fill="#86a9fc"/>
<rect x="363.0" y="775.54" width="59.1" height="3.39" fill="#7ea1fa"/>
<rect x="363.0" y="777.08" width="59.1" height="4.93" fill="#7b9ff9"/>
<rect x="363.0" y="780.16" width="59.1" height="3.39" fill="#8fb1fe"/>
<rect x="363.0" y="781.70" width="59.1" height="3.39" fill="#aac7fd"/>
<rect x="363.0" y="783.24" width="59.1" height="3.39" fill="#a9c6fd"/>
<rect x="363.0" y="784.78" width="59.1" height="3.39" fill="#9bbcff"/>
<rect x="363.0" y="786.32" width="59.1" height="3.39" fill="#9abbff"/>
<rect x="363.0" y="787.86" width="59.1" height="3.39" fill="#afcafc"/>
<rect x="363.0" y="789.39" width="59.1" height="3.39" fill="#b1cbfc"/>
<rect x="363.0" y="790.93" width="59.1" height="3.39" fill="#a3c2fe"/>
<rect x="363.0" y="792.47" width="59.1" height="3.39" fill="#92b4fe"/>
<rect x="363.0" y="794.01" width="59.1" height="3.39" fill="#7a9df8"/>
<rect x="363.0" y="795.55" width="59.1" height="3.39" fill="#7b9ff9"/>
<rect x="363.0" y="797.09" width="59.1" height="3.39" fill="#7ea1fa"/>
<rect x="363.0" y="798.63" width="59.1" height="3.39" fill="#7a9df8"/>
<rect x="363.0" y="800.17" width="59.1" height="3.39" fill="#82a6fb"/>
<rect x="363.0" y="801.71" width="59.1" height="3.39" fill="#86a9fc"/>
<rect x="363.0" y="803.25" width="59.1" height="3.39" fill="#7295f4"/>
<rect x="363.0" y="804.79" width="59.1" height="3.39" fill="#6282ea"/>
<rect x="363.0" y="806.33" width="59.1" height="3.39" fill="#5875e1"/>
<rect x="363.0" y="807.87" width="59.1" height="3.39" fill="#5673e0"/>
<rect x="363.0" y="809.41" width="59.1" height="3.39" fill="#5470de"/>
<rect x="363.0" y="810.95" width="59.1" height="3.39" fill="#516ddb"/>
<rect x="363.0" y="812.49" width="59.1" height="3.39" fill="#5470de"/>
<rect x="363.0" y="814.03" width="59.1" height="3.39" fill="#5875e1"/>
<rect x="363.0" y="815.57" width="59.1" height="3.39" fill="#5572df"/>
<rect x="363.0" y="817.11" width="59.1" height="3.39" fill="#4f69d9"/>
<rect x="363.0" y="818.64" width="59.1" height="3.39" fill="#536edd"/>
<rect x="363.0" y="820.18" width="59.1" height="3.39" fill="#5977e3"/>
<rect x="363.0" y="821.72" width="59.1" height="3.39" fill="#5875e1"/>
<rect x="363.0" y="823.26" width="59.1" height="3.39" fill="#5470de"/>
<rect x="363.0" y="824.80" width="59.1" height="4.93" fill="#5673e0"/>
<rect x="363.0" y="827.88" width="59.1" height="3.39" fill="#5875e1"/>
<rect x="363.0" y="829.42" width="59.1" height="3.39" fill="#5977e3"/>
<rect x="363.0" y="830.96" width="59.1" height="3.39" fill="#5875e1"/>
<rect x="363.0" y="832.50" width="59.1" height="3.39" fill="#5d7ce6"/>
<rect x="363.0" y="834.04" width="59.1" height="3.39" fill="#5a78e4"/>
<rect x="363.0" y="835.58" width="59.1" height="3.39" fill="#6384eb"/>
<rect x="363.0" y="837.12" width="59.1" height="3.39" fill="#7597f6"/>
<rect x="363.0" y="838.66" width="59.1" height="3.39" fill="#7da0f9"/>
<rect x="363.0" y="840.20" width="59.1" height="3.39" fill="#6788ee"/>
<rect x="363.0" y="841.74" width="59.1" height="3.39" fill="#5e7de7"/>
<rect x="363.0" y="843.28" width="59.1" height="3.39" fill="#5f7fe8"/>
<rect x="363.0" y="844.82" width="59.1" height="3.39" fill="#6687ed"/>
<rect x="363.0" y="846.36" width="59.1" height="3.39" fill="#6b8df0"/>
<rect x="363.0" y="847.90" width="59.1" height="3.39" fill="#6a8bef"/>
<rect x="363.0" y="849.43" width="59.1" height="3.39" fill="#6485ec"/>
<rect x="363.0" y="850.97" width="59.1" height="3.39" fill="#6e90f2"/>
<rect x="363.0" y="852.51" width="59.1" height="3.39" fill="#88abfd"/>
<rect x="363.0" y="854.05" width="59.1" height="3.39" fill="#8caffe"/>
<rect x="363.0" y="855.59" width="59.1" height="3.39" fill="#84a7fc"/>
<rect x="363.0" y="857.13" width="59.1" height="3.39" fill="#7ea1fa"/>
<rect x="363.0" y="858.67" width="59.1" height="3.39" fill="#799cf8"/>
<rect x="363.0" y="860.21" width="59.1" height="3.39" fill="#7295f4"/>
<rect x="363.0" y="861.75" width="59.1" height="3.39" fill="#6c8ff1"/>
<rect x="363.0" y="863.29" width="59.1" height="3.39" fill="#6485ec"/>
<rect x="363.0" y="864.83" width="59.1" height="3.39" fill="#5b7ae5"/>
<rect x="363.0" y="866.37" width="59.1" height="3.39" fill="#5d7ce6"/>
<rect x="363.0" y="867.91" width="59.1" height="3.39" fill="#6485ec"/>
<rect x="363.0" y="869.45" width="59.1" height="3.39" fill="#5f7fe8"/>
<rect x="363.0" y="870.99" width="59.1" height="3.39" fill="#5e7de7"/>
<rect x="363.0" y="872.53" width="59.1" height="3.39" fill="#6180e9"/>
<rect x="363.0" y="874.07" width="59.1" height="3.39" fill="#6687ed"/>
<rect x="363.0" y="875.61" width="59.1" height="3.39" fill="#6384eb"/>
<rect x="363.0" y="877.15" width="59.1" height="3.39" fill="#6687ed"/>
<rect x="363.0" y="878.69" width="59.1" height="3.39" fill="#6384eb"/>
<rect x="363.0" y="880.22" width="59.1" height="3.39" fill="#6687ed"/>
<rect x="363.0" y="881.76" width="59.1" height="3.39" fill="#6384eb"/>
<rect x="363.0" y="883.30" width="59.1" height="3.39" fill="#6282ea"/>
<rect x="363.0" y="884.84" width="59.1" height="3.39" fill="#6788ee"/>
<rect x="363.0" y="886.38" width="59.1" height="3.39" fill="#6c8ff1"/>
<rect x="363.0" y="887.92" width="59.1" height="3.39" fill="#7a9df8"/>
<rect x="363.0" y="889.46" width="59.1" height="3.39" fill="#8badfd"/>
<rect x="363.0" y="891.00" width="59.1" height="3.39" fill="#7b9ff9"/>
<rect x="363.0" y="892.54" width="59.1" height="3.39" fill="#7396f5"/>
<rect x="363.0" y="894.08" width="59.1" height="6.47" fill="#7093f3"/>
<rect x="363.0" y="898.70" width="59.1" height="3.39" fill="#6f92f3"/>
<rect x="363.0" y="900.24" width="59.1" height="3.39" fill="#7699f6"/>
<rect x="363.0" y="901.78" width="59.1" height="3.39" fill="#7396f5"/>
<rect x="363.0" y="903.32" width="59.1" height="3.39" fill="#6c8ff1"/>
<rect x="363.0" y="904.86" width="59.1" height="3.39" fill="#6e90f2"/>
<rect x="363.0" y="906.40" width="59.1" height="4.93" fill="#7295f4"/>
<rect x="363.0" y="909.48" width="59.1" height="3.39" fill="#7a9df8"/>
<rect x="363.0" y="911.01" width="59.1" height="3.39" fill="#86a9fc"/>
<rect x="363.0" y="912.55" width="59.1" height="3.39" fill="#85a8fc"/>
<rect x="363.0" y="914.09" width="59.1" height="3.39" fill="#7b9ff9"/>
<rect x="363.0" y="915.63" width="59.1" height="3.39" fill="#7396f5"/>
<rect x="363.0" y="917.17" width="59.1" height="4.93" fill="#7295f4"/>
<rect x="363.0" y="920.25" width="59.1" height="3.39" fill="#6a8bef"/>
<rect x="363.0" y="921.79" width="59.1" height="4.93" fill="#6485ec"/>
<rect x="363.0" y="924.87" width="59.1" height="3.39" fill="#6788ee"/>
<rect x="363.0" y="926.41" width="59.1" height="3.39" fill="#6c8ff1"/>
<rect x="363.0" y="927.95" width="59.1" height="3.39" fill="#7295f4"/>
<rect x="363.0" y="929.49" width="59.1" height="3.39" fill="#7a9df8"/>
<rect x="363.0" y="931.03" width="59.1" height="3.39" fill="#80a3fa"/>
<rect x="363.0" y="932.57" width="59.1" height="3.39" fill="#85a8fc"/>
<rect x="363.0" y="934.11" width="59.1" height="3.39" fill="#8db0fe"/>
<rect x="363.0" y="935.65" width="59.1" height="3.39" fill="#93b5fe"/>
<rect x="363.0" y="937.19" width="59.1" height="3.39" fill="#8db0fe"/>
<rect x="363.0" y="938.73" width="59.1" height="3.39" fill="#84a7fc"/>
<rect x="363.0" y="940.26" width="59.1" height="3.39" fill="#779af7"/>
<rect x="363.0" y="941.80" width="59.1" height="3.39" fill="#6f92f3"/>
<rect x="363.0" y="943.34" width="59.1" height="3.39" fill="#7396f5"/>
<rect x="363.0" y="944.88" width="59.1" height="3.39" fill="#7597f6"/>
<rect x="363.0" y="946.42" width="59.1" height="3.39" fill="#6f92f3"/>
<rect x="363.0" y="947.96" width="59.1" height="4.93" fill="#6a8bef"/>
<rect x="363.0" y="951.04" width="59.1" height="3.39" fill="#6c8ff1"/>
<rect x="363.0" y="952.58" width="59.1" height="3.39" fill="#7396f5"/>
<rect x="363.0" y="954.12" width="59.1" height="3.39" fill="#7597f6"/>
<rect x="363.0" y="955.66" width="59.1" height="3.39" fill="#7295f4"/>
<rect x="363.0" y="957.20" width="59.1" height="3.39" fill="#6788ee"/>
<rect x="363.0" y="958.74" width="59.1" height="3.39" fill="#6180e9"/>
<rect x="363.0" y="960.28" width="59.1" height="3.39" fill="#5f7fe8"/>
<rect x="363.0" y="961.82" width="59.1" height="3.39" fill="#5e7de7"/>
<rect x="363.0" y="963.36" width="59.1" height="3.39" fill="#5a78e4"/>
<rect x="363.0" y="964.90" width="59.1" height="3.39" fill="#5875e1"/>
<rect x="363.0" y="966.44" width="59.1" height="3.39" fill="#5977e3"/>
<rect x="363.0" y="967.98" width="59.1" height="3.39" fill="#6282ea"/>
<rect x="363.0" y="969.52" width="59.1" height="3.39" fill="#6a8bef"/>
<rect x="363.0" y="971.05" width="59.1" height="3.39" fill="#6282ea"/>
<rect x="363.0" y="972.59" width="59.1" height="3.39" fill="#6384eb"/>
<rect x="363.0" y="974.13" width="59.1" height="3.39" fill="#6282ea"/>
<rect x="363.0" y="975.67" width="59.1" height="3.39" fill="#5f7fe8"/>
<rect x="363.0" y="977.21" width="59.1" height="3.39" fill="#5b7ae5"/>
<rect x="363.0" y="978.75" width="59.1" height="4.93" fill="#5d7ce6"/>
<rect x="363.0" y="981.83" width="59.1" height="4.93" fill="#5a78e4"/>
<rect x="363.0" y="984.91" width="59.1" height="3.39" fill="#5b7ae5"/>
<rect x="363.0" y="986.45" width="59.1" height="3.39" fill="#5e7de7"/>
<rect x="363.0" y="987.99" width="59.1" height="4.93" fill="#5f7fe8"/>
<rect x="363.0" y="991.07" width="59.1" height="3.39" fill="#5b7ae5"/>
<rect x="363.0" y="992.61" width="59.1" height="3.39" fill="#5470de"/>
<rect x="363.0" y="994.15" width="59.1" height="3.39" fill="#5673e0"/>
<rect x="363.0" y="995.69" width="59.1" height="3.39" fill="#5b7ae5"/>
<rect x="363.0" y="997.23" width="59.1" height="3.39" fill="#5977e3"/>
<rect x="363.0" y="998.77" width="59.1" height="3.39" fill="#5673e0"/>
<rect x="363.0" y="1000.31" width="59.1" height="3.39" fill="#5a78e4"/>
<rect x="363.0" y="1001.84" width="59.1" height="3.39" fill="#5f7fe8"/>
<rect x="363.0" y="1003.38" width="59.1" height="3.39" fill="#5b7ae5"/>
<rect x="363.0" y="1004.92" width="59.1" height="3.39" fill="#5d7ce6"/>
<rect x="363.0" y="1006.46" width="59.1" height="3.39" fill="#5a78e4"/>
<rect x="363.0" y="1008.00" width="59.1" height="3.39" fill="#5673e0"/>
<rect x="363.0" y="1009.54" width="59.1" height="3.39" fill="#5572df"/>
<rect x="363.0" y="1011.08" width="59.1" height="3.39" fill="#5673e0"/>
<rect x="363.0" y="1012.62" width="59.1" height="3.39" fill="#5b7ae5"/>
<rect x="363.0" y="1014.16" width="59.1" height="1.54" fill="#5f7fe8"/>
<rect x="421.8" y="590.80" width="59.1" height="3.39" fill="#536edd"/>
<rect x="421.8" y="592.34" width="59.1" height="3.39" fill="#4f69d9"/>
<rect x="421.8" y="593.88" width="59.1" height="3.39" fill="#4a63d3"/>
<rect x="421.8" y="595.42" width="59.1" height="3.39" fill="#485fd1"/>
<rect x="421.8" y="596.96" width="59.1" height="3.39" fill="#4961d2"/>
<rect x="421.8" y="598.50" width="59.1" height="3.39" fill="#4a63d3"/>
<rect x="421.8" y="600.04" width="59.1" height="3.39" fill="#4b64d5"/>
<rect x="421.8" y="601.58" width="59.1" height="4.93" fill="#4c66d6"/>
<rect x="421.8" y="604.66" width="59.1" height="3.39" fill="#4e68d8"/>
<rect x="421.8" y="606.19" width="59.1" height="3.39" fill="#4c66d6"/>
<rect x="421.8" y="607.73" width="59.1" height="3.39" fill="#4b64d5"/>
<rect x="421.8" y="609.27" width="59.1" height="3.39" fill="#4a63d3"/>
<rect x="421.8" y="610.81" width="59.1" height="3.39" fill="#4b64d5"/>
<rect x="421.8" y="612.35" width="59.1" height="3.39" fill="#4e68d8"/>
<rect x="421.8" y="613.89" width="59.1" height="3.39" fill="#4c66d6"/>
<rect x="421.8" y="615.43" width="59.1" height="3.39" fill="#4f69d9"/>
<rect x="421.8" y="616.97" width="59.1" height="3.39" fill="#5673e0"/>
<rect x="421.8" y="618.51" width="59.1" height="3.39" fill="#5977e3"/>
<rect x="421.8" y="620.05" width="59.1" height="3.39" fill="#5875e1"/>
<rect x="421.8" y="621.59" width="59.1" height="3.39" fill="#5673e0"/>
<rect x="421.8" y="623.13" width="59.1" height="3.39" fill="#5572df"/>
<rect x="421.8" y="624.67" width="59.1" height="3.39" fill="#4f69d9"/>
<rect x="421.8" y="626.21" width="59.1" height="3.39" fill="#4b64d5"/>
<rect x="421.8" y="627.75" width="59.1" height="3.39" fill="#4e68d8"/>
<rect x="421.8" y="629.29" width="59.1" height="3.39" fill="#506bda"/>
<rect x="421.8" y="630.83" width="59.1" height="3.39" fill="#516ddb"/>
<rect x="421.8" y="632.37" width="59.1" height="3.39" fill="#4b64d5"/>
<rect x="421.8" y="633.91" width="59.1" height="9.54" fill="#485fd1"/>
<rect x="421.8" y="641.60" width="59.1" height="3.39" fill="#455cce"/>
<rect x="421.8" y="643.14" width="59.1" height="3.39" fill="#445acc"/>
<rect x="421.8" y="644.68" width="59.1" height="3.39" fill="#465ecf"/>
<rect x="421.8" y="646.22" width="59.1" height="3.39" fill="#485fd1"/>
<rect x="421.8" y="647.76" width="59.1" height="3.39" fill="#465ecf"/>
<rect x="421.8" y="649.30" width="59.1" height="3.39" fill="#455cce"/>
<rect x="421.8" y="650.84" width="59.1" height="3.39" fill="#445acc"/>
<rect x="421.8" y="652.38" width="59.1" height="3.39" fill="#465ecf"/>
<rect x="421.8" y="653.92" width="59.1" height="3.39" fill="#4961d2"/>
<rect x="421.8" y="655.46" width="59.1" height="4.93" fill="#4a63d3"/>
<rect x="421.8" y="658.54" width="59.1" height="3.39" fill="#4b64d5"/>
<rect x="421.8" y="660.08" width="59.1" height="3.39" fill="#4e68d8"/>
<rect x="421.8" y="661.62" width="59.1" height="3.39" fill="#506bda"/>
<rect x="421.8" y="663.16" width="59.1" height="3.39" fill="#4e68d8"/>
<rect x="421.8" y="664.70" width="59.1" height="3.39" fill="#4a63d3"/>
<rect x="421.8" y="666.24" width="59.1" height="3.39" fill="#4961d2"/>
<rect x="421.8" y="667.77" width="59.1" height="3.39" fill="#4358cb"/>
<rect x="421.8" y="669.31" width="59.1" height="3.39" fill="#4257c9"/>
<rect x="421.8" y="670.85" width="59.1" height="4.93" fill="#4055c8"/>
<rect x="421.8" y="673.93" width="59.1" height="4.93" fill="#3f53c6"/>
<rect x="421.8" y="677.01" width="59.1" height="3.39" fill="#4055c8"/>
<rect x="421.8" y="678.55" width="59.1" height="3.39" fill="#4358cb"/>
<rect x="421.8" y="680.09" width="59.1" height="3.39" fill="#455cce"/>
<rect x="421.8" y="681.63" width="59.1" height="3.39" fill="#485fd1"/>
<rect x="421.8" y="683.17" width="59.1" height="3.39" fill="#4c66d6"/>
<rect x="421.8" y="684.71" width="59.1" height="4.93" fill="#5572df"/>
<rect x="421.8" y="687.79" width="59.1" height="3.39" fill="#4e68d8"/>
<rect x="421.8" y="689.33" width="59.1" height="3.39" fill="#4b64d5"/>
<rect x="421.8" y="690.87" width="59.1" height="4.93" fill="#4a63d3"/>
<rect x="421.8" y="693.95" width="59.1" height="4.93" fill="#4c66d6"/>
<rect x="421.8" y="697.02" width="59.1" height="3.39" fill="#4961d2"/>
<rect x="421.8" y="698.56" width="59.1" height="3.39" fill="#465ecf"/>
<rect x="421.8" y="700.10" width="59.1" height="3.39" fill="#485fd1"/>
<rect x="421.8" y="701.64" width="59.1" height="3.39" fill="#4961d2"/>
<rect x="421.8" y="703.18" width="59.1" height="3.39" fill="#4b64d5"/>
<rect x="421.8" y="704.72" width="59.1" height="3.39" fill="#4961d2"/>
<rect x="421.8" y="706.26" width="59.1" height="3.39" fill="#465ecf"/>
<rect x="421.8" y="707.80" width="59.1" height="3.39" fill="#445acc"/>
<rect x="421.8" y="709.34" width="59.1" height="4.93" fill="#455cce"/>
<rect x="421.8" y="712.42" width="59.1" height="3.39" fill="#4358cb"/>
<rect x="421.8" y="713.96" width="59.1" height="3.39" fill="#4257c9"/>
<rect x="421.8" y="715.50" width="59.1" height="4.93" fill="#3f53c6"/>
<rect x="421.8" y="718.58" width="59.1" height="3.39" fill="#4358cb"/>
<rect x="421.8" y="720.12" width="59.1" height="3.39" fill="#445acc"/>
<rect x="421.8" y="721.66" width="59.1" height="3.39" fill="#485fd1"/>
<rect x="421.8" y="723.20" width="59.1" height="3.39" fill="#4a63d3"/>
<rect x="421.8" y="724.74" width="59.1" height="3.39" fill="#4f69d9"/>
<rect x="421.8" y="726.28" width="59.1" height="3.39" fill="#5875e1"/>
<rect x="421.8" y="727.81" width="59.1" height="3.39" fill="#6282ea"/>
<rect x="421.8" y="729.35" width="59.1" height="3.39" fill="#86a9fc"/>
<rect x="421.8" y="730.89" width="59.1" height="3.39" fill="#9bbcff"/>
<rect x="421.8" y="732.43" width="59.1" height="3.39" fill="#aac7fd"/>
<rect x="421.8" y="733.97" width="59.1" height="3.39" fill="#b2ccfb"/>
<rect x="421.8" y="735.51" width="59.1" height="3.39" fill="#a7c5fe"/>
<rect x="421.8" y="737.05" width="59.1" height="3.39" fill="#97b8ff"/>
<rect x="421.8" y="738.59" width="59.1" height="3.39" fill="#88abfd"/>
<rect x="421.8" y="740.13" width="59.1" height="3.39" fill="#7ea1fa"/>
<rect x="421.8" y="741.67" width="59.1" height="3.39" fill="#7b9ff9"/>
<rect x="421.8" y="743.21" width="59.1" height="3.39" fill="#6e90f2"/>
<rect x="421.8" y="744.75" width="59.1" height="3.39" fill="#688aef"/>
<rect x="421.8" y="746.29" width="59.1" height="3.39" fill="#5d7ce6"/>
<rect x="421.8" y="747.83" width="59.1" height="4.93" fill="#5977e3"/>
<rect x="421.8" y="750.91" width="59.1" height="3.39" fill="#6384eb"/>
<rect x="421.8" y="752.45" width="59.1" height="3.39" fill="#6687ed"/>
<rect x="421.8" y="753.99" width="59.1" height="3.39" fill="#6485ec"/>
<rect x="421.8" y="755.53" width="59.1" height="3.39" fill="#6687ed"/>
<rect x="421.8" y="757.07" width="59.1" height="3.39" fill="#6384eb"/>
<rect x="421.8" y="758.60" width="59.1" height="3.39" fill="#5e7de7"/>
<rect x="421.8" y="760.14" width="59.1" height="3.39" fill="#5673e0"/>
<rect x="421.8" y="761.68" width="59.1" height="3.39" fill="#516ddb"/>
<rect x="421.8" y="763.22" width="59.1" height="3.39" fill="#4c66d6"/>
<rect x="421.8" y="764.76" width="59.1" height="3.39" fill="#455cce"/>
<rect x="421.8" y="766.30" width="59.1" height="3.39" fill="#445acc"/>
<rect x="421.8" y="767.84" width="59.1" height="3.39" fill="#465ecf"/>
<rect x="421.8" y="769.38" width="59.1" height="3.39" fill="#4b64d5"/>
<rect x="421.8" y="770.92" width="59.1" height="3.39" fill="#4f69d9"/>
<rect x="421.8" y="772.46" width="59.1" height="3.39" fill="#5a78e4"/>
<rect x="421.8" y="774.00" width="59.1" height="3.39" fill="#6180e9"/>
<rect x="421.8" y="775.54" width="59.1" height="3.39" fill="#5b7ae5"/>
<rect x="421.8" y="777.08" width="59.1" height="3.39" fill="#5875e1"/>
<rect x="421.8" y="778.62" width="59.1" height="4.93" fill="#5470de"/>
<rect x="421.8" y="781.70" width="59.1" height="3.39" fill="#5a78e4"/>
<rect x="421.8" y="783.24" width="59.1" height="3.39" fill="#6282ea"/>
<rect x="421.8" y="784.78" width="59.1" height="3.39" fill="#6384eb"/>
<rect x="421.8" y="786.32" width="59.1" height="3.39" fill="#5b7ae5"/>
<rect x="421.8" y="787.86" width="59.1" height="3.39" fill="#516ddb"/>
<rect x="421.8" y="789.39" width="59.1" height="4.93" fill="#4f69d9"/>
<rect x="421.8" y="792.47" width="59.1" height="3.39" fill="#4c66d6"/>
<rect x="421.8" y="794.01" width="59.1" height="3.39" fill="#4a63d3"/>
<rect x="421.8" y="795.55" width="59.1" height="3.39" fill="#4c66d6"/>
<rect x="421.8" y="797.09" width="59.1" height="3.39" fill="#506bda"/>
<rect x="421.8" y="798.63" width="59.1" height="3.39" fill="#516ddb"/>
<rect x="421.8" y="800.17" width="59.1" height="3.39" fill="#536edd"/>
<rect x="421.8" y="801.71" width="59.1" height="3.39" fill="#5470de"/>
<rect x="421.8" y="803.25" width="59.1" height="3.39" fill="#4f69d9"/>
<rect x="421.8" y="804.79" width="59.1" height="3.39" fill="#4961d2"/>
<rect x="421.8" y="806.33" width="59.1" height="3.39" fill="#465ecf"/>
<rect x="421.8" y="807.87" width="59.1" height="3.39" fill="#4c66d6"/>
<rect x="421.8" y="809.41" width="59.1" height="3.39" fill="#516ddb"/>
<rect x="421.8" y="810.95" width="59.1" height="4.93" fill="#4f69d9"/>
<rect x="421.8" y="814.03" width="59.1" height="3.39" fill="#4c66d6"/>
<rect x="421.8" y="815.57" width="59.1" height="3.39" fill="#4a63d3"/>
<rect x="421.8" y="817.11" width="59.1" height="3.39" fill="#465ecf"/>
<rect x="421.8" y="818.64" width="59.1" height="6.47" fill="#445acc"/>
<rect x="421.8" y="823.26" width="59.1" height="3.39" fill="#4358cb"/>
<rect x="421.8" y="824.80" width="59.1" height="3.39" fill="#445acc"/>
<rect x="421.8" y="826.34" width="59.1" height="3.39" fill="#455cce"/>
<rect x="421.8" y="827.88" width="59.1" height="3.39" fill="#465ecf"/>
<rect x="421.8" y="829.42" width="59.1" height="3.39" fill="#485fd1"/>
<rect x="421.8" y="830.96" width="59.1" height="3.39" fill="#4b64d5"/>
<rect x="421.8" y="832.50" width="59.1" height="3.39" fill="#4f69d9"/>
<rect x="421.8" y="834.04" width="59.1" height="3.39" fill="#485fd1"/>
<rect x="421.8" y="835.58" width="59.1" height="3.39" fill="#445acc"/>
<rect x="421.8" y="837.12" width="59.1" height="3.39" fill="#4a63d3"/>
<rect x="421.8" y="838.66" width="59.1" height="4.93" fill="#516ddb"/>
<rect x="421.8" y="841.74" width="59.1" height="4.93" fill="#506bda"/>
<rect x="421.8" y="844.82" width="59.1" height="3.39" fill="#4f69d9"/>
<rect x="421.8" y="846.36" width="59.1" height="3.39" fill="#4e68d8"/>
<rect x="421.8" y="847.90" width="59.1" height="3.39" fill="#4c66d6"/>
<rect x="421.8" y="849.43" width="59.1" height="4.93" fill="#4961d2"/>
<rect x="421.8" y="852.51" width="59.1" height="3.39" fill="#5470de"/>
<rect x="421.8" y="854.05" width="59.1" height="3.39" fill="#5b7ae5"/>
<rect x="421.8" y="855.59" width="59.1" height="3.39" fill="#5977e3"/>
<rect x="421.8" y="857.13" width="59.1" height="3.39" fill="#5673e0"/>
<rect x="421.8" y="858.67" width="59.1" height="3.39" fill="#5470de"/>
<rect x="421.8" y="860.21" width="59.1" height="3.39" fill="#536edd"/>
<rect x="421.8" y="861.75" width="59.1" height="3.39" fill="#5572df"/>
<rect x="421.8" y="863.29" width="59.1" height="3.39" fill="#5673e0"/>
<rect x="421.8" y="864.83" width="59.1" height="3.39" fill="#5470de"/>
<rect x="421.8" y="866.37" width="59.1" height="3.39" fill="#516ddb"/>
<rect x="421.8" y="867.91" width="59.1" height="3.39" fill="#5470de"/>
<rect x="421.8" y="869.45" width="59.1" height="3.39" fill="#4c66d6"/>
<rect x="421.8" y="870.99" width="59.1" height="3.39" fill="#4a63d3"/>
<rect x="421.8" y="872.53" width="59.1" height="3.39" fill="#4c66d6"/>
<rect x="421.8" y="874.07" width="59.1" height="3.39" fill="#4f69d9"/>
<rect x="421.8" y="875.61" width="59.1" height="3.39" fill="#506bda"/>
<rect x="421.8" y="877.15" width="59.1" height="3.39" fill="#4c66d6"/>
<rect x="421.8" y="878.69" width="59.1" height="3.39" fill="#4f69d9"/>
<rect x="421.8" y="880.22" width="59.1" height="3.39" fill="#5470de"/>
<rect x="421.8" y="881.76" width="59.1" height="4.93" fill="#5673e0"/>
<rect x="421.8" y="884.84" width="59.1" height="3.39" fill="#5a78e4"/>
<rect x="421.8" y="886.38" width="59.1" height="3.39" fill="#5e7de7"/>
<rect x="421.8" y="887.92" width="59.1" height="3.39" fill="#6687ed"/>
<rect x="421.8" y="889.46" width="59.1" height="4.93" fill="#7093f3"/>
<rect x="421.8" y="892.54" width="59.1" height="3.39" fill="#688aef"/>
<rect x="421.8" y="894.08" width="59.1" height="3.39" fill="#5a78e4"/>
<rect x="421.8" y="895.62" width="59.1" height="3.39" fill="#5875e1"/>
<rect x="421.8" y="897.16" width="59.1" height="3.39" fill="#536edd"/>
<rect x="421.8" y="898.70" width="59.1" height="3.39" fill="#5470de"/>
<rect x="421.8" y="900.24" width="59.1" height="3.39" fill="#5b7ae5"/>
<rect x="421.8" y="901.78" width="59.1" height="3.39" fill="#5977e3"/>
<rect x="421.8" y="903.32" width="59.1" height="3.39" fill="#536edd"/>
<rect x="421.8" y="904.86" width="59.1" height="3.39" fill="#5470de"/>
<rect x="421.8" y="906.40" width="59.1" height="3.39" fill="#5875e1"/>
<rect x="421.8" y="907.94" width="59.1" height="3.39" fill="#536edd"/>
<rect x="421.8" y="909.48" width="59.1" height="3.39" fill="#5875e1"/>
<rect x="421.8" y="911.01" width="59.1" height="3.39" fill="#6282ea"/>
<rect x="421.8" y="912.55" width="59.1" height="3.39" fill="#6384eb"/>
<rect x="421.8" y="914.09" width="59.1" height="3.39" fill="#6687ed"/>
<rect x="421.8" y="915.63" width="59.1" height="3.39" fill="#5e7de7"/>
<rect x="421.8" y="917.17" width="59.1" height="4.93" fill="#5470de"/>
<rect x="421.8" y="920.25" width="59.1" height="4.93" fill="#5572df"/>
<rect x="421.8" y="923.33" width="59.1" height="3.39" fill="#5875e1"/>
<rect x="421.8" y="924.87" width="59.1" height="3.39" fill="#5b7ae5"/>
<rect x="421.8" y="926.41" width="59.1" height="3.39" fill="#6180e9"/>
<rect x="421.8" y="927.95" width="59.1" height="3.39" fill="#6485ec"/>
<rect x="421.8" y="929.49" width="59.1" height="3.39" fill="#6c8ff1"/>
<rect x="421.8" y="931.03" width="59.1" height="3.39" fill="#7093f3"/>
<rect x="421.8" y="932.57" width="59.1" height="3.39" fill="#6f92f3"/>
<rect x="421.8" y="934.11" width="59.1" height="3.39" fill="#6e90f2"/>
<rect x="421.8" y="935.65" width="59.1" height="3.39" fill="#6c8ff1"/>
<rect x="421.8" y="937.19" width="59.1" height="3.39" fill="#6a8bef"/>
<rect x="421.8" y="938.73" width="59.1" height="3.39" fill="#6687ed"/>
<rect x="421.8" y="940.26" width="59.1" height="3.39" fill="#6180e9"/>
<rect x="421.8" y="941.80" width="59.1" height="3.39" fill="#5a78e4"/>
<rect x="421.8" y="943.34" width="59.1" height="4.93" fill="#516ddb"/>
<rect x="421.8" y="946.42" width="59.1" height="3.39" fill="#5470de"/>
<rect x="421.8" y="947.96" width="59.1" height="4.93" fill="#5572df"/>
<rect x="421.8" y="951.04" width="59.1" height="4.93" fill="#5470de"/>
<rect x="421.8" y="954.12" width="59.1" height="3.39" fill="#536edd"/>
<rect x="421.8" y="955.66" width="59.1" height="3.39" fill="#5673e0"/>
<rect x="421.8" y="957.20" width="59.1" height="3.39" fill="#5875e1"/>
<rect x="421.8" y="958.74" width="59.1" height="6.47" fill="#5572df"/>
<rect x="421.8" y="963.36" width="59.1" height="3.39" fill="#536edd"/>
<rect x="421.8" y="964.90" width="59.1" height="3.39" fill="#506bda"/>
<rect x="421.8" y="966.44" width="59.1" height="3.39" fill="#4f69d9"/>
<rect x="421.8" y="967.98" width="59.1" height="3.39" fill="#506bda"/>
<rect x="421.8" y="969.52" width="59.1" height="3.39" fill="#536edd"/>
<rect x="421.8" y="971.05" width="59.1" height="6.47" fill="#516ddb"/>
<rect x="421.8" y="975.67" width="59.1" height="4.93" fill="#506bda"/>
<rect x="421.8" y="978.75" width="59.1" height="3.39" fill="#516ddb"/>
<rect x="421.8" y="980.29" width="59.1" height="4.93" fill="#536edd"/>
<rect x="421.8" y="983.37" width="59.1" height="4.93" fill="#4c66d6"/>
<rect x="421.8" y="986.45" width="59.1" height="3.39" fill="#506bda"/>
<rect x="421.8" y="987.99" width="59.1" height="3.39" fill="#5572df"/>
<rect x="421.8" y="989.53" width="59.1" height="3.39" fill="#5470de"/>
<rect x="421.8" y="991.07" width="59.1" height="3.39" fill="#506bda"/>
<rect x="421.8" y="992.61" width="59.1" height="3.39" fill="#4e68d8"/>
<rect x="421.8" y="994.15" width="59.1" height="3.39" fill="#506bda"/>
<rect x="421.8" y="995.69" width="59.1" height="4.93" fill="#536edd"/>
<rect x="421.8" y="998.77" width="59.1" height="3.39" fill="#506bda"/>
<rect x="421.8" y="1000.31" width="59.1" height="4.93" fill="#4f69d9"/>
<rect x="421.8" y="1003.38" width="59.1" height="3.39" fill="#4e68d8"/>
<rect x="421.8" y="1004.92" width="59.1" height="3.39" fill="#4f69d9"/>
<rect x="421.8" y="1006.46" width="59.1" height="4.93" fill="#506bda"/>
<rect x="421.8" y="1009.54" width="59.1" height="3.39" fill="#4b64d5"/>
<rect x="421.8" y="1011.08" width="59.1" height="4.62" fill="#4961d2"/>
<rect x="480.6" y="590.80" width="58.8" height="3.39" fill="#bad0f8"/>
<rect x="480.6" y="592.34" width="58.8" height="3.39" fill="#c1d4f4"/>
<rect x="480.6" y="593.88" width="58.8" height="3.39" fill="#c5d6f2"/>
<rect x="480.6" y="595.42" width="58.8" height="6.47" fill="#cad8ef"/>
<rect x="480.6" y="600.04" width="58.8" height="3.39" fill="#506bda"/>
<rect x="480.6" y="601.58" width="58.8" height="3.39" fill="#5470de"/>
<rect x="480.6" y="603.12" width="58.8" height="3.39" fill="#688aef"/>
<rect x="480.6" y="604.66" width="58.8" height="3.39" fill="#88abfd"/>
<rect x="480.6" y="606.19" width="58.8" height="3.39" fill="#9abbff"/>
<rect x="480.6" y="607.73" width="58.8" height="3.39" fill="#96b7ff"/>
<rect x="480.6" y="609.27" width="58.8" height="3.39" fill="#8fb1fe"/>
<rect x="480.6" y="610.81" width="58.8" height="3.39" fill="#86a9fc"/>
<rect x="480.6" y="612.35" width="58.8" height="3.39" fill="#7da0f9"/>
<rect x="480.6" y="613.89" width="58.8" height="3.39" fill="#8fb1fe"/>
<rect x="480.6" y="615.43" width="58.8" height="3.39" fill="#8db0fe"/>
<rect x="480.6" y="616.97" width="58.8" height="3.39" fill="#84a7fc"/>
<rect x="480.6" y="618.51" width="58.8" height="3.39" fill="#98b9ff"/>
<rect x="480.6" y="620.05" width="58.8" height="3.39" fill="#abc8fd"/>
<rect x="480.6" y="621.59" width="58.8" height="3.39" fill="#b1cbfc"/>
<rect x="480.6" y="623.13" width="58.8" height="3.39" fill="#bfd3f6"/>
<rect x="480.6" y="624.67" width="58.8" height="3.39" fill="#bcd2f7"/>
<rect x="480.6" y="626.21" width="58.8" height="3.39" fill="#b1cbfc"/>
<rect x="480.6" y="627.75" width="58.8" height="3.39" fill="#bcd2f7"/>
<rect x="480.6" y="629.29" width="58.8" height="3.39" fill="#ccd9ed"/>
<rect x="480.6" y="630.83" width="58.8" height="3.39" fill="#cad8ef"/>
<rect x="480.6" y="632.37" width="58.8" height="3.39" fill="#aec9fc"/>
<rect x="480.6" y="633.91" width="58.8" height="3.39" fill="#97b8ff"/>
<rect x="480.6" y="635.45" width="58.8" height="3.39" fill="#a2c1ff"/>
<rect x="480.6" y="636.98" width="58.8" height="3.39" fill="#bfd3f6"/>
<rect x="480.6" y="638.52" width="58.8" height="3.39" fill="#d5dbe5"/>
<rect x="480.6" y="640.06" width="58.8" height="3.39" fill="#d8dce2"/>
<rect x="480.6" y="641.60" width="58.8" height="3.39" fill="#d4dbe6"/>
<rect x="480.6" y="643.14" width="58.8" height="3.39" fill="#e2dad5"/>
<rect x="480.6" y="644.68" width="58.8" height="3.39" fill="#ead5c9"/>
<rect x="480.6" y="646.22" width="58.8" height="3.39" fill="#d3dbe7"/>
<rect x="480.6" y="647.76" width="58.8" height="3.39" fill="#c3d5f4"/>
<rect x="480.6" y="649.30" width="58.8" height="3.39" fill="#d7dce3"/>
<rect x="480.6" y="650.84" width="58.8" height="3.39" fill="#e9d5cb"/>
<rect x="480.6" y="652.38" width="58.8" height="3.39" fill="#e7d7ce"/>
<rect x="480.6" y="653.92" width="58.8" height="3.39" fill="#ecd3c5"/>
<rect x="480.6" y="655.46" width="58.8" height="3.39" fill="#f1cdba"/>
<rect x="480.6" y="657.00" width="58.8" height="3.39" fill="#f6bda2"/>
<rect x="480.6" y="658.54" width="58.8" height="3.39" fill="#f3c8b2"/>
<rect x="480.6" y="660.08" width="58.8" height="3.39" fill="#d7dce3"/>
<rect x="480.6" y="661.62" width="58.8" height="3.39" fill="#c6d6f1"/>
<rect x="480.6" y="663.16" width="58.8" height="3.39" fill="#d2dbe8"/>
<rect x="480.6" y="664.70" width="58.8" height="3.39" fill="#d8dce2"/>
<rect x="480.6" y="666.24" width="58.8" height="3.39" fill="#e6d7cf"/>
<rect x="480.6" y="667.77" width="58.8" height="3.39" fill="#e4d9d2"/>
<rect x="480.6" y="669.31" width="58.8" height="3.39" fill="#d9dce1"/>
<rect x="480.6" y="670.85" width="58.8" height="3.39" fill="#e0dbd8"/>
<rect x="480.6" y="672.39" width="58.8" height="4.93" fill="#dedcdb"/>
<rect x="480.6" y="675.47" width="58.8" height="3.39" fill="#dfdbd9"/>
<rect x="480.6" y="677.01" width="58.8" height="3.39" fill="#d9dce1"/>
<rect x="480.6" y="678.55" width="58.8" height="3.39" fill="#cedaeb"/>
<rect x="480.6" y="680.09" width="58.8" height="3.39" fill="#cdd9ec"/>
<rect x="480.6" y="681.63" width="58.8" height="3.39" fill="#d3dbe7"/>
<rect x="480.6" y="683.17" width="58.8" height="3.39" fill="#dbdcde"/>
<rect x="480.6" y="684.71" width="58.8" height="3.39" fill="#e3d9d3"/>
<rect x="480.6" y="686.25" width="58.8" height="3.39" fill="#e0dbd8"/>
<rect x="480.6" y="687.79" width="58.8" height="3.39" fill="#ead5c9"/>
<rect x="480.6" y="689.33" width="58.8" height="3.39" fill="#e9d5cb"/>
<rect x="480.6" y="690.87" width="58.8" height="3.39" fill="#bed2f6"/>
<rect x="480.6" y="692.41" width="58.8" height="3.39" fill="#9fbfff"/>
<rect x="480.6" y="693.95" width="58.8" height="3.39" fill="#94b6ff"/>
<rect x="480.6" y="695.49" width="58.8" height="3.39" fill="#b5cdfa"/>
<rect x="480.6" y="697.02" width="58.8" height="3.39" fill="#d7dce3"/>
<rect x="480.6" y="698.56" width="58.8" height="3.39" fill="#d5dbe5"/>
<rect x="480.6" y="700.10" width="58.8" height="3.39" fill="#bed2f6"/>
<rect x="480.6" y="701.64" width="58.8" height="3.39" fill="#b9d0f9"/>
<rect x="480.6" y="703.18" width="58.8" height="3.39" fill="#bfd3f6"/>
<rect x="480.6" y="704.72" width="58.8" height="3.39" fill="#bcd2f7"/>
<rect x="480.6" y="706.26" width="58.8" height="3.39" fill="#b9d0f9"/>
<rect x="480.6" y="707.80" width="58.8" height="3.39" fill="#c1d4f4"/>
<rect x="480.6" y="709.34" width="58.8" height="3.39" fill="#d6dce4"/>
<rect x="480.6" y="710.88" width="58.8" height="3.39" fill="#e2dad5"/>
<rect x="480.6" y="712.42" width="58.8" height="3.39" fill="#e0dbd8"/>
<rect x="480.6" y="713.96" width="58.8" height="3.39" fill="#e1dad6"/>
<rect x="480.6" y="715.50" width="58.8" height="3.39" fill="#dbdcde"/>
<rect x="480.6" y="717.04" width="58.8" height="3.39" fill="#c3d5f4"/>
<rect x="480.6" y="718.58" width="58.8" height="3.39" fill="#c7d7f0"/>
<rect x="480.6" y="720.12" width="58.8" height="4.93" fill="#cfdaea"/>
<rect x="480.6" y="723.20" width="58.8" height="4.93" fill="#cbd8ee"/>
<rect x="480.6" y="726.28" width="58.8" height="3.39" fill="#dbdcde"/>
<rect x="480.6" y="727.81" width="58.8" height="3.39" fill="#d3dbe7"/>
<rect x="480.6" y="729.35" width="58.8" height="3.39" fill="#edd1c2"/>
<rect x="480.6" y="730.89" width="58.8" height="3.39" fill="#f4c5ad"/>
<rect x="480.6" y="732.43" width="58.8" height="3.39" fill="#edd2c3"/>
<rect x="480.6" y="733.97" width="58.8" height="4.93" fill="#e7d7ce"/>
<rect x="480.6" y="737.05" width="58.8" height="3.39" fill="#e8d6cc"/>
<rect x="480.6" y="738.59" width="58.8" height="3.39" fill="#edd1c2"/>
<rect x="480.6" y="740.13" width="58.8" height="3.39" fill="#f2c9b4"/>
<rect x="480.6" y="741.67" width="58.8" height="3.39" fill="#f4c5ad"/>
<rect x="480.6" y="743.21" width="58.8" height="3.39" fill="#f3c7b1"/>
<rect x="480.6" y="744.75" width="58.8" height="3.39" fill="#f7a98b"/>
<rect x="480.6" y="746.29" width="58.8" height="3.39" fill="#de614d"/>
<rect x="480.6" y="747.83" width="58.8" height="3.39" fill="#d1493f"/>
<rect x="480.6" y="749.37" width="58.8" height="3.39" fill="#e0654f"/>
<rect x="480.6" y="750.91" width="58.8" height="3.39" fill="#f39577"/>
<rect x="480.6" y="752.45" width="58.8" height="3.39" fill="#f7aa8c"/>
<rect x="480.6" y="753.99" width="58.8" height="3.39" fill="#f7ad90"/>
<rect x="480.6" y="755.53" width="58.8" height="3.39" fill="#f39475"/>
<rect x="480.6" y="757.07" width="58.8" height="3.39" fill="#f7ac8e"/>
<rect x="480.6" y="758.60" width="58.8" height="3.39" fill="#ecd3c5"/>
<rect x="480.6" y="760.14" width="58.8" height="3.39" fill="#d6dce4"/>
<rect x="480.6" y="761.68" width="58.8" height="3.39" fill="#ccd9ed"/>
<rect x="480.6" y="763.22" width="58.8" height="3.39" fill="#cfdaea"/>
<rect x="480.6" y="764.76" width="58.8" height="3.39" fill="#d7dce3"/>
<rect x="480.6" y="766.30" width="58.8" height="3.39" fill="#e8d6cc"/>
<rect x="480.6" y="767.84" width="58.8" height="3.39" fill="#e7d7ce"/>
<rect x="480.6" y="769.38" width="58.8" height="3.39" fill="#b2ccfb"/>
<rect x="480.6" y="770.92" width="58.8" height="3.39" fill="#b6cefa"/>
<rect x="480.6" y="772.46" width="58.8" height="3.39" fill="#dedcdb"/>
<rect x="480.6" y="774.00" width="58.8" height="3.39" fill="#e1dad6"/>
<rect x="480.6" y="775.54" width="58.8" height="3.39" fill="#e0dbd8"/>
<rect x="480.6" y="777.08" width="58.8" height="3.39" fill="#e4d9d2"/>
<rect x="480.6" y="778.62" width="58.8" height="3.39" fill="#e5d8d1"/>
<rect x="480.6" y="780.16" width="58.8" height="3.39" fill="#dddcdc"/>
<rect x="480.6" y="781.70" width="58.8" height="3.39" fill="#f3c8b2"/>
<rect x="480.6" y="783.24" width="58.8" height="3.39" fill="#f08b6e"/>
<rect x="480.6" y="784.78" width="58.8" height="3.39" fill="#ee8669"/>
<rect x="480.6" y="786.32" width="58.8" height="3.39" fill="#e8765c"/>
<rect x="480.6" y="787.86" width="58.8" height="3.39" fill="#d75445"/>
<rect x="480.6" y="789.39" width="58.8" height="3.39" fill="#e36b54"/>
<rect x="480.6" y="790.93" width="58.8" height="3.39" fill="#f49a7b"/>
<rect x="480.6" y="792.47" width="58.8" height="3.39" fill="#f6bda2"/>
<rect x="480.6" y="794.01" width="58.8" height="3.39" fill="#f7bca1"/>
<rect x="480.6" y="795.55" width="58.8" height="3.39" fill="#f7b599"/>
<rect x="480.6" y="797.09" width="58.8" height="3.39" fill="#f5c0a7"/>
<rect x="480.6" y="798.63" width="58.8" height="3.39" fill="#efcebd"/>
<rect x="480.6" y="800.17" width="58.8" height="3.39" fill="#e2dad5"/>
<rect x="480.6" y="801.71" width="58.8" height="3.39" fill="#d5dbe5"/>
<rect x="480.6" y="803.25" width="58.8" height="3.39" fill="#e2dad5"/>
<rect x="480.6" y="804.79" width="58.8" height="3.39" fill="#f4c6af"/>
<rect x="480.6" y="806.33" width="58.8" height="3.39" fill="#e9d5cb"/>
<rect x="480.6" y="807.87" width="58.8" height="3.39" fill="#c4d5f3"/>
<rect x="480.6" y="809.41" width="58.8" height="3.39" fill="#b1cbfc"/>
<rect x="480.6" y="810.95" width="58.8" height="3.39" fill="#a5c3fe"/>
<rect x="480.6" y="812.49" width="58.8" height="3.39" fill="#a6c4fe"/>
<rect x="480.6" y="814.03" width="58.8" height="3.39" fill="#adc9fd"/>
<rect x="480.6" y="815.57" width="58.8" height="3.39" fill="#a3c2fe"/>
<rect x="480.6" y="817.11" width="58.8" height="3.39" fill="#97b8ff"/>
<rect x="480.6" y="818.64" width="58.8" height="3.39" fill="#8fb1fe"/>
<rect x="480.6" y="820.18" width="58.8" height="3.39" fill="#b5cdfa"/>
<rect x="480.6" y="821.72" width="58.8" height="3.39" fill="#c5d6f2"/>
<rect x="480.6" y="823.26" width="58.8" height="3.39" fill="#98b9ff"/>
<rect x="480.6" y="824.80" width="58.8" height="3.39" fill="#88abfd"/>
<rect x="480.6" y="826.34" width="58.8" height="3.39" fill="#90b2fe"/>
<rect x="480.6" y="827.88" width="58.8" height="3.39" fill="#96b7ff"/>
<rect x="480.6" y="829.42" width="58.8" height="3.39" fill="#9abbff"/>
<rect x="480.6" y="830.96" width="58.8" height="3.39" fill="#b3cdfb"/>
<rect x="480.6" y="832.50" width="58.8" height="3.39" fill="#d1dae9"/>
<rect x="480.6" y="834.04" width="58.8" height="3.39" fill="#cedaeb"/>
<rect x="480.6" y="835.58" width="58.8" height="3.39" fill="#edd1c2"/>
<rect x="480.6" y="837.12" width="58.8" height="3.39" fill="#f7b79b"/>
<rect x="480.6" y="838.66" width="58.8" height="3.39" fill="#f7b497"/>
<rect x="480.6" y="840.20" width="58.8" height="3.39" fill="#f7bca1"/>
<rect x="480.6" y="841.74" width="58.8" height="3.39" fill="#f5c0a7"/>
<rect x="480.6" y="843.28" width="58.8" height="3.39" fill="#f5c4ac"/>
<rect x="480.6" y="844.82" width="58.8" height="3.39" fill="#f5c1a9"/>
<rect x="480.6" y="846.36" width="58.8" height="3.39" fill="#edd2c3"/>
<rect x="480.6" y="847.90" width="58.8" height="3.39" fill="#dbdcde"/>
<rect x="480.6" y="849.43" width="58.8" height="3.39" fill="#ccd9ed"/>
<rect x="480.6" y="850.97" width="58.8" height="3.39" fill="#c1d4f4"/>
<rect x="480.6" y="852.51" width="58.8" height="3.39" fill="#edd1c2"/>
<rect x="480.6" y="854.05" width="58.8" height="3.39" fill="#f5c4ac"/>
<rect x="480.6" y="855.59" width="58.8" height="3.39" fill="#e7d7ce"/>
<rect x="480.6" y="857.13" width="58.8" height="3.39" fill="#d6dce4"/>
<rect x="480.6" y="858.67" width="58.8" height="3.39" fill="#cfdaea"/>
<rect x="480.6" y="860.21" width="58.8" height="3.39" fill="#c9d7f0"/>
<rect x="480.6" y="861.75" width="58.8" height="3.39" fill="#b1cbfc"/>
<rect x="480.6" y="863.29" width="58.8" height="3.39" fill="#bcd2f7"/>
<rect x="480.6" y="864.83" width="58.8" height="3.39" fill="#c5d6f2"/>
<rect x="480.6" y="866.37" width="58.8" height="3.39" fill="#c9d7f0"/>
<rect x="480.6" y="867.91" width="58.8" height="3.39" fill="#e2dad5"/>
<rect x="480.6" y="869.45" width="58.8" height="3.39" fill="#c9d7f0"/>
<rect x="480.6" y="870.99" width="58.8" height="3.39" fill="#bbd1f8"/>
<rect x="480.6" y="872.53" width="58.8" height="3.39" fill="#c3d5f4"/>
<rect x="480.6" y="874.07" width="58.8" height="3.39" fill="#cbd8ee"/>
<rect x="480.6" y="875.61" width="58.8" height="3.39" fill="#c9d7f0"/>
<rect x="480.6" y="877.15" width="58.8" height="3.39" fill="#9dbdff"/>
<rect x="480.6" y="878.69" width="58.8" height="3.39" fill="#93b5fe"/>
<rect x="480.6" y="880.22" width="58.8" height="3.39" fill="#8fb1fe"/>
<rect x="480.6" y="881.76" width="58.8" height="3.39" fill="#7699f6"/>
<rect x="480.6" y="883.30" width="58.8" height="3.39" fill="#6f92f3"/>
<rect x="480.6" y="884.84" width="58.8" height="3.39" fill="#80a3fa"/>
<rect x="480.6" y="886.38" width="58.8" height="3.39" fill="#94b6ff"/>
<rect x="480.6" y="887.92" width="58.8" height="3.39" fill="#b7cff9"/>
<rect x="480.6" y="889.46" width="58.8" height="3.39" fill="#d4dbe6"/>
<rect x="480.6" y="891.00" width="58.8" height="3.39" fill="#cedaeb"/>
<rect x="480.6" y="892.54" width="58.8" height="3.39" fill="#c5d6f2"/>
<rect x="480.6" y="894.08" width="58.8" height="3.39" fill="#ccd9ed"/>
<rect x="480.6" y="895.62" width="58.8" height="3.39" fill="#d8dce2"/>
<rect x="480.6" y="897.16" width="58.8" height="3.39" fill="#dadce0"/>
<rect x="480.6" y="898.70" width="58.8" height="3.39" fill="#c3d5f4"/>
<rect x="480.6" y="900.24" width="58.8" height="3.39" fill="#aac7fd"/>
<rect x="480.6" y="901.78" width="58.8" height="3.39" fill="#96b7ff"/>
<rect x="480.6" y="903.32" width="58.8" height="3.39" fill="#8badfd"/>
<rect x="480.6" y="904.86" width="58.8" height="3.39" fill="#96b7ff"/>
<rect x="480.6" y="906.40" width="58.8" height="3.39" fill="#a5c3fe"/>
<rect x="480.6" y="907.94" width="58.8" height="3.39" fill="#a2c1ff"/>
<rect x="480.6" y="909.48" width="58.8" height="3.39" fill="#b9d0f9"/>
<rect x="480.6" y="911.01" width="58.8" height="3.39" fill="#c9d7f0"/>
<rect x="480.6" y="912.55" width="58.8" height="3.39" fill="#c3d5f4"/>
<rect x="480.6" y="914.09" width="58.8" height="3.39" fill="#bbd1f8"/>
<rect x="480.6" y="915.63" width="58.8" height="3.39" fill="#c3d5f4"/>
<rect x="480.6" y="917.17" width="58.8" height="3.39" fill="#d5dbe5"/>
<rect x="480.6" y="918.71" width="58.8" height="3.39" fill="#d4dbe6"/>
<rect x="480.6" y="920.25" width="58.8" height="3.39" fill="#bcd2f7"/>
<rect x="480.6" y="921.79" width="58.8" height="3.39" fill="#bad0f8"/>
<rect x="480.6" y="923.33" width="58.8" height="3.39" fill="#b3cdfb"/>
<rect x="480.6" y="924.87" width="58.8" height="3.39" fill="#b6cefa"/>
<rect x="480.6" y="926.41" width="58.8" height="3.39" fill="#bbd1f8"/>
<rect x="480.6" y="927.95" width="58.8" height="3.39" fill="#b2ccfb"/>
<rect x="480.6" y="929.49" width="58.8" height="3.39" fill="#bbd1f8"/>
<rect x="480.6" y="931.03" width="58.8" height="3.39" fill="#c1d4f4"/>
<rect x="480.6" y="932.57" width="58.8" height="3.39" fill="#d4dbe6"/>
<rect x="480.6" y="934.11" width="58.8" height="3.39" fill="#e0dbd8"/>
<rect x="480.6" y="935.65" width="58.8" height="3.39" fill="#dbdcde"/>
<rect x="480.6" y="937.19" width="58.8" height="3.39" fill="#dedcdb"/>
<rect x="480.6" y="938.73" width="58.8" height="3.39" fill="#d5dbe5"/>
<rect x="480.6" y="940.26" width="58.8" height="3.39" fill="#c6d6f1"/>
<rect x="480.6" y="941.80" width="58.8" height="3.39" fill="#aec9fc"/>
<rect x="480.6" y="943.34" width="58.8" height="3.39" fill="#97b8ff"/>
<rect x="480.6" y="944.88" width="58.8" height="3.39" fill="#9bbcff"/>
<rect x="480.6" y="946.42" width="58.8" height="3.39" fill="#aac7fd"/>
<rect x="480.6" y="947.96" width="58.8" height="3.39" fill="#bbd1f8"/>
<rect x="480.6" y="949.50" width="58.8" height="3.39" fill="#b5cdfa"/>
<rect x="480.6" y="951.04" width="58.8" height="3.39" fill="#b9d0f9"/>
<rect x="480.6" y="952.58" width="58.8" height="4.93" fill="#c5d6f2"/>
<rect x="480.6" y="955.66" width="58.8" height="3.39" fill="#c1d4f4"/>
<rect x="480.6" y="957.20" width="58.8" height="3.39" fill="#bed2f6"/>
<rect x="480.6" y="958.74" width="58.8" height="3.39" fill="#b6cefa"/>
<rect x="480.6" y="960.28" width="58.8" height="3.39" fill="#b1cbfc"/>
<rect x="480.6" y="961.82" width="58.8" height="3.39" fill="#98b9ff"/>
<rect x="480.6" y="963.36" width="58.8" height="3.39" fill="#85a8fc"/>
<rect x="480.6" y="964.90" width="58.8" height="3.39" fill="#799cf8"/>
<rect x="480.6" y="966.44" width="58.8" height="3.39" fill="#86a9fc"/>
<rect x="480.6" y="967.98" width="58.8" height="3.39" fill="#aec9fc"/>
<rect x="480.6" y="969.52" width="58.8" height="3.39" fill="#d4dbe6"/>
<rect x="480.6" y="971.05" width="58.8" height="3.39" fill="#e8d6cc"/>
<rect x="480.6" y="972.59" width="58.8" height="3.39" fill="#e5d8d1"/>
<rect x="480.6" y="974.13" width="58.8" height="3.39" fill="#e0dbd8"/>
<rect x="480.6" y="975.67" width="58.8" height="3.39" fill="#d5dbe5"/>
<rect x="480.6" y="977.21" width="58.8" height="3.39" fill="#cdd9ec"/>
<rect x="480.6" y="978.75" width="58.8" height="3.39" fill="#c6d6f1"/>
<rect x="480.6" y="980.29" width="58.8" height="3.39" fill="#c7d7f0"/>
<rect x="480.6" y="981.83" width="58.8" height="3.39" fill="#c0d4f5"/>
<rect x="480.6" y="983.37" width="58.8" height="3.39" fill="#ccd9ed"/>
<rect x="480.6" y="984.91" width="58.8" height="3.39" fill="#d2dbe8"/>
<rect x="480.6" y="986.45" width="58.8" height="3.39" fill="#d5dbe5"/>
<rect x="480.6" y="987.99" width="58.8" height="3.39" fill="#e1dad6"/>
<rect x="480.6" y="989.53" width="58.8" height="3.39" fill="#dfdbd9"/>
<rect x="480.6" y="991.07" width="58.8" height="3.39" fill="#dcdddd"/>
<rect x="480.6" y="992.61" width="58.8" height="3.39" fill="#e0dbd8"/>
<rect x="480.6" y="994.15" width="58.8" height="3.39" fill="#efcebd"/>
<rect x="480.6" y="995.69" width="58.8" height="3.39" fill="#f29274"/>
<rect x="480.6" y="997.23" width="58.8" height="3.39" fill="#f5c4ac"/>
<rect x="480.6" y="998.77" width="58.8" height="3.39" fill="#e6d7cf"/>
<rect x="480.6" y="1000.31" width="58.8" height="3.39" fill="#d9dce1"/>
<rect x="480.6" y="1001.84" width="58.8" height="3.39" fill="#ccd9ed"/>
<rect x="480.6" y="1003.38" width="58.8" height="3.39" fill="#d5dbe5"/>
<rect x="480.6" y="1004.92" width="58.8" height="3.39" fill="#dadce0"/>
<rect x="480.6" y="1006.46" width="58.8" height="3.39" fill="#d6dce4"/>
<rect x="480.6" y="1008.00" width="58.8" height="3.39" fill="#d1dae9"/>
<rect x="480.6" y="1009.54" width="58.8" height="3.39" fill="#dadce0"/>
<rect x="480.6" y="1011.08" width="58.8" height="3.39" fill="#dcdddd"/>
<rect x="480.6" y="1012.62" width="58.8" height="3.39" fill="#ccd9ed"/>
<rect x="480.6" y="1014.16" width="58.8" height="1.54" fill="#b6cefa"/>
</g>
<path d="M127.6 591.6h2.7" stroke="#333" stroke-width="0.8"/>
<text class="dv" x="124.3" y="594.0" text-anchor="end">2018-06</text>
<path d="M127.6 600.8h2.7" stroke="#333" stroke-width="0.8"/>
<text class="dv" x="124.3" y="603.2" text-anchor="end">2018-07</text>
<path d="M127.6 610.0h2.7" stroke="#333" stroke-width="0.8"/>
<text class="dv" x="124.3" y="612.4" text-anchor="end">2018-09</text>
<path d="M127.6 619.3h2.7" stroke="#333" stroke-width="0.8"/>
<text class="dv" x="124.3" y="621.7" text-anchor="end">2018-10</text>
<path d="M127.6 628.5h2.7" stroke="#333" stroke-width="0.8"/>
<text class="dv" x="124.3" y="630.9" text-anchor="end">2018-11</text>
<path d="M127.6 637.8h2.7" stroke="#333" stroke-width="0.8"/>
<text class="dv" x="124.3" y="640.2" text-anchor="end">2019-01</text>
<path d="M127.6 647.0h2.7" stroke="#333" stroke-width="0.8"/>
<text class="dv" x="124.3" y="649.4" text-anchor="end">2019-02</text>
<path d="M127.6 656.2h2.7" stroke="#333" stroke-width="0.8"/>
<text class="dv" x="124.3" y="658.6" text-anchor="end">2019-04</text>
<path d="M127.6 665.5h2.7" stroke="#333" stroke-width="0.8"/>
<text class="dv" x="124.3" y="667.9" text-anchor="end">2019-05</text>
<path d="M127.6 674.7h2.7" stroke="#333" stroke-width="0.8"/>
<text class="dv" x="124.3" y="677.1" text-anchor="end">2019-07</text>
<path d="M127.6 683.9h2.7" stroke="#333" stroke-width="0.8"/>
<text class="dv" x="124.3" y="686.3" text-anchor="end">2019-08</text>
<path d="M127.6 693.2h2.7" stroke="#333" stroke-width="0.8"/>
<text class="dv" x="124.3" y="695.6" text-anchor="end">2019-09</text>
<path d="M127.6 702.4h2.7" stroke="#333" stroke-width="0.8"/>
<text class="dv" x="124.3" y="704.8" text-anchor="end">2019-11</text>
<path d="M127.6 711.7h2.7" stroke="#333" stroke-width="0.8"/>
<text class="dv" x="124.3" y="714.1" text-anchor="end">2019-12</text>
<path d="M127.6 720.9h2.7" stroke="#333" stroke-width="0.8"/>
<text class="dv" x="124.3" y="723.3" text-anchor="end">2020-01</text>
<path d="M127.6 730.1h2.7" stroke="#333" stroke-width="0.8"/>
<text class="dv" x="124.3" y="732.5" text-anchor="end">2020-03</text>
<path d="M127.6 739.4h2.7" stroke="#333" stroke-width="0.8"/>
<text class="dv" x="124.3" y="741.8" text-anchor="end">2020-04</text>
<path d="M127.6 748.6h2.7" stroke="#333" stroke-width="0.8"/>
<text class="dv" x="124.3" y="751.0" text-anchor="end">2020-06</text>
<path d="M127.6 757.8h2.7" stroke="#333" stroke-width="0.8"/>
<text class="dv" x="124.3" y="760.2" text-anchor="end">2020-07</text>
<path d="M127.6 767.1h2.7" stroke="#333" stroke-width="0.8"/>
<text class="dv" x="124.3" y="769.5" text-anchor="end">2020-08</text>
<path d="M127.6 776.3h2.7" stroke="#333" stroke-width="0.8"/>
<text class="dv" x="124.3" y="778.7" text-anchor="end">2020-10</text>
<path d="M127.6 785.5h2.7" stroke="#333" stroke-width="0.8"/>
<text class="dv" x="124.3" y="787.9" text-anchor="end">2020-11</text>
<path d="M127.6 794.8h2.7" stroke="#333" stroke-width="0.8"/>
<text class="dv" x="124.3" y="797.2" text-anchor="end">2020-12</text>
<path d="M127.6 804.0h2.7" stroke="#333" stroke-width="0.8"/>
<text class="dv" x="124.3" y="806.4" text-anchor="end">2021-02</text>
<path d="M127.6 813.3h2.7" stroke="#333" stroke-width="0.8"/>
<text class="dv" x="124.3" y="815.7" text-anchor="end">2021-03</text>
<path d="M127.6 822.5h2.7" stroke="#333" stroke-width="0.8"/>
<text class="dv" x="124.3" y="824.9" text-anchor="end">2021-05</text>
<path d="M127.6 831.7h2.7" stroke="#333" stroke-width="0.8"/>
<text class="dv" x="124.3" y="834.1" text-anchor="end">2021-06</text>
<path d="M127.6 841.0h2.7" stroke="#333" stroke-width="0.8"/>
<text class="dv" x="124.3" y="843.4" text-anchor="end">2021-07</text>
<path d="M127.6 850.2h2.7" stroke="#333" stroke-width="0.8"/>
<text class="dv" x="124.3" y="852.6" text-anchor="end">2021-09</text>
<path d="M127.6 859.4h2.7" stroke="#333" stroke-width="0.8"/>
<text class="dv" x="124.3" y="861.8" text-anchor="end">2021-10</text>
<path d="M127.6 868.7h2.7" stroke="#333" stroke-width="0.8"/>
<text class="dv" x="124.3" y="871.1" text-anchor="end">2021-11</text>
<path d="M127.6 877.9h2.7" stroke="#333" stroke-width="0.8"/>
<text class="dv" x="124.3" y="880.3" text-anchor="end">2022-01</text>
<path d="M127.6 887.2h2.7" stroke="#333" stroke-width="0.8"/>
<text class="dv" x="124.3" y="889.6" text-anchor="end">2022-02</text>
<path d="M127.6 896.4h2.7" stroke="#333" stroke-width="0.8"/>
<text class="dv" x="124.3" y="898.8" text-anchor="end">2022-04</text>
<path d="M127.6 905.6h2.7" stroke="#333" stroke-width="0.8"/>
<text class="dv" x="124.3" y="908.0" text-anchor="end">2022-05</text>
<path d="M127.6 914.9h2.7" stroke="#333" stroke-width="0.8"/>
<text class="dv" x="124.3" y="917.3" text-anchor="end">2022-06</text>
<path d="M127.6 924.1h2.7" stroke="#333" stroke-width="0.8"/>
<text class="dv" x="124.3" y="926.5" text-anchor="end">2022-08</text>
<path d="M127.6 933.3h2.7" stroke="#333" stroke-width="0.8"/>
<text class="dv" x="124.3" y="935.7" text-anchor="end">2022-09</text>
<path d="M127.6 942.6h2.7" stroke="#333" stroke-width="0.8"/>
<text class="dv" x="124.3" y="945.0" text-anchor="end">2022-11</text>
<path d="M127.6 951.8h2.7" stroke="#333" stroke-width="0.8"/>
<text class="dv" x="124.3" y="954.2" text-anchor="end">2022-12</text>
<path d="M127.6 961.0h2.7" stroke="#333" stroke-width="0.8"/>
<text class="dv" x="124.3" y="963.4" text-anchor="end">2023-01</text>
<path d="M127.6 970.3h2.7" stroke="#333" stroke-width="0.8"/>
<text class="dv" x="124.3" y="972.7" text-anchor="end">2023-03</text>
<path d="M127.6 979.5h2.7" stroke="#333" stroke-width="0.8"/>
<text class="dv" x="124.3" y="981.9" text-anchor="end">2023-04</text>
<path d="M127.6 988.8h2.7" stroke="#333" stroke-width="0.8"/>
<text class="dv" x="124.3" y="991.2" text-anchor="end">2023-06</text>
<path d="M127.6 998.0h2.7" stroke="#333" stroke-width="0.8"/>
<text class="dv" x="124.3" y="1000.4" text-anchor="end">2023-07</text>
<path d="M127.6 1007.2h2.7" stroke="#333" stroke-width="0.8"/>
<text class="dv" x="124.3" y="1009.6" text-anchor="end">2023-08</text>
<text class="dv" transform="translate(82,804.5) rotate(-90)" text-anchor="middle">Date</text>
<path d="M157.2 1013.1v2.7" stroke="#333" stroke-width="0.8"/>
<text class="dv" transform="translate(160.4,1019.6) rotate(-90)" text-anchor="end">GLBLBANK-IGRAITI</text>
<path d="M216.0 1013.1v2.7" stroke="#333" stroke-width="0.8"/>
<text class="dv" transform="translate(219.2,1019.6) rotate(-90)" text-anchor="end">GLBLBANK-SPKFPI</text>
<path d="M274.8 1013.1v2.7" stroke="#333" stroke-width="0.8"/>
<text class="dv" transform="translate(278.0,1019.6) rotate(-90)" text-anchor="end">GLBLBANK-SPKAFI</text>
<path d="M333.6 1013.1v2.7" stroke="#333" stroke-width="0.8"/>
<text class="dv" transform="translate(336.8,1019.6) rotate(-90)" text-anchor="end">GLBLBANK-SPKDBI</text>
<path d="M392.4 1013.1v2.7" stroke="#333" stroke-width="0.8"/>
<text class="dv" transform="translate(395.6,1019.6) rotate(-90)" text-anchor="end">GLBLBANK-SPKDLI</text>
<path d="M451.2 1013.1v2.7" stroke="#333" stroke-width="0.8"/>
<text class="dv" transform="translate(454.4,1019.6) rotate(-90)" text-anchor="end">GLBLBANK-SPKCDEFI</text>
<path d="M510.0 1013.1v2.7" stroke="#333" stroke-width="0.8"/>
<text class="dv" transform="translate(513.2,1019.6) rotate(-90)" text-anchor="end">GLBLBANK-KNFTI</text>
<defs><linearGradient id="cb" x1="0" y1="1" x2="0" y2="0">
<stop offset="0.00000" stop-color="#3b4cc0"/>
<stop offset="0.03125" stop-color="#445acc"/>
<stop offset="0.06250" stop-color="#4e68d8"/>
<stop offset="0.09375" stop-color="#5875e1"/>
<stop offset="0.12500" stop-color="#6282ea"/>
<stop offset="0.15625" stop-color="#6c8ff1"/>
<stop offset="0.18750" stop-color="#779af7"/>
<stop offset="0.21875" stop-color="#82a6fb"/>
<stop offset="0.25000" stop-color="#8db0fe"/>
<stop offset="0.28125" stop-color="#98b9ff"/>
<stop offset="0.31250" stop-color="#a3c2fe"/>
<stop offset="0.34375" stop-color="#aec9fc"/>
<stop offset="0.37500" stop-color="#b9d0f9"/>
<stop offset="0.40625" stop-color="#c3d5f4"/>
<stop offset="0.43750" stop-color="#ccd9ed"/>
<stop offset="0.46875" stop-color="#d5dbe5"/>
<stop offset="0.50000" stop-color="#dddcdc"/>
<stop offset="0.53125" stop-color="#e5d8d1"/>
<stop offset="0.56250" stop-color="#ecd3c5"/>
<stop offset="0.59375" stop-color="#f1ccb8"/>
<stop offset="0.62500" stop-color="#f5c4ac"/>
<stop offset="0.65625" stop-color="#f7ba9f"/>
<stop offset="0.68750" stop-color="#f7b093"/>
<stop offset="0.71875" stop-color="#f6a586"/>
<stop offset="0.75000" stop-color="#f4987a"/>
<stop offset="0.78125" stop-color="#f08b6e"/>
<stop offset="0.81250" stop-color="#eb7d62"/>
<stop offset="0.84375" stop-color="#e46e56"/>
<stop offset="0.87500" stop-color="#dd5f4b"/>
<stop offset="0.90625" stop-color="#d44e41"/>
<stop offset="0.93750" stop-color="#ca3b37"/>
<stop offset="0.96875" stop-color="#be242e"/>
<stop offset="1.00000" stop-color="#b40426"/>
</linearGradient></defs>
<rect x="564.7" y="590.8" width="21.5" height="424.9" fill="url(#cb)"/>
<path d="M583.6 1001.5h2.6" stroke="#333" stroke-width="0.8"/>
<text class="dv" x="589.8" y="1004.8">0.0</text>
<path d="M583.6 932.3h2.6" stroke="#333" stroke-width="0.8"/>
<text class="dv" x="589.8" y="935.6">0.2</text>
<path d="M583.6 863.1h2.6" stroke="#333" stroke-width="0.8"/>
<text class="dv" x="589.8" y="866.4">0.4</text>
<path d="M583.6 794.0h2.6" stroke="#333" stroke-width="0.8"/>
<text class="dv" x="589.8" y="797.3">0.6</text>
<path d="M583.6 724.8h2.6" stroke="#333" stroke-width="0.8"/>
<text class="dv" x="589.8" y="728.1">0.8</text>
<path d="M583.6 655.6h2.6" stroke="#333" stroke-width="0.8"/>
<text class="dv" x="589.8" y="658.9">1.0</text>
<text class="cap" x="123.9" y="1145.8" font-weight="bold">b.</text>
<text class="cap" x="144.4" y="1145.8" textLength="541.3" lengthAdjust="spacingAndGlyphs">Heatmap of Dynamic HE between GLBLBNK and FinTech Indices</text>
</svg></body></html>
